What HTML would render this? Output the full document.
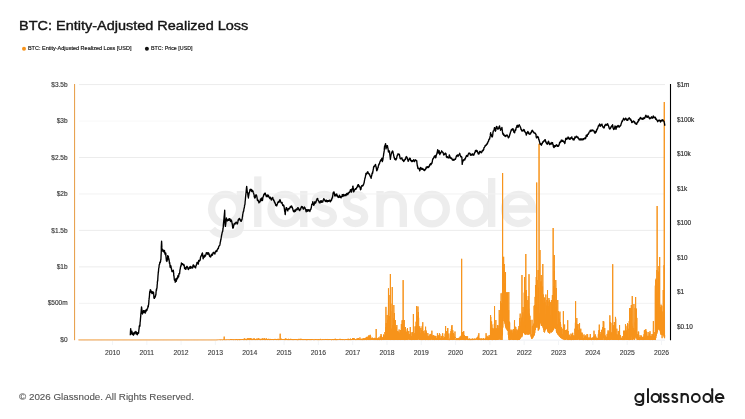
<!DOCTYPE html>
<html><head><meta charset="utf-8"><style>
html,body{margin:0;padding:0;background:#fff;}
body{width:745px;height:419px;overflow:hidden;}
svg{display:block;will-change:transform;font-family:"Liberation Sans",sans-serif;}
</style></head><body>
<svg width="745" height="419" viewBox="0 0 745 419">
<rect width="745" height="419" fill="#fff"/>
<text x="19" y="29.5" font-size="13.3" fill="#151515" stroke="#151515" stroke-width="0.4" textLength="229.3" lengthAdjust="spacingAndGlyphs">BTC: Entity-Adjusted Realized Loss</text>
<circle cx="24" cy="48.8" r="2" fill="#f7931a"/>
<text x="27.9" y="49.7" font-size="5.3" fill="#111" stroke="#111" stroke-width="0.15" textLength="103.6" lengthAdjust="spacingAndGlyphs">BTC: Entity-Adjusted Realized Loss [USD]</text>
<circle cx="146.9" cy="48.8" r="2" fill="#111"/>
<text x="151" y="49.7" font-size="5.3" fill="#111" stroke="#111" stroke-width="0.15" textLength="41.6" lengthAdjust="spacingAndGlyphs">BTC: Price [USD]</text>
<!-- watermark -->
<defs><g id="gn" fill="none">
<ellipse cx="225.6" cy="209" rx="14" ry="14.55"/>
<path d="M240.4,190.9V226C240.4,232.5 234,234.8 226,234.8C219.5,234.8 215,232.5 212.2,229.2"/>
<path d="M257.8,176.4V227"/>
<ellipse cx="285" cy="209" rx="14" ry="14.55"/>
<path d="M303.8,190.9V227"/>
<path id="s1" d="M332.5,199.5C331,196 327.8,194.4 324.2,194.4C319,194.4 315.3,197 315.3,201.2C315.3,205.5 319.5,207.3 324.2,208.6C329.5,210 333.4,212 333.4,216.3C333.4,220.8 329.4,223.5 324.2,223.5C319.8,223.5 316.2,221.5 314.6,217.5"/>
<path d="M332.5,199.5C331,196 327.8,194.4 324.2,194.4C319,194.4 315.3,197 315.3,201.2C315.3,205.5 319.5,207.3 324.2,208.6C329.5,210 333.4,212 333.4,216.3C333.4,220.8 329.4,223.5 324.2,223.5C319.8,223.5 316.2,221.5 314.6,217.5" transform="translate(31.3,0)"/>
<path d="M380,190.9V227M380,208C380,199 385,194.4 391.3,194.4C398.5,194.4 403.3,199 403.3,207V227"/>
<ellipse cx="432" cy="209.2" rx="14.3" ry="14.7"/>
<ellipse cx="473.4" cy="209" rx="13.7" ry="14.55"/>
<path d="M491.7,178V227"/>
<path d="M504.5,209H532.5A14,14.55 0 1 0 529.2,218.4"/>
</g></defs>
<use href="#gn" stroke="#ededed" stroke-width="7.3"/>
<!-- gridlines -->
<g stroke-width="1">
<path d="M79,84.6H665M79,157.5H665M79,230.4H665M79,266.9H665" stroke="#ececec"/>
<path d="M79,121.05H665" stroke="#f8f8f8"/>
<path d="M79,193.95H665M79,303.3H665" stroke="#f2f2f2"/>
<path d="M79,340.1H665" stroke="#eceff3"/>
</g>
<!-- x ticks -->
<g stroke="#f0f2f5" stroke-width="0.8">
<path d="M112.5,341V345M146.8,341V345M181.1,341V345M215.4,341V345M249.7,341V345M284.1,341V345M318.4,341V345M352.7,341V345M387.0,341V345M421.3,341V345M455.6,341V345M489.9,341V345M524.2,341V345M558.5,341V345M592.8,341V345M627.2,341V345M661.5,341V345"/>
</g>
<!-- axes -->
<path d="M74.6,84V340.2" stroke="#e69a40" stroke-width="1"/>
<path d="M670.5,84V340.2" stroke="#000" stroke-width="1.1"/>
<g font-size="6.5" fill="#383838" stroke="#383838" stroke-width="0.15" text-anchor="end">
<text x="67.6" y="86.7">$3.5b</text>
<text x="67.6" y="123.1">$3b</text>
<text x="67.6" y="159.6">$2.5b</text>
<text x="67.6" y="196.0">$2b</text>
<text x="67.6" y="232.5">$1.5b</text>
<text x="67.6" y="269.0">$1b</text>
<text x="67.6" y="305.4">$500m</text>
<text x="67.6" y="341.9">$0</text>
</g>
<g font-size="6.4" fill="#2a2a2a" stroke="#2a2a2a" stroke-width="0.15">
<text x="676.9" y="87.1">$1m</text>
<text x="676.9" y="121.6">$100k</text>
<text x="676.9" y="156.1">$10k</text>
<text x="676.9" y="190.6">$1k</text>
<text x="676.9" y="225.1">$100</text>
<text x="676.9" y="259.6">$10</text>
<text x="676.9" y="294.1">$1</text>
<text x="676.9" y="328.6">$0.10</text>
</g>
<g font-size="6.8" fill="#404040" stroke="#404040" stroke-width="0.12" text-anchor="middle">
<text x="112.5" y="355.2">2010</text>
<text x="146.8" y="355.2">2011</text>
<text x="181.1" y="355.2">2012</text>
<text x="215.4" y="355.2">2013</text>
<text x="249.7" y="355.2">2014</text>
<text x="284.1" y="355.2">2015</text>
<text x="318.4" y="355.2">2016</text>
<text x="352.7" y="355.2">2017</text>
<text x="387.0" y="355.2">2018</text>
<text x="421.3" y="355.2">2019</text>
<text x="455.6" y="355.2">2020</text>
<text x="489.9" y="355.2">2021</text>
<text x="524.2" y="355.2">2022</text>
<text x="558.5" y="355.2">2023</text>
<text x="592.8" y="355.2">2024</text>
<text x="627.2" y="355.2">2025</text>
<text x="661.5" y="355.2">2026</text>
</g>
<!-- orange series -->
<path d="M78.40,339.9 78.50,339.9 78.59,339.9 78.68,339.9 78.78,339.9 78.87,339.9 78.96,339.9 79.06,339.9 79.15,339.9 79.25,339.9 79.34,339.9 79.43,339.9 79.53,339.9 79.62,339.9 79.72,339.9 79.81,339.9 79.90,339.9 80.00,339.9 80.09,339.9 80.19,339.9 80.28,339.9 80.37,339.9 80.47,339.9 80.56,339.9 80.66,339.9 80.75,339.9 80.84,339.9 80.94,339.9 81.03,339.9 81.13,339.9 81.22,339.9 81.31,339.9 81.41,339.9 81.50,339.9 81.60,339.9 81.69,339.9 81.78,339.9 81.88,339.9 81.97,339.9 82.06,339.9 82.16,339.9 82.25,339.9 82.35,339.9 82.44,339.9 82.53,339.9 82.63,339.9 82.72,339.9 82.82,339.9 82.91,339.9 83.00,339.9 83.10,339.9 83.19,339.9 83.29,339.9 83.38,339.9 83.47,339.9 83.57,339.9 83.66,339.9 83.76,339.9 83.85,339.9 83.94,339.9 84.04,339.9 84.13,339.9 84.23,339.9 84.32,339.9 84.41,339.9 84.51,339.9 84.60,339.9 84.70,339.9 84.79,339.9 84.88,339.9 84.98,339.9 85.07,339.9 85.16,339.9 85.26,339.9 85.35,339.9 85.45,339.9 85.54,339.9 85.63,339.9 85.73,339.9 85.82,339.9 85.92,339.9 86.01,339.9 86.10,339.9 86.20,339.9 86.29,339.9 86.39,339.9 86.48,339.9 86.57,339.9 86.67,339.9 86.76,339.9 86.86,339.9 86.95,339.9 87.04,339.9 87.14,339.9 87.23,339.9 87.33,339.9 87.42,339.9 87.51,339.9 87.61,339.9 87.70,339.9 87.79,339.9 87.89,339.9 87.98,339.9 88.08,339.9 88.17,339.9 88.26,339.9 88.36,339.9 88.45,339.9 88.55,339.9 88.64,339.9 88.73,339.9 88.83,339.9 88.92,339.9 89.02,339.9 89.11,339.9 89.20,339.9 89.30,339.9 89.39,339.9 89.49,339.9 89.58,339.9 89.67,339.9 89.77,339.9 89.86,339.9 89.96,339.9 90.05,339.9 90.14,339.9 90.24,339.9 90.33,339.9 90.43,339.9 90.52,339.9 90.61,339.9 90.71,339.9 90.80,339.9 90.89,339.9 90.99,339.9 91.08,339.9 91.18,339.9 91.27,339.9 91.36,339.9 91.46,339.9 91.55,339.9 91.65,339.9 91.74,339.9 91.83,339.9 91.93,339.9 92.02,339.9 92.12,339.9 92.21,339.9 92.30,339.9 92.40,339.9 92.49,339.9 92.59,339.9 92.68,339.9 92.77,339.9 92.87,339.9 92.96,339.9 93.06,339.9 93.15,339.9 93.24,339.9 93.34,339.9 93.43,339.9 93.52,339.9 93.62,339.9 93.71,339.9 93.81,339.9 93.90,339.9 93.99,339.9 94.09,339.9 94.18,339.9 94.28,339.9 94.37,339.9 94.46,339.9 94.56,339.9 94.65,339.9 94.75,339.9 94.84,339.9 94.93,339.9 95.03,339.9 95.12,339.9 95.22,339.9 95.31,339.9 95.40,339.9 95.50,339.9 95.59,339.9 95.69,339.9 95.78,339.9 95.87,339.9 95.97,339.9 96.06,339.9 96.16,339.9 96.25,339.9 96.34,339.9 96.44,339.9 96.53,339.9 96.62,339.9 96.72,339.9 96.81,339.9 96.91,339.9 97.00,339.9 97.09,339.9 97.19,339.9 97.28,339.9 97.38,339.9 97.47,339.9 97.56,339.9 97.66,339.9 97.75,339.9 97.85,339.9 97.94,339.9 98.03,339.9 98.13,339.9 98.22,339.9 98.32,339.9 98.41,339.9 98.50,339.9 98.60,339.9 98.69,339.9 98.79,339.9 98.88,339.9 98.97,339.9 99.07,339.9 99.16,339.9 99.26,339.9 99.35,339.9 99.44,339.9 99.54,339.9 99.63,339.9 99.72,339.9 99.82,339.9 99.91,339.9 100.01,339.9 100.10,339.9 100.19,339.9 100.29,339.9 100.38,339.9 100.48,339.9 100.57,339.9 100.66,339.9 100.76,339.9 100.85,339.9 100.95,339.9 101.04,339.9 101.13,339.9 101.23,339.9 101.32,339.9 101.42,339.9 101.51,339.9 101.60,339.9 101.70,339.9 101.79,339.9 101.89,339.9 101.98,339.9 102.07,339.9 102.17,339.9 102.26,339.9 102.35,339.9 102.45,339.9 102.54,339.9 102.64,339.9 102.73,339.9 102.82,339.9 102.92,339.9 103.01,339.9 103.11,339.9 103.20,339.9 103.29,339.9 103.39,339.9 103.48,339.9 103.58,339.9 103.67,339.9 103.76,339.9 103.86,339.9 103.95,339.9 104.05,339.9 104.14,339.9 104.23,339.9 104.33,339.9 104.42,339.9 104.52,339.9 104.61,339.9 104.70,339.9 104.80,339.9 104.89,339.9 104.99,339.9 105.08,339.9 105.17,339.9 105.27,339.9 105.36,339.9 105.45,339.9 105.55,339.9 105.64,339.9 105.74,339.9 105.83,339.9 105.92,339.9 106.02,339.9 106.11,339.9 106.21,339.9 106.30,339.9 106.39,339.9 106.49,339.9 106.58,339.9 106.68,339.9 106.77,339.9 106.86,339.9 106.96,339.9 107.05,339.9 107.15,339.9 107.24,339.9 107.33,339.9 107.43,339.9 107.52,339.9 107.62,339.9 107.71,339.9 107.80,339.9 107.90,339.9 107.99,339.9 108.09,339.9 108.18,339.9 108.27,339.9 108.37,339.9 108.46,339.9 108.55,339.9 108.65,339.9 108.74,339.9 108.84,339.9 108.93,339.9 109.02,339.9 109.12,339.9 109.21,339.9 109.31,339.9 109.40,339.9 109.49,339.9 109.59,339.9 109.68,339.9 109.78,339.9 109.87,339.9 109.96,339.9 110.06,339.9 110.15,339.9 110.25,339.9 110.34,339.9 110.43,339.9 110.53,339.9 110.62,339.9 110.72,339.9 110.81,339.9 110.90,339.9 111.00,339.9 111.09,339.9 111.18,339.9 111.28,339.9 111.37,339.9 111.47,339.9 111.56,339.9 111.65,339.9 111.75,339.9 111.84,339.9 111.94,339.9 112.03,339.9 112.12,339.9 112.22,339.9 112.31,339.9 112.41,339.9 112.50,339.9 112.59,339.9 112.69,339.9 112.78,339.9 112.88,339.9 112.97,339.9 113.06,339.9 113.16,339.9 113.25,339.9 113.35,339.9 113.44,339.9 113.53,339.9 113.63,339.9 113.72,339.9 113.82,339.9 113.91,339.9 114.00,339.9 114.10,339.9 114.19,339.9 114.28,339.9 114.38,339.9 114.47,339.9 114.57,339.9 114.66,339.9 114.75,339.9 114.85,339.9 114.94,339.9 115.04,339.9 115.13,339.9 115.22,339.9 115.32,339.9 115.41,339.9 115.51,339.9 115.60,339.9 115.69,339.9 115.79,339.9 115.88,339.9 115.98,339.9 116.07,339.9 116.16,339.9 116.26,339.9 116.35,339.9 116.45,339.9 116.54,339.9 116.63,339.9 116.73,339.9 116.82,339.9 116.91,339.9 117.01,339.9 117.10,339.9 117.20,339.9 117.29,339.9 117.38,339.9 117.48,339.9 117.57,339.9 117.67,339.9 117.76,339.9 117.85,339.9 117.95,339.9 118.04,339.9 118.14,339.9 118.23,339.9 118.32,339.9 118.42,339.9 118.51,339.9 118.61,339.9 118.70,339.9 118.79,339.9 118.89,339.9 118.98,339.9 119.08,339.9 119.17,339.9 119.26,339.9 119.36,339.9 119.45,339.9 119.55,339.9 119.64,339.9 119.73,339.9 119.83,339.9 119.92,339.9 120.01,339.9 120.11,339.9 120.20,339.9 120.30,339.9 120.39,339.9 120.48,339.9 120.58,339.9 120.67,339.9 120.77,339.9 120.86,339.9 120.95,339.9 121.05,339.9 121.14,339.9 121.24,339.9 121.33,339.9 121.42,339.9 121.52,339.9 121.61,339.9 121.71,339.9 121.80,339.9 121.89,339.9 121.99,339.9 122.08,339.9 122.18,339.9 122.27,339.9 122.36,339.9 122.46,339.9 122.55,339.9 122.65,339.9 122.74,339.9 122.83,339.9 122.93,339.9 123.02,339.9 123.11,339.9 123.21,339.9 123.30,339.9 123.40,339.9 123.49,339.9 123.58,339.9 123.68,339.9 123.77,339.9 123.87,339.9 123.96,339.9 124.05,339.9 124.15,339.9 124.24,339.9 124.34,339.9 124.43,339.9 124.52,339.9 124.62,339.9 124.71,339.9 124.81,339.9 124.90,339.9 124.99,339.9 125.09,339.9 125.18,339.9 125.28,339.9 125.37,339.9 125.46,339.9 125.56,339.9 125.65,339.9 125.74,339.9 125.84,339.9 125.93,339.9 126.03,339.9 126.12,339.9 126.21,339.9 126.31,339.9 126.40,339.9 126.50,339.9 126.59,339.9 126.68,339.9 126.78,339.9 126.87,339.9 126.97,339.9 127.06,339.9 127.15,339.9 127.25,339.9 127.34,339.9 127.44,339.9 127.53,339.9 127.62,339.9 127.72,339.9 127.81,339.9 127.91,339.9 128.00,339.9 128.09,339.9 128.19,339.9 128.28,339.9 128.38,339.9 128.47,339.9 128.56,339.9 128.66,339.9 128.75,339.9 128.84,339.9 128.94,339.9 129.03,339.9 129.13,339.9 129.22,339.9 129.31,339.9 129.41,339.9 129.50,339.9 129.60,339.9 129.69,339.9 129.78,339.9 129.88,339.9 129.97,339.9 130.07,339.9 130.16,339.9 130.25,339.9 130.35,339.9 130.44,339.9 130.54,339.9 130.63,339.9 130.72,339.9 130.82,339.9 130.91,339.9 131.01,339.9 131.10,339.9 131.19,339.9 131.29,339.9 131.38,339.9 131.48,339.9 131.57,339.9 131.66,339.9 131.76,339.9 131.85,339.9 131.94,339.9 132.04,339.9 132.13,339.9 132.23,339.9 132.32,339.9 132.41,339.9 132.51,339.9 132.60,339.9 132.70,339.9 132.79,339.9 132.88,339.9 132.98,339.9 133.07,339.9 133.17,339.9 133.26,339.9 133.35,339.9 133.45,339.9 133.54,339.9 133.64,339.9 133.73,339.9 133.82,339.9 133.92,339.9 134.01,339.9 134.11,339.9 134.20,339.9 134.29,339.9 134.39,339.9 134.48,339.9 134.57,339.9 134.67,339.9 134.76,339.9 134.86,339.9 134.95,339.9 135.04,339.9 135.14,339.9 135.23,339.9 135.33,339.9 135.42,339.9 135.51,339.9 135.61,339.9 135.70,339.9 135.80,339.9 135.89,339.9 135.98,339.9 136.08,339.9 136.17,339.9 136.27,339.9 136.36,339.9 136.45,339.9 136.55,339.9 136.64,339.9 136.74,339.9 136.83,339.9 136.92,339.9 137.02,339.9 137.11,339.9 137.21,339.9 137.30,339.9 137.39,339.9 137.49,339.9 137.58,339.9 137.67,339.9 137.77,339.9 137.86,339.9 137.96,339.9 138.05,339.9 138.14,339.9 138.24,339.9 138.33,339.9 138.43,339.9 138.52,339.9 138.61,339.9 138.71,339.9 138.80,339.9 138.90,339.9 138.99,339.9 139.08,339.9 139.18,339.9 139.27,339.9 139.37,339.9 139.46,339.9 139.55,339.9 139.65,339.9 139.74,339.9 139.84,339.9 139.93,339.9 140.02,339.9 140.12,339.9 140.21,339.9 140.30,339.9 140.40,339.9 140.49,339.9 140.59,339.9 140.68,339.9 140.77,339.9 140.87,339.9 140.96,339.9 141.06,339.9 141.15,339.9 141.24,339.9 141.34,339.9 141.43,339.9 141.53,339.9 141.62,339.9 141.71,339.9 141.81,339.9 141.90,339.9 142.00,339.9 142.09,339.9 142.18,339.9 142.28,339.9 142.37,339.9 142.47,339.9 142.56,339.9 142.65,339.9 142.75,339.9 142.84,339.9 142.94,339.9 143.03,339.9 143.12,339.9 143.22,339.9 143.31,339.9 143.40,339.9 143.50,339.9 143.59,339.9 143.69,339.9 143.78,339.9 143.87,339.9 143.97,339.9 144.06,339.9 144.16,339.9 144.25,339.9 144.34,339.9 144.44,339.9 144.53,339.9 144.63,339.9 144.72,339.9 144.81,339.9 144.91,339.9 145.00,339.9 145.10,339.9 145.19,339.9 145.28,339.9 145.38,339.9 145.47,339.9 145.57,339.9 145.66,339.9 145.75,339.9 145.85,339.9 145.94,339.9 146.04,339.9 146.13,339.9 146.22,339.9 146.32,339.9 146.41,339.9 146.50,339.9 146.60,339.9 146.69,339.9 146.79,339.9 146.88,339.9 146.97,339.9 147.07,339.9 147.16,339.9 147.26,339.9 147.35,339.9 147.44,339.9 147.54,339.9 147.63,339.9 147.73,339.9 147.82,339.9 147.91,339.9 148.01,339.9 148.10,339.9 148.20,339.9 148.29,339.9 148.38,339.9 148.48,339.9 148.57,339.9 148.67,339.9 148.76,339.9 148.85,339.9 148.95,339.9 149.04,339.9 149.13,339.9 149.23,339.9 149.32,339.9 149.42,339.9 149.51,339.9 149.60,339.9 149.70,339.9 149.79,339.9 149.89,339.9 149.98,339.9 150.07,339.9 150.17,339.9 150.26,339.9 150.36,339.9 150.45,339.9 150.54,339.9 150.64,339.9 150.73,339.9 150.83,339.9 150.92,339.9 151.01,339.9 151.11,339.9 151.20,339.9 151.30,339.9 151.39,339.9 151.48,339.9 151.58,339.9 151.67,339.9 151.77,339.9 151.86,339.9 151.95,339.9 152.05,339.9 152.14,339.9 152.23,339.9 152.33,339.9 152.42,339.9 152.52,339.9 152.61,339.9 152.70,339.9 152.80,339.9 152.89,339.9 152.99,339.9 153.08,339.9 153.17,339.9 153.27,339.9 153.36,339.9 153.46,339.9 153.55,339.9 153.64,339.9 153.74,339.9 153.83,339.9 153.93,339.9 154.02,339.9 154.11,339.9 154.21,339.9 154.30,339.9 154.40,339.9 154.49,339.9 154.58,339.9 154.68,339.9 154.77,339.9 154.86,339.9 154.96,339.9 155.05,339.9 155.15,339.9 155.24,339.9 155.33,339.9 155.43,339.9 155.52,339.9 155.62,339.9 155.71,339.9 155.80,339.9 155.90,339.9 155.99,339.9 156.09,339.9 156.18,339.9 156.27,339.9 156.37,339.9 156.46,339.9 156.56,339.9 156.65,339.9 156.74,339.9 156.84,339.9 156.93,339.9 157.03,339.9 157.12,339.9 157.21,339.9 157.31,339.9 157.40,339.9 157.50,339.9 157.59,339.9 157.68,339.9 157.78,339.9 157.87,339.9 157.96,339.9 158.06,339.9 158.15,339.9 158.25,339.9 158.34,339.9 158.43,339.9 158.53,339.9 158.62,339.9 158.72,339.9 158.81,339.9 158.90,339.9 159.00,339.9 159.09,339.9 159.19,339.9 159.28,339.9 159.37,339.9 159.47,339.9 159.56,339.9 159.66,339.9 159.75,339.9 159.84,339.9 159.94,339.9 160.03,339.9 160.13,339.9 160.22,339.9 160.31,339.9 160.41,339.9 160.50,339.9 160.60,339.9 160.69,339.9 160.78,339.9 160.88,339.9 160.97,339.9 161.06,339.9 161.16,339.9 161.25,339.9 161.35,339.9 161.44,339.9 161.53,339.9 161.63,339.9 161.72,339.9 161.82,339.9 161.91,339.9 162.00,339.9 162.10,339.9 162.19,339.9 162.29,339.9 162.38,339.9 162.47,339.9 162.57,339.9 162.66,339.9 162.76,339.9 162.85,339.9 162.94,339.9 163.04,339.9 163.13,339.9 163.23,339.9 163.32,339.9 163.41,339.9 163.51,339.9 163.60,339.9 163.69,339.9 163.79,339.9 163.88,339.9 163.98,339.9 164.07,339.9 164.16,339.9 164.26,339.9 164.35,339.9 164.45,339.9 164.54,339.9 164.63,339.9 164.73,339.9 164.82,339.9 164.92,339.9 165.01,339.9 165.10,339.9 165.20,339.9 165.29,339.9 165.39,339.9 165.48,339.9 165.57,339.9 165.67,339.9 165.76,339.9 165.86,339.9 165.95,339.9 166.04,339.9 166.14,339.9 166.23,339.9 166.33,339.9 166.42,339.9 166.51,339.9 166.61,339.9 166.70,339.9 166.79,339.9 166.89,339.9 166.98,339.9 167.08,339.9 167.17,339.9 167.26,339.9 167.36,339.9 167.45,339.9 167.55,339.9 167.64,339.9 167.73,339.9 167.83,339.9 167.92,339.9 168.02,339.9 168.11,339.9 168.20,339.9 168.30,339.9 168.39,339.9 168.49,339.9 168.58,339.9 168.67,339.9 168.77,339.9 168.86,339.9 168.96,339.9 169.05,339.9 169.14,339.9 169.24,339.9 169.33,339.9 169.43,339.9 169.52,339.9 169.61,339.9 169.71,339.9 169.80,339.9 169.89,339.9 169.99,339.9 170.08,339.9 170.18,339.9 170.27,339.9 170.36,339.9 170.46,339.9 170.55,339.9 170.65,339.9 170.74,339.9 170.83,339.9 170.93,339.9 171.02,339.9 171.12,339.9 171.21,339.9 171.30,339.9 171.40,339.9 171.49,339.9 171.59,339.9 171.68,339.9 171.77,339.9 171.87,339.9 171.96,339.9 172.06,339.9 172.15,339.9 172.24,339.9 172.34,339.9 172.43,339.9 172.52,339.9 172.62,339.9 172.71,339.9 172.81,339.9 172.90,339.9 172.99,339.9 173.09,339.9 173.18,339.9 173.28,339.9 173.37,339.9 173.46,339.9 173.56,339.9 173.65,339.9 173.75,339.9 173.84,339.9 173.93,339.9 174.03,339.9 174.12,339.9 174.22,339.9 174.31,339.9 174.40,339.9 174.50,339.9 174.59,339.9 174.69,339.9 174.78,339.9 174.87,339.9 174.97,339.9 175.06,339.9 175.16,339.9 175.25,339.9 175.34,339.9 175.44,339.9 175.53,339.9 175.62,339.9 175.72,339.9 175.81,339.9 175.91,339.9 176.00,339.9 176.09,339.9 176.19,339.9 176.28,339.9 176.38,339.9 176.47,339.9 176.56,339.9 176.66,339.9 176.75,339.9 176.85,339.9 176.94,339.9 177.03,339.9 177.13,339.9 177.22,339.9 177.32,339.9 177.41,339.9 177.50,339.9 177.60,339.9 177.69,339.9 177.79,339.9 177.88,339.9 177.97,339.9 178.07,339.9 178.16,339.9 178.25,339.9 178.35,339.9 178.44,339.9 178.54,339.9 178.63,339.9 178.72,339.9 178.82,339.9 178.91,339.9 179.01,339.9 179.10,339.9 179.19,339.9 179.29,339.9 179.38,339.9 179.48,339.9 179.57,339.9 179.66,339.9 179.76,339.9 179.85,339.9 179.95,339.9 180.04,339.9 180.13,339.9 180.23,339.9 180.32,339.9 180.42,339.9 180.51,339.9 180.60,339.9 180.70,339.9 180.79,339.9 180.89,339.9 180.98,339.9 181.07,339.9 181.17,339.9 181.26,339.9 181.35,339.9 181.45,339.9 181.54,339.9 181.64,339.9 181.73,339.9 181.82,339.9 181.92,339.9 182.01,339.9 182.11,339.9 182.20,339.9 182.29,339.9 182.39,339.9 182.48,339.9 182.58,339.9 182.67,339.9 182.76,339.9 182.86,339.9 182.95,339.9 183.05,339.9 183.14,339.9 183.23,339.9 183.33,339.9 183.42,339.9 183.52,339.9 183.61,339.9 183.70,339.9 183.80,339.9 183.89,339.9 183.99,339.9 184.08,339.9 184.17,339.9 184.27,339.9 184.36,339.9 184.45,339.9 184.55,339.9 184.64,339.9 184.74,339.9 184.83,339.9 184.92,339.9 185.02,339.9 185.11,339.9 185.21,339.9 185.30,339.9 185.39,339.9 185.49,339.9 185.58,339.9 185.68,339.9 185.77,339.9 185.86,339.9 185.96,339.9 186.05,339.9 186.15,339.9 186.24,339.9 186.33,339.9 186.43,339.9 186.52,339.9 186.62,339.9 186.71,339.9 186.80,339.9 186.90,339.9 186.99,339.9 187.08,339.9 187.18,339.9 187.27,339.9 187.37,339.9 187.46,339.9 187.55,339.9 187.65,339.9 187.74,339.9 187.84,339.9 187.93,339.9 188.02,339.9 188.12,339.9 188.21,339.9 188.31,339.9 188.40,339.9 188.49,339.9 188.59,339.9 188.68,339.9 188.78,339.9 188.87,339.9 188.96,339.9 189.06,339.9 189.15,339.9 189.25,339.9 189.34,339.9 189.43,339.9 189.53,339.9 189.62,339.9 189.72,339.9 189.81,339.9 189.90,339.9 190.00,339.9 190.09,339.9 190.18,339.9 190.28,339.9 190.37,339.9 190.47,339.9 190.56,339.9 190.65,339.9 190.75,339.9 190.84,339.9 190.94,339.9 191.03,339.9 191.12,339.9 191.22,339.9 191.31,339.9 191.41,339.9 191.50,339.9 191.59,339.9 191.69,339.9 191.78,339.9 191.88,339.9 191.97,339.9 192.06,339.9 192.16,339.9 192.25,339.9 192.35,339.9 192.44,339.9 192.53,339.9 192.63,339.9 192.72,339.9 192.81,339.9 192.91,339.9 193.00,339.9 193.10,339.9 193.19,339.9 193.28,339.9 193.38,339.9 193.47,339.9 193.57,339.9 193.66,339.9 193.75,339.9 193.85,339.9 193.94,339.9 194.04,339.9 194.13,339.9 194.22,339.9 194.32,339.9 194.41,339.9 194.51,339.9 194.60,339.9 194.69,339.9 194.79,339.9 194.88,339.9 194.98,339.9 195.07,339.9 195.16,339.9 195.26,339.9 195.35,339.9 195.45,339.9 195.54,339.9 195.63,339.9 195.73,339.9 195.82,339.9 195.91,339.9 196.01,339.9 196.10,339.9 196.20,339.9 196.29,339.9 196.38,339.9 196.48,339.9 196.57,339.9 196.67,339.9 196.76,339.9 196.85,339.9 196.95,339.9 197.04,339.9 197.14,339.9 197.23,339.9 197.32,339.9 197.42,339.9 197.51,339.9 197.61,339.9 197.70,339.9 197.79,339.9 197.89,339.9 197.98,339.9 198.08,339.9 198.17,339.9 198.26,339.9 198.36,339.9 198.45,339.9 198.55,339.9 198.64,339.9 198.73,339.9 198.83,339.9 198.92,339.9 199.01,339.9 199.11,339.9 199.20,339.9 199.30,339.9 199.39,339.9 199.48,339.9 199.58,339.9 199.67,339.9 199.77,339.9 199.86,339.9 199.95,339.9 200.05,339.9 200.14,339.9 200.24,339.9 200.33,339.9 200.42,339.9 200.52,339.9 200.61,339.9 200.71,339.9 200.80,339.9 200.89,339.9 200.99,339.9 201.08,339.9 201.18,339.9 201.27,339.9 201.36,339.9 201.46,339.9 201.55,339.9 201.64,339.9 201.74,339.9 201.83,339.9 201.93,339.9 202.02,339.9 202.11,339.9 202.21,339.9 202.30,339.9 202.40,339.9 202.49,339.9 202.58,339.9 202.68,339.9 202.77,339.9 202.87,339.9 202.96,339.9 203.05,339.9 203.15,339.9 203.24,339.9 203.34,339.9 203.43,339.9 203.52,339.9 203.62,339.9 203.71,339.9 203.81,339.9 203.90,339.9 203.99,339.9 204.09,339.9 204.18,339.9 204.28,339.9 204.37,339.9 204.46,339.9 204.56,339.9 204.65,339.9 204.74,339.9 204.84,339.9 204.93,339.9 205.03,339.9 205.12,339.9 205.21,339.9 205.31,339.9 205.40,339.9 205.50,339.9 205.59,339.9 205.68,339.9 205.78,339.9 205.87,339.9 205.97,339.9 206.06,339.9 206.15,339.9 206.25,339.9 206.34,339.9 206.44,339.9 206.53,339.9 206.62,339.9 206.72,339.9 206.81,339.9 206.91,339.9 207.00,339.9 207.09,339.9 207.19,339.9 207.28,339.9 207.38,339.9 207.47,339.9 207.56,339.9 207.66,339.9 207.75,339.9 207.84,339.9 207.94,339.9 208.03,339.9 208.13,339.9 208.22,339.9 208.31,339.9 208.41,339.9 208.50,339.9 208.60,339.9 208.69,339.9 208.78,339.9 208.88,339.9 208.97,339.9 209.07,339.9 209.16,339.9 209.25,339.9 209.35,339.9 209.44,339.9 209.54,339.9 209.63,339.9 209.72,339.9 209.82,339.9 209.91,339.9 210.01,339.9 210.10,339.9 210.19,339.9 210.29,339.9 210.38,339.9 210.47,339.9 210.57,339.9 210.66,339.9 210.76,339.9 210.85,339.9 210.94,339.9 211.04,339.9 211.13,339.9 211.23,339.9 211.32,339.9 211.41,339.9 211.51,339.9 211.60,339.9 211.70,339.9 211.79,339.9 211.88,339.9 211.98,339.9 212.07,339.9 212.17,339.9 212.26,339.9 212.35,339.9 212.45,339.9 212.54,339.9 212.64,339.9 212.73,339.9 212.82,339.9 212.92,339.9 213.01,339.9 213.11,339.9 213.20,339.9 213.29,339.9 213.39,339.9 213.48,339.9 213.57,339.9 213.67,339.9 213.76,339.9 213.86,339.9 213.95,339.9 214.04,339.9 214.14,339.9 214.23,339.9 214.33,339.9 214.42,339.9 214.51,339.9 214.61,339.9 214.70,339.9 214.80,339.9 214.89,339.9 214.98,339.9 215.08,339.9 215.17,339.9 215.27,339.9 215.36,339.9 215.45,339.9 215.55,339.9 215.64,339.9 215.74,339.9 215.83,339.9 215.92,339.9 216.02,339.9 216.11,339.9 216.20,339.9 216.30,339.9 216.39,339.9 216.49,339.9 216.58,339.9 216.67,339.9 216.77,339.9 216.86,339.9 216.96,339.9 217.05,339.8 217.14,339.9 217.24,339.9 217.33,339.9 217.43,339.9 217.52,339.9 217.61,339.8 217.71,339.9 217.80,339.9 217.90,339.9 217.99,339.9 218.08,339.8 218.18,339.9 218.27,339.8 218.37,339.8 218.46,339.9 218.55,339.9 218.65,339.8 218.74,339.9 218.84,339.9 218.93,339.9 219.02,339.8 219.12,339.9 219.21,339.8 219.30,339.9 219.40,339.9 219.49,339.9 219.59,339.7 219.68,339.7 219.77,339.9 219.87,339.9 219.96,339.8 220.06,339.9 220.15,339.9 220.24,339.9 220.34,339.9 220.43,339.7 220.53,339.8 220.62,339.8 220.71,339.9 220.81,339.9 220.90,339.9 221.00,339.8 221.09,339.9 221.18,339.6 221.28,339.8 221.37,339.7 221.47,339.8 221.56,339.7 221.65,339.9 221.75,339.9 221.84,339.9 221.94,339.9 222.03,339.9 222.12,339.8 222.22,339.9 222.31,339.9 222.40,339.9 222.50,339.9 222.59,339.9 222.69,339.9 222.78,339.9 222.87,339.6 222.97,339.9 223.06,339.9 223.16,339.9 223.25,339.8 223.34,339.7 223.44,339.8 223.53,339.9 223.63,339.8 223.72,339.6 223.81,339.7 223.91,339.9 224.00,339.7 224.10,339.9 224.19,336.6 224.28,339.8 224.38,339.9 224.47,339.8 224.57,339.9 224.66,339.9 224.75,339.9 224.85,339.9 224.94,339.8 225.03,339.9 225.13,339.9 225.22,339.9 225.32,339.8 225.41,339.9 225.50,339.7 225.60,339.8 225.69,339.9 225.79,339.9 225.88,339.9 225.97,339.9 226.07,339.7 226.16,339.9 226.26,339.9 226.35,339.8 226.44,339.6 226.54,339.9 226.63,339.9 226.73,339.9 226.82,339.8 226.91,339.9 227.01,339.9 227.10,339.7 227.20,339.8 227.29,339.7 227.38,339.9 227.48,339.9 227.57,339.9 227.67,339.7 227.76,339.9 227.85,339.8 227.95,339.9 228.04,339.9 228.13,339.9 228.23,339.9 228.32,339.8 228.42,339.5 228.51,339.4 228.60,339.7 228.70,339.8 228.79,339.9 228.89,339.8 228.98,339.8 229.07,339.9 229.17,339.9 229.26,339.9 229.36,339.9 229.45,339.9 229.54,339.6 229.64,339.6 229.73,339.8 229.83,339.9 229.92,339.8 230.01,339.9 230.11,339.9 230.20,339.7 230.30,339.3 230.39,339.8 230.48,339.6 230.58,339.6 230.67,339.6 230.76,339.9 230.86,339.3 230.95,339.8 231.05,339.9 231.14,339.9 231.23,339.6 231.33,339.8 231.42,339.5 231.52,339.9 231.61,339.4 231.70,339.8 231.80,339.9 231.89,339.8 231.99,339.9 232.08,339.9 232.17,339.8 232.27,339.8 232.36,339.6 232.46,339.6 232.55,339.5 232.64,339.5 232.74,339.8 232.83,339.4 232.93,339.8 233.02,339.4 233.11,339.8 233.21,339.7 233.30,339.9 233.40,339.6 233.49,339.9 233.58,339.9 233.68,339.9 233.77,339.9 233.86,339.9 233.96,339.9 234.05,339.7 234.15,339.9 234.24,339.6 234.33,339.6 234.43,339.9 234.52,339.9 234.62,339.7 234.71,339.9 234.80,339.8 234.90,339.9 234.99,339.9 235.09,339.4 235.18,339.7 235.27,339.7 235.37,339.9 235.46,339.9 235.56,339.9 235.65,339.7 235.74,339.9 235.84,339.9 235.93,339.9 236.03,339.1 236.12,339.9 236.21,339.5 236.31,339.9 236.40,339.9 236.50,339.4 236.59,339.9 236.68,339.6 236.78,339.2 236.87,339.9 236.96,339.4 237.06,339.9 237.15,339.9 237.25,339.9 237.34,339.9 237.43,339.9 237.53,339.9 237.62,339.9 237.72,339.9 237.81,339.6 237.90,339.8 238.00,339.8 238.09,339.2 238.19,339.8 238.28,339.9 238.37,339.9 238.47,339.7 238.56,339.8 238.66,339.9 238.75,339.8 238.84,339.3 238.94,339.8 239.03,339.9 239.13,339.9 239.22,339.9 239.31,339.1 239.41,339.9 239.50,339.6 239.59,339.9 239.69,339.9 239.78,339.9 239.88,339.9 239.97,339.9 240.06,339.0 240.16,339.6 240.25,339.8 240.35,339.9 240.44,339.5 240.53,339.3 240.63,339.8 240.72,339.9 240.82,339.9 240.91,339.9 241.00,339.4 241.10,339.8 241.19,339.9 241.29,339.8 241.38,339.4 241.47,339.5 241.57,339.9 241.66,339.8 241.76,339.9 241.85,339.9 241.94,339.7 242.04,339.9 242.13,339.1 242.23,339.5 242.32,339.8 242.41,339.1 242.51,339.8 242.60,339.4 242.69,339.9 242.79,339.7 242.88,339.8 242.98,339.9 243.07,339.8 243.16,339.9 243.26,339.3 243.35,339.6 243.45,339.9 243.54,339.9 243.63,339.9 243.73,339.9 243.82,339.4 243.92,339.3 244.01,339.2 244.10,339.8 244.20,339.8 244.29,338.4 244.39,339.2 244.48,339.9 244.57,339.9 244.67,339.7 244.76,339.9 244.86,338.7 244.95,339.9 245.04,339.9 245.14,339.9 245.23,339.7 245.33,339.1 245.42,339.8 245.51,339.3 245.61,339.3 245.70,339.1 245.79,339.9 245.89,339.8 245.98,339.1 246.08,339.9 246.17,338.9 246.26,339.4 246.36,339.9 246.45,339.9 246.55,339.9 246.64,339.9 246.73,339.5 246.83,339.8 246.92,339.8 247.02,339.8 247.11,339.8 247.20,339.5 247.30,338.7 247.39,338.3 247.49,338.9 247.58,339.9 247.67,338.6 247.77,339.1 247.86,339.9 247.96,339.2 248.05,339.3 248.14,339.3 248.24,339.0 248.33,338.9 248.42,339.2 248.52,339.9 248.61,338.3 248.71,339.9 248.80,339.8 248.89,339.9 248.99,339.7 249.08,339.9 249.18,339.5 249.27,339.9 249.36,338.9 249.46,339.9 249.55,339.9 249.65,339.9 249.74,339.9 249.83,339.5 249.93,338.2 250.02,339.4 250.12,338.5 250.21,339.8 250.30,339.8 250.40,338.2 250.49,339.9 250.59,338.8 250.68,339.4 250.77,338.2 250.87,339.9 250.96,339.4 251.06,338.4 251.15,339.3 251.24,339.2 251.34,339.6 251.43,339.2 251.52,339.8 251.62,339.8 251.71,339.5 251.81,339.8 251.90,339.9 251.99,339.9 252.09,339.9 252.18,339.5 252.28,339.4 252.37,339.4 252.46,339.3 252.56,339.9 252.65,339.9 252.75,339.3 252.84,338.8 252.93,339.6 253.03,339.5 253.12,339.6 253.22,339.9 253.31,339.9 253.40,338.8 253.50,338.6 253.59,339.8 253.69,339.6 253.78,339.9 253.87,339.8 253.97,339.7 254.06,339.9 254.15,339.9 254.25,338.7 254.34,339.2 254.44,339.9 254.53,339.2 254.62,338.6 254.72,339.9 254.81,339.3 254.91,339.9 255.00,339.8 255.09,339.8 255.19,339.8 255.28,339.1 255.38,339.5 255.47,339.9 255.56,339.9 255.66,339.7 255.75,339.9 255.85,339.3 255.94,339.7 256.03,339.9 256.13,339.8 256.22,339.9 256.32,339.9 256.41,339.8 256.50,339.3 256.60,339.8 256.69,339.2 256.79,339.9 256.88,338.5 256.97,339.9 257.07,339.8 257.16,339.7 257.25,339.9 257.35,339.3 257.44,339.3 257.54,339.9 257.63,339.9 257.72,339.8 257.82,339.8 257.91,339.3 258.01,339.6 258.10,338.6 258.19,338.4 258.29,339.9 258.38,339.4 258.48,339.8 258.57,338.5 258.66,339.8 258.76,339.9 258.85,338.8 258.95,339.9 259.04,339.5 259.13,339.5 259.23,339.0 259.32,339.3 259.42,339.6 259.51,339.9 259.60,339.8 259.70,339.9 259.79,339.9 259.89,338.7 259.98,339.8 260.07,339.9 260.17,339.9 260.26,339.9 260.35,339.8 260.45,339.9 260.54,339.9 260.64,339.0 260.73,339.6 260.82,339.9 260.92,339.9 261.01,339.4 261.11,339.9 261.20,339.9 261.29,339.8 261.39,339.9 261.48,338.9 261.58,339.9 261.67,339.1 261.76,339.6 261.86,338.8 261.95,339.9 262.05,339.7 262.14,339.8 262.23,339.9 262.33,339.9 262.42,339.0 262.52,338.5 262.61,338.3 262.70,339.4 262.80,339.5 262.89,339.8 262.98,339.8 263.08,339.5 263.17,339.9 263.27,339.8 263.36,339.9 263.45,338.9 263.55,338.8 263.64,339.6 263.74,339.7 263.83,339.9 263.92,338.9 264.02,339.9 264.11,339.9 264.21,339.9 264.30,338.2 264.39,339.6 264.49,339.4 264.58,338.9 264.68,339.9 264.77,339.7 264.86,339.8 264.96,339.4 265.05,339.9 265.15,339.9 265.24,339.8 265.33,339.9 265.43,339.9 265.52,338.9 265.62,339.9 265.71,339.4 265.80,339.9 265.90,339.8 265.99,339.8 266.08,339.7 266.18,338.7 266.27,339.9 266.37,338.8 266.46,339.9 266.55,338.6 266.65,339.9 266.74,339.1 266.84,339.6 266.93,339.5 267.02,339.9 267.12,339.9 267.21,339.7 267.31,339.9 267.40,339.1 267.49,339.9 267.59,339.9 267.68,339.9 267.78,339.8 267.87,339.3 267.96,339.8 268.06,339.9 268.15,339.6 268.25,339.3 268.34,338.9 268.43,339.6 268.53,339.7 268.62,338.9 268.72,339.9 268.81,339.5 268.90,339.6 269.00,339.6 269.09,339.9 269.18,339.8 269.28,339.9 269.37,339.4 269.47,339.9 269.56,339.7 269.65,339.9 269.75,339.9 269.84,339.9 269.94,339.9 270.03,339.9 270.12,338.9 270.22,339.9 270.31,339.0 270.41,339.9 270.50,339.7 270.59,339.6 270.69,339.9 270.78,339.1 270.88,339.9 270.97,339.9 271.06,339.3 271.16,339.8 271.25,339.8 271.35,339.9 271.44,339.4 271.53,339.7 271.63,339.8 271.72,339.4 271.81,339.8 271.91,339.9 272.00,339.1 272.10,339.9 272.19,339.8 272.28,339.9 272.38,339.3 272.47,339.9 272.57,339.5 272.66,339.9 272.75,339.0 272.85,339.6 272.94,339.6 273.04,339.2 273.13,339.9 273.22,339.9 273.32,339.9 273.41,339.3 273.51,339.8 273.60,339.9 273.69,339.8 273.79,339.9 273.88,339.9 273.98,339.8 274.07,339.7 274.16,339.1 274.26,339.1 274.35,339.4 274.45,339.0 274.54,339.6 274.63,339.9 274.73,339.4 274.82,339.9 274.91,339.0 275.01,338.9 275.10,339.4 275.20,339.8 275.29,339.4 275.38,339.6 275.48,339.7 275.57,339.1 275.67,339.9 275.76,339.2 275.85,339.8 275.95,339.6 276.04,339.0 276.14,339.8 276.23,339.1 276.32,339.8 276.42,339.2 276.51,339.9 276.61,339.8 276.70,339.7 276.79,339.9 276.89,339.9 276.98,339.5 277.08,339.9 277.17,339.5 277.26,339.6 277.36,339.5 277.45,339.5 277.54,339.9 277.64,339.8 277.73,339.2 277.83,339.9 277.92,339.9 278.01,338.8 278.11,338.8 278.20,339.8 278.30,339.9 278.39,339.7 278.48,339.7 278.58,339.9 278.67,339.7 278.77,339.6 278.86,339.5 278.95,339.9 279.05,339.4 279.14,339.8 279.24,339.5 279.33,339.5 279.42,339.9 279.52,339.9 279.61,339.6 279.71,339.1 279.80,339.3 279.89,339.7 279.99,339.9 280.08,339.6 280.18,333.7 280.27,339.7 280.36,339.0 280.46,339.9 280.55,339.0 280.64,339.9 280.74,339.9 280.83,339.0 280.93,339.4 281.02,339.9 281.11,339.6 281.21,339.8 281.30,339.1 281.40,338.7 281.49,339.9 281.58,339.8 281.68,339.9 281.77,339.6 281.87,339.2 281.96,339.1 282.05,339.8 282.15,339.3 282.24,339.9 282.34,339.7 282.43,339.9 282.52,339.3 282.62,339.8 282.71,339.5 282.81,339.9 282.90,339.8 282.99,339.9 283.09,339.6 283.18,339.1 283.28,339.8 283.37,339.9 283.46,339.8 283.56,339.9 283.65,339.3 283.74,339.4 283.84,339.9 283.93,339.8 284.03,339.8 284.12,339.9 284.21,339.2 284.31,339.9 284.40,339.9 284.50,339.9 284.59,339.3 284.68,339.9 284.78,339.9 284.87,339.2 284.97,339.1 285.06,339.9 285.15,339.9 285.25,339.9 285.34,338.6 285.44,339.8 285.53,338.9 285.62,338.7 285.72,339.1 285.81,339.8 285.91,339.9 286.00,339.7 286.09,339.3 286.19,339.4 286.28,339.9 286.37,339.5 286.47,338.8 286.56,339.5 286.66,339.9 286.75,339.3 286.84,339.6 286.94,339.9 287.03,339.8 287.13,339.4 287.22,339.1 287.31,339.8 287.41,339.9 287.50,339.2 287.60,339.2 287.69,339.9 287.78,339.7 287.88,339.7 287.97,339.7 288.07,339.9 288.16,339.9 288.25,339.9 288.35,339.7 288.44,339.9 288.54,338.8 288.63,339.9 288.72,339.9 288.82,339.8 288.91,339.9 289.01,339.6 289.10,339.9 289.19,339.6 289.29,339.7 289.38,339.9 289.47,339.2 289.57,339.9 289.66,339.9 289.76,339.7 289.85,339.9 289.94,339.9 290.04,339.9 290.13,339.3 290.23,339.9 290.32,339.9 290.41,339.5 290.51,339.9 290.60,338.9 290.70,339.1 290.79,338.9 290.88,339.2 290.98,339.9 291.07,339.1 291.17,339.9 291.26,339.8 291.35,339.6 291.45,339.6 291.54,339.3 291.64,339.7 291.73,339.4 291.82,339.9 291.92,339.9 292.01,339.4 292.10,339.9 292.20,339.9 292.29,339.9 292.39,339.9 292.48,339.4 292.57,339.9 292.67,339.4 292.76,339.1 292.86,339.6 292.95,339.3 293.04,339.9 293.14,339.9 293.23,339.3 293.33,339.9 293.42,339.8 293.51,339.9 293.61,339.8 293.70,339.9 293.80,339.7 293.89,339.9 293.98,339.9 294.08,339.9 294.17,339.6 294.27,339.4 294.36,339.9 294.45,339.6 294.55,339.7 294.64,339.3 294.74,339.9 294.83,339.6 294.92,339.9 295.02,339.1 295.11,339.8 295.20,339.9 295.30,339.7 295.39,339.8 295.49,339.9 295.58,339.5 295.67,339.3 295.77,339.1 295.86,339.0 295.96,339.8 296.05,339.3 296.14,339.7 296.24,339.8 296.33,339.7 296.43,339.6 296.52,339.9 296.61,339.9 296.71,339.3 296.80,339.9 296.90,339.9 296.99,339.8 297.08,339.2 297.18,339.8 297.27,339.8 297.37,339.9 297.46,339.9 297.55,339.9 297.65,339.9 297.74,339.9 297.84,339.9 297.93,339.9 298.02,339.8 298.12,339.2 298.21,339.9 298.30,339.9 298.40,339.9 298.49,338.9 298.59,339.9 298.68,339.4 298.77,339.6 298.87,339.9 298.96,339.9 299.06,339.7 299.15,339.1 299.24,339.2 299.34,339.9 299.43,339.6 299.53,339.9 299.62,339.1 299.71,339.9 299.81,339.3 299.90,339.9 300.00,339.9 300.09,338.8 300.18,339.9 300.28,339.9 300.37,339.0 300.47,338.9 300.56,339.9 300.65,339.8 300.75,339.9 300.84,339.9 300.93,339.7 301.03,339.2 301.12,339.9 301.22,339.7 301.31,339.4 301.40,339.5 301.50,338.9 301.59,339.8 301.69,339.8 301.78,339.9 301.87,339.8 301.97,339.2 302.06,339.9 302.16,339.9 302.25,339.5 302.34,339.9 302.44,339.9 302.53,339.6 302.63,339.9 302.72,339.5 302.81,339.8 302.91,339.2 303.00,339.9 303.10,339.9 303.19,339.9 303.28,339.6 303.38,339.4 303.47,339.7 303.57,339.7 303.66,339.5 303.75,339.5 303.85,339.9 303.94,339.5 304.03,339.9 304.13,339.7 304.22,339.9 304.32,339.4 304.41,339.5 304.50,339.9 304.60,339.8 304.69,339.4 304.79,339.8 304.88,339.8 304.97,339.8 305.07,339.7 305.16,339.2 305.26,339.9 305.35,339.9 305.44,339.9 305.54,339.1 305.63,339.9 305.73,339.3 305.82,339.9 305.91,339.8 306.01,339.3 306.10,339.9 306.20,339.9 306.29,339.9 306.38,339.9 306.48,339.9 306.57,339.9 306.67,339.9 306.76,339.9 306.85,339.3 306.95,339.9 307.04,339.1 307.13,339.7 307.23,339.9 307.32,339.9 307.42,339.7 307.51,339.9 307.60,339.4 307.70,339.9 307.79,339.9 307.89,339.9 307.98,339.9 308.07,339.8 308.17,339.9 308.26,339.3 308.36,339.9 308.45,339.4 308.54,339.9 308.64,339.9 308.73,339.4 308.83,339.7 308.92,339.4 309.01,339.7 309.11,339.7 309.20,339.9 309.30,339.9 309.39,339.4 309.48,339.3 309.58,339.6 309.67,339.9 309.76,339.3 309.86,339.9 309.95,339.9 310.05,339.9 310.14,339.9 310.23,339.5 310.33,339.5 310.42,339.9 310.52,339.8 310.61,339.5 310.70,339.9 310.80,339.2 310.89,339.9 310.99,339.9 311.08,339.9 311.17,339.9 311.27,339.2 311.36,339.0 311.46,339.8 311.55,339.6 311.64,339.9 311.74,339.2 311.83,339.9 311.93,339.9 312.02,339.6 312.11,339.9 312.21,339.6 312.30,339.9 312.40,339.5 312.49,339.9 312.58,339.6 312.68,339.5 312.77,339.8 312.86,339.9 312.96,339.5 313.05,339.4 313.15,339.9 313.24,339.9 313.33,339.9 313.43,339.8 313.52,339.9 313.62,339.9 313.71,339.9 313.80,339.3 313.90,339.9 313.99,339.8 314.09,339.9 314.18,339.9 314.27,339.9 314.37,339.9 314.46,339.8 314.56,339.9 314.65,339.8 314.74,339.4 314.84,339.4 314.93,339.9 315.03,339.9 315.12,339.9 315.21,339.1 315.31,339.6 315.40,339.4 315.49,339.9 315.59,339.7 315.68,339.9 315.78,339.4 315.87,339.7 315.96,339.3 316.06,339.9 316.15,339.7 316.25,339.9 316.34,339.6 316.43,339.7 316.53,339.7 316.62,339.9 316.72,339.4 316.81,339.8 316.90,339.9 317.00,339.9 317.09,339.9 317.19,339.9 317.28,339.7 317.37,339.9 317.47,339.9 317.56,339.8 317.66,339.4 317.75,339.7 317.84,339.2 317.94,339.9 318.03,339.9 318.13,339.9 318.22,339.9 318.31,339.3 318.41,339.9 318.50,339.9 318.59,339.9 318.69,339.3 318.78,339.9 318.88,339.7 318.97,339.9 319.06,339.9 319.16,339.8 319.25,339.9 319.35,339.9 319.44,339.9 319.53,339.9 319.63,339.7 319.72,339.8 319.82,339.2 319.91,339.8 320.00,339.9 320.10,339.8 320.19,339.8 320.29,339.2 320.38,339.9 320.47,338.9 320.57,339.9 320.66,339.9 320.76,339.8 320.85,339.7 320.94,339.6 321.04,339.9 321.13,339.9 321.23,339.9 321.32,339.8 321.41,339.7 321.51,339.9 321.60,339.9 321.69,339.5 321.79,339.7 321.88,339.8 321.98,339.9 322.07,339.9 322.16,339.9 322.26,339.7 322.35,339.9 322.45,339.3 322.54,339.4 322.63,339.5 322.73,339.9 322.82,339.4 322.92,339.2 323.01,339.5 323.10,339.9 323.20,339.8 323.29,339.9 323.39,339.9 323.48,339.8 323.57,339.9 323.67,339.7 323.76,339.3 323.86,339.9 323.95,339.8 324.04,339.9 324.14,339.7 324.23,339.7 324.32,339.4 324.42,339.3 324.51,339.2 324.61,339.7 324.70,339.8 324.79,339.9 324.89,339.7 324.98,339.9 325.08,339.8 325.17,339.9 325.26,339.4 325.36,339.9 325.45,339.1 325.55,339.9 325.64,339.3 325.73,339.3 325.83,339.6 325.92,339.4 326.02,339.7 326.11,339.6 326.20,339.2 326.30,339.9 326.39,339.6 326.49,339.9 326.58,339.8 326.67,339.0 326.77,339.7 326.86,339.7 326.96,339.3 327.05,339.9 327.14,339.9 327.24,339.8 327.33,339.9 327.42,339.5 327.52,339.9 327.61,339.5 327.71,339.7 327.80,339.7 327.89,339.5 327.99,339.6 328.08,339.5 328.18,339.5 328.27,339.8 328.36,339.8 328.46,339.9 328.55,339.3 328.65,339.8 328.74,339.9 328.83,339.9 328.93,339.4 329.02,339.8 329.12,339.8 329.21,339.3 329.30,339.8 329.40,339.7 329.49,339.6 329.59,339.9 329.68,339.8 329.77,339.2 329.87,339.6 329.96,339.4 330.05,339.7 330.15,339.9 330.24,339.4 330.34,339.7 330.43,339.9 330.52,339.8 330.62,339.9 330.71,339.5 330.81,339.8 330.90,339.9 330.99,339.8 331.09,339.4 331.18,339.9 331.28,339.9 331.37,339.9 331.46,339.9 331.56,339.9 331.65,339.9 331.75,339.9 331.84,339.9 331.93,339.9 332.03,339.2 332.12,339.6 332.22,339.9 332.31,339.4 332.40,339.5 332.50,339.0 332.59,339.6 332.69,339.9 332.78,339.8 332.87,339.8 332.97,339.9 333.06,339.4 333.15,339.8 333.25,339.6 333.34,339.9 333.44,339.7 333.53,339.3 333.62,339.9 333.72,339.9 333.81,339.9 333.91,339.8 334.00,339.9 334.09,339.7 334.19,339.4 334.28,339.9 334.38,339.2 334.47,339.9 334.56,339.7 334.66,339.9 334.75,339.8 334.85,339.9 334.94,339.9 335.03,339.9 335.13,338.8 335.22,339.8 335.32,339.2 335.41,339.8 335.50,338.9 335.60,339.8 335.69,339.9 335.79,339.9 335.88,339.9 335.97,339.9 336.07,339.9 336.16,339.3 336.25,339.9 336.35,339.2 336.44,339.9 336.54,339.9 336.63,339.9 336.72,339.9 336.82,339.9 336.91,339.0 337.01,339.3 337.10,339.7 337.19,339.9 337.29,339.8 337.38,339.5 337.48,339.9 337.57,339.9 337.66,339.9 337.76,339.4 337.85,339.9 337.95,339.5 338.04,339.9 338.13,339.7 338.23,339.8 338.32,339.9 338.42,339.8 338.51,339.9 338.60,339.6 338.70,339.4 338.79,339.5 338.88,339.8 338.98,339.8 339.07,339.9 339.17,339.7 339.26,339.9 339.35,339.7 339.45,339.1 339.54,339.7 339.64,339.5 339.73,339.9 339.82,339.1 339.92,339.9 340.01,338.8 340.11,339.9 340.20,339.9 340.29,339.9 340.39,339.7 340.48,339.5 340.58,339.5 340.67,339.5 340.76,339.3 340.86,339.5 340.95,339.8 341.05,339.9 341.14,339.6 341.23,339.9 341.33,339.6 341.42,339.4 341.52,339.9 341.61,339.6 341.70,339.7 341.80,339.4 341.89,339.8 341.98,339.5 342.08,339.9 342.17,339.9 342.27,339.1 342.36,339.3 342.45,339.5 342.55,339.2 342.64,339.8 342.74,339.8 342.83,339.8 342.92,339.2 343.02,339.9 343.11,339.8 343.21,339.6 343.30,339.5 343.39,339.4 343.49,339.7 343.58,339.7 343.68,339.7 343.77,339.8 343.86,339.5 343.96,339.6 344.05,339.9 344.15,339.5 344.24,339.8 344.33,339.9 344.43,339.6 344.52,339.9 344.62,339.9 344.71,339.9 344.80,339.9 344.90,339.9 344.99,339.9 345.08,339.8 345.18,339.9 345.27,339.7 345.37,339.4 345.46,339.5 345.55,339.7 345.65,339.7 345.74,339.9 345.84,339.4 345.93,339.8 346.02,339.0 346.12,339.9 346.21,339.8 346.31,339.9 346.40,339.2 346.49,339.8 346.59,339.9 346.68,339.1 346.78,339.8 346.87,339.6 346.96,339.5 347.06,339.9 347.15,339.9 347.25,339.7 347.34,339.9 347.43,339.9 347.53,339.3 347.62,339.3 347.71,339.0 347.81,339.9 347.90,339.2 348.00,339.9 348.09,339.5 348.18,338.7 348.28,338.8 348.37,339.8 348.47,339.9 348.56,339.0 348.65,339.9 348.75,339.9 348.84,339.7 348.94,339.9 349.03,339.9 349.12,339.5 349.22,339.4 349.31,339.4 349.41,339.7 349.50,339.3 349.59,339.9 349.69,339.5 349.78,339.9 349.88,339.9 349.97,339.9 350.06,339.8 350.16,339.9 350.25,339.5 350.35,339.9 350.44,338.6 350.53,339.7 350.63,339.5 350.72,339.5 350.81,339.3 350.91,339.8 351.00,339.8 351.10,339.9 351.19,339.1 351.28,339.2 351.38,339.9 351.47,339.9 351.57,339.0 351.66,339.8 351.75,339.8 351.85,339.9 351.94,339.7 352.04,339.8 352.13,339.8 352.22,339.9 352.32,339.6 352.41,339.9 352.51,338.8 352.60,339.8 352.69,338.0 352.79,339.5 352.88,338.7 352.98,339.9 353.07,338.9 353.16,339.8 353.26,339.9 353.35,339.1 353.44,338.2 353.54,339.9 353.63,339.7 353.73,339.7 353.82,339.7 353.91,339.2 354.01,339.8 354.10,339.9 354.20,339.1 354.29,339.9 354.38,339.0 354.48,338.4 354.57,339.1 354.67,339.6 354.76,339.9 354.85,339.4 354.95,339.8 355.04,339.9 355.14,339.9 355.23,339.3 355.32,339.6 355.42,339.4 355.51,339.3 355.61,339.8 355.70,339.8 355.79,339.9 355.89,339.9 355.98,339.6 356.08,339.7 356.17,339.7 356.26,339.4 356.36,339.3 356.45,339.5 356.54,339.9 356.64,339.7 356.73,339.2 356.83,339.3 356.92,338.6 357.01,339.9 357.11,339.8 357.20,339.7 357.30,338.9 357.39,339.0 357.48,338.5 357.58,339.9 357.67,339.9 357.77,339.3 357.86,339.9 357.95,339.3 358.05,338.8 358.14,339.9 358.24,339.8 358.33,339.9 358.42,339.7 358.52,338.1 358.61,339.7 358.71,339.7 358.80,338.6 358.89,339.2 358.99,339.9 359.08,339.1 359.18,339.9 359.27,339.9 359.36,339.3 359.46,339.7 359.55,339.5 359.64,339.9 359.74,338.9 359.83,338.4 359.93,337.4 360.02,338.8 360.11,338.8 360.21,338.7 360.30,339.8 360.40,339.8 360.49,339.9 360.58,339.8 360.68,339.6 360.77,339.9 360.87,339.9 360.96,339.2 361.05,339.9 361.15,339.9 361.24,339.1 361.34,339.4 361.43,339.9 361.52,339.7 361.62,339.9 361.71,338.9 361.81,339.1 361.90,339.9 361.99,339.9 362.09,339.9 362.18,339.9 362.27,338.5 362.37,339.9 362.46,339.9 362.56,339.9 362.65,339.6 362.74,339.5 362.84,339.9 362.93,339.7 363.03,339.5 363.12,339.2 363.21,339.9 363.31,339.0 363.40,339.8 363.50,339.9 363.59,339.5 363.68,338.3 363.78,339.6 363.87,339.8 363.97,339.8 364.06,339.4 364.15,338.1 364.25,339.5 364.34,339.9 364.44,339.1 364.53,339.9 364.62,339.9 364.72,339.9 364.81,339.6 364.91,339.9 365.00,339.6 365.09,338.8 365.19,338.5 365.28,339.9 365.37,338.0 365.47,339.7 365.56,339.3 365.66,338.5 365.75,339.9 365.84,339.8 365.94,338.7 366.03,339.6 366.13,337.9 366.22,338.3 366.31,337.0 366.41,339.2 366.50,339.9 366.60,337.9 366.69,339.9 366.78,339.9 366.88,339.8 366.97,339.9 367.07,337.6 367.16,336.7 367.25,339.8 367.35,339.2 367.44,339.9 367.54,339.6 367.63,337.5 367.72,339.9 367.82,339.5 367.91,339.9 368.00,338.1 368.10,339.9 368.19,337.8 368.29,339.7 368.38,336.5 368.47,339.8 368.57,335.5 368.66,339.9 368.76,339.9 368.85,339.7 368.94,336.9 369.04,337.4 369.13,339.9 369.23,339.8 369.32,337.6 369.41,338.2 369.51,339.3 369.60,335.5 369.70,339.5 369.79,339.9 369.88,339.9 369.98,339.8 370.07,339.9 370.17,339.9 370.26,334.8 370.35,337.9 370.45,338.2 370.54,339.2 370.64,336.1 370.73,339.9 370.82,338.9 370.92,339.7 371.01,339.9 371.10,339.1 371.20,339.0 371.29,339.3 371.39,339.1 371.48,339.9 371.57,339.6 371.67,339.7 371.76,338.5 371.86,339.8 371.95,338.0 372.04,339.9 372.14,339.7 372.23,337.5 372.33,339.2 372.42,339.1 372.51,339.7 372.61,339.8 372.70,338.0 372.80,339.8 372.89,339.9 372.98,338.9 373.08,339.6 373.17,339.2 373.27,338.5 373.36,339.6 373.45,339.9 373.55,339.6 373.64,339.7 373.74,339.8 373.83,339.8 373.92,339.7 374.02,338.1 374.11,339.8 374.20,339.7 374.30,339.9 374.39,339.8 374.49,339.9 374.58,338.4 374.67,339.8 374.77,338.2 374.86,337.8 374.96,339.4 375.05,339.1 375.14,339.9 375.24,339.3 375.33,339.9 375.43,339.9 375.52,338.9 375.61,338.1 375.71,338.5 375.80,338.8 375.90,339.8 375.99,339.9 376.08,339.9 376.18,329.0 376.27,339.2 376.37,338.8 376.46,339.9 376.55,339.7 376.65,338.7 376.74,339.4 376.83,339.8 376.93,338.0 377.02,339.8 377.12,339.9 377.21,339.8 377.30,339.8 377.40,338.5 377.49,339.7 377.59,339.7 377.68,339.5 377.77,339.9 377.87,339.9 377.96,339.5 378.06,339.8 378.15,339.5 378.24,339.9 378.34,339.8 378.43,337.5 378.53,339.7 378.62,339.4 378.71,339.9 378.81,339.9 378.90,339.7 379.00,339.2 379.09,339.8 379.18,339.8 379.28,338.4 379.37,338.4 379.47,339.9 379.56,339.6 379.65,339.9 379.75,339.9 379.84,339.9 379.93,339.7 380.03,339.9 380.12,336.7 380.22,339.9 380.31,336.4 380.40,337.1 380.50,339.5 380.59,339.6 380.69,339.8 380.78,338.5 380.87,336.0 380.97,339.8 381.06,334.0 381.16,339.9 381.25,335.5 381.34,339.5 381.44,339.9 381.53,339.8 381.63,339.9 381.72,339.9 381.81,339.9 381.91,338.1 382.00,338.5 382.10,337.6 382.19,338.0 382.28,339.9 382.38,338.8 382.47,339.5 382.57,337.8 382.66,339.9 382.75,339.5 382.85,339.4 382.94,337.4 383.03,338.1 383.13,337.4 383.22,336.8 383.32,339.9 383.41,337.8 383.50,339.8 383.60,334.5 383.69,339.9 383.79,339.7 383.88,339.7 383.97,338.4 384.07,338.5 384.16,336.1 384.26,339.9 384.35,339.8 384.44,337.2 384.54,339.8 384.63,335.5 384.73,339.8 384.82,338.0 384.91,332.0 385.01,339.9 385.10,339.3 385.20,339.4 385.29,339.7 385.38,338.3 385.48,338.4 385.57,333.7 385.66,327.3 385.76,333.5 385.85,335.4 385.95,306.9 386.04,339.8 386.13,339.9 386.23,323.0 386.32,332.7 386.42,339.9 386.51,339.7 386.60,339.3 386.70,339.9 386.79,339.5 386.89,339.8 386.98,339.2 387.07,339.9 387.17,315.0 387.26,331.1 387.36,329.9 387.45,339.7 387.54,319.9 387.64,326.8 387.73,338.8 387.83,339.6 387.92,328.8 388.01,339.9 388.11,334.2 388.20,315.6 388.30,310.9 388.39,309.6 388.48,288.3 388.58,339.9 388.67,338.9 388.76,339.5 388.86,334.0 388.95,327.0 389.05,339.1 389.14,338.6 389.23,339.9 389.33,316.2 389.42,336.0 389.52,339.6 389.61,335.9 389.70,336.3 389.80,317.7 389.89,339.6 389.99,295.0 390.08,337.6 390.17,339.9 390.27,339.9 390.36,274.0 390.46,337.7 390.55,334.8 390.64,325.6 390.74,311.2 390.83,339.9 390.93,303.6 391.02,335.2 391.11,339.7 391.21,336.2 391.30,336.9 391.39,328.7 391.49,333.0 391.58,339.9 391.68,339.0 391.77,339.8 391.86,338.1 391.96,339.9 392.05,336.4 392.15,331.9 392.24,287.0 392.33,329.2 392.43,339.2 392.52,335.0 392.62,338.7 392.71,325.3 392.80,339.9 392.90,327.7 392.99,339.9 393.09,339.9 393.18,330.0 393.27,339.9 393.37,325.2 393.46,339.7 393.56,339.9 393.65,318.5 393.74,334.8 393.84,305.0 393.93,324.5 394.03,339.9 394.12,339.9 394.21,331.6 394.31,324.9 394.40,339.8 394.49,313.0 394.59,339.9 394.68,329.2 394.78,334.6 394.87,338.9 394.96,339.0 395.06,338.4 395.15,338.1 395.25,339.9 395.34,320.0 395.43,337.8 395.53,339.8 395.62,339.9 395.72,339.7 395.81,339.9 395.90,327.9 396.00,339.6 396.09,336.6 396.19,339.9 396.28,336.4 396.37,327.2 396.47,334.3 396.56,334.1 396.66,339.2 396.75,338.8 396.84,325.0 396.94,339.8 397.03,337.0 397.13,339.7 397.22,339.3 397.31,339.9 397.41,337.6 397.50,331.0 397.59,339.8 397.69,339.9 397.78,337.1 397.88,339.5 397.97,331.2 398.06,336.3 398.16,333.9 398.25,337.8 398.35,339.9 398.44,339.7 398.53,339.7 398.63,339.9 398.72,339.4 398.82,332.0 398.91,339.1 399.00,336.4 399.10,329.5 399.19,339.1 399.29,339.9 399.38,336.4 399.47,338.7 399.57,335.0 399.66,338.1 399.76,333.5 399.85,339.9 399.94,337.6 400.04,338.2 400.13,335.8 400.22,339.9 400.32,338.4 400.41,330.0 400.51,336.2 400.60,339.9 400.69,339.9 400.79,331.8 400.88,336.5 400.98,339.8 401.07,339.0 401.16,339.8 401.26,339.9 401.35,324.0 401.45,339.8 401.54,334.1 401.63,334.9 401.73,334.5 401.82,339.7 401.92,339.8 402.01,336.2 402.10,320.3 402.20,339.2 402.29,339.8 402.39,338.0 402.48,339.8 402.57,339.4 402.67,333.1 402.76,339.8 402.86,320.0 402.95,335.6 403.04,339.9 403.14,280.1 403.23,327.8 403.32,326.9 403.42,337.1 403.51,338.1 403.61,339.9 403.70,339.8 403.79,339.9 403.89,337.7 403.98,338.8 404.08,339.9 404.17,339.9 404.26,320.0 404.36,339.9 404.45,339.9 404.55,339.8 404.64,330.7 404.73,335.3 404.83,337.9 404.92,339.8 405.02,339.9 405.11,339.6 405.20,338.9 405.30,339.9 405.39,338.0 405.49,327.0 405.58,339.9 405.67,339.9 405.77,338.9 405.86,331.1 405.96,339.9 406.05,338.8 406.14,339.8 406.24,339.6 406.33,332.0 406.42,338.3 406.52,339.8 406.61,339.4 406.71,332.5 406.80,335.1 406.89,339.5 406.99,339.0 407.08,339.9 407.18,329.3 407.27,339.8 407.36,339.8 407.46,328.0 407.55,330.3 407.65,331.2 407.74,337.4 407.83,338.6 407.93,338.1 408.02,339.6 408.12,334.0 408.21,338.7 408.30,334.7 408.40,337.4 408.49,337.6 408.59,337.7 408.68,336.2 408.77,331.0 408.87,337.6 408.96,339.7 409.05,336.5 409.15,339.4 409.24,334.1 409.34,338.9 409.43,336.4 409.52,335.6 409.62,335.3 409.71,336.4 409.81,339.9 409.90,339.3 409.99,338.2 410.09,337.1 410.18,339.5 410.28,327.0 410.37,331.2 410.46,334.5 410.56,332.1 410.65,339.4 410.75,339.8 410.84,332.8 410.93,337.0 411.03,339.9 411.12,338.4 411.22,337.5 411.31,339.8 411.40,337.6 411.50,339.9 411.59,339.3 411.69,336.2 411.78,339.5 411.87,339.9 411.97,339.8 412.06,339.4 412.15,332.0 412.25,339.9 412.34,338.5 412.44,339.9 412.53,332.6 412.62,339.8 412.72,339.9 412.81,339.8 412.91,338.8 413.00,337.6 413.09,339.9 413.19,339.5 413.28,338.6 413.38,314.0 413.47,333.4 413.56,338.5 413.66,339.8 413.75,339.9 413.85,337.9 413.94,338.6 414.03,339.4 414.13,337.7 414.22,339.4 414.32,337.0 414.41,339.8 414.50,339.8 414.60,334.9 414.69,338.9 414.78,333.0 414.88,339.9 414.97,334.7 415.07,326.4 415.16,339.9 415.25,339.7 415.35,338.9 415.44,338.2 415.54,338.8 415.63,339.9 415.72,326.7 415.82,339.6 415.91,335.6 416.01,324.5 416.10,321.7 416.19,339.8 416.29,326.5 416.38,338.0 416.48,335.4 416.57,339.8 416.66,306.0 416.76,337.0 416.85,326.0 416.95,339.0 417.04,331.1 417.13,339.9 417.23,316.4 417.32,339.9 417.42,339.7 417.51,335.9 417.60,315.9 417.70,339.9 417.79,339.5 417.88,339.9 417.98,306.5 418.07,338.4 418.17,335.9 418.26,337.2 418.35,312.0 418.45,338.5 418.54,338.3 418.64,317.8 418.73,339.3 418.82,334.3 418.92,337.6 419.01,326.7 419.11,337.1 419.20,339.6 419.29,339.2 419.39,332.0 419.48,339.5 419.58,329.5 419.67,339.1 419.76,326.3 419.86,339.9 419.95,334.1 420.05,339.2 420.14,339.8 420.23,338.0 420.33,339.9 420.42,339.9 420.52,333.2 420.61,338.7 420.70,339.6 420.80,339.9 420.89,328.0 420.98,339.8 421.08,339.9 421.17,339.9 421.27,339.4 421.36,333.5 421.45,330.0 421.55,332.1 421.64,339.8 421.74,339.9 421.83,334.3 421.92,337.1 422.02,339.8 422.11,339.0 422.21,326.4 422.30,331.2 422.39,325.8 422.49,338.4 422.58,339.8 422.68,337.9 422.77,322.2 422.86,339.9 422.96,339.9 423.05,339.9 423.15,339.8 423.24,331.0 423.33,337.7 423.43,339.9 423.52,334.7 423.61,335.5 423.71,332.6 423.80,339.9 423.90,336.9 423.99,338.8 424.08,333.2 424.18,339.9 424.27,334.7 424.37,334.3 424.46,337.9 424.55,339.5 424.65,338.8 424.74,339.9 424.84,336.5 424.93,330.4 425.02,335.9 425.12,339.9 425.21,339.9 425.31,339.9 425.40,339.9 425.49,333.8 425.59,326.7 425.68,339.5 425.78,336.9 425.87,339.8 425.96,330.3 426.06,339.6 426.15,331.5 426.25,336.3 426.34,332.1 426.43,337.6 426.53,339.4 426.62,339.9 426.71,338.1 426.81,338.0 426.90,337.6 427.00,339.7 427.09,338.8 427.18,339.7 427.28,339.9 427.37,339.9 427.47,337.8 427.56,339.8 427.65,335.9 427.75,339.8 427.84,333.0 427.94,337.0 428.03,335.9 428.12,339.4 428.22,336.7 428.31,339.9 428.41,339.9 428.50,339.9 428.59,337.4 428.69,339.6 428.78,338.5 428.88,339.5 428.97,336.3 429.06,339.5 429.16,339.9 429.25,339.7 429.34,339.7 429.44,339.7 429.53,338.2 429.63,337.0 429.72,337.0 429.81,334.4 429.91,339.9 430.00,337.9 430.10,337.4 430.19,335.7 430.28,339.8 430.38,339.9 430.47,339.7 430.57,334.0 430.66,339.9 430.75,338.4 430.85,339.3 430.94,338.8 431.04,338.6 431.13,333.8 431.22,335.4 431.32,338.9 431.41,338.2 431.51,339.2 431.60,339.6 431.69,336.8 431.79,338.4 431.88,330.7 431.98,337.8 432.07,335.3 432.16,338.3 432.26,339.5 432.35,336.4 432.44,336.7 432.54,339.9 432.63,339.9 432.73,338.6 432.82,339.9 432.91,337.6 433.01,335.8 433.10,339.8 433.20,338.6 433.29,339.1 433.38,338.6 433.48,335.8 433.57,339.8 433.67,335.0 433.76,337.6 433.85,339.9 433.95,339.3 434.04,337.6 434.14,338.8 434.23,339.9 434.32,336.1 434.42,339.6 434.51,339.8 434.61,339.9 434.70,339.9 434.79,339.9 434.89,339.4 434.98,335.8 435.08,338.0 435.17,339.9 435.26,336.0 435.36,338.1 435.45,337.9 435.54,338.7 435.64,339.5 435.73,339.9 435.83,339.7 435.92,338.6 436.01,339.1 436.11,339.6 436.20,338.6 436.30,339.6 436.39,338.8 436.48,338.6 436.58,339.9 436.67,339.9 436.77,338.1 436.86,338.0 436.95,339.8 437.05,336.1 437.14,339.9 437.24,339.3 437.33,339.5 437.42,333.2 437.52,339.5 437.61,335.7 437.71,339.9 437.80,339.8 437.89,338.7 437.99,339.1 438.08,335.5 438.17,339.8 438.27,339.9 438.36,339.8 438.46,337.6 438.55,339.7 438.64,339.7 438.74,338.0 438.83,339.2 438.93,339.9 439.02,335.1 439.11,339.9 439.21,337.3 439.30,339.8 439.40,333.2 439.49,339.9 439.58,338.4 439.68,335.9 439.77,339.9 439.87,334.1 439.96,339.9 440.05,339.0 440.15,339.7 440.24,338.1 440.34,339.5 440.43,339.7 440.52,338.1 440.62,338.3 440.71,338.8 440.81,339.7 440.90,339.0 440.99,339.3 441.09,338.5 441.18,339.8 441.27,336.0 441.37,339.9 441.46,339.9 441.56,339.6 441.65,337.8 441.74,338.2 441.84,339.9 441.93,339.4 442.03,339.8 442.12,339.9 442.21,339.7 442.31,338.2 442.40,334.8 442.50,339.9 442.59,339.8 442.68,333.2 442.78,339.3 442.87,339.7 442.97,336.8 443.06,336.1 443.15,337.8 443.25,337.9 443.34,337.8 443.44,339.2 443.53,339.1 443.62,339.9 443.72,339.7 443.81,339.2 443.91,339.9 444.00,338.9 444.09,339.5 444.19,339.2 444.28,338.2 444.37,339.8 444.47,339.3 444.56,339.9 444.66,337.0 444.75,338.5 444.84,339.1 444.94,339.1 445.03,339.6 445.13,333.6 445.22,339.9 445.31,337.8 445.41,339.9 445.50,334.9 445.60,326.0 445.69,337.1 445.78,339.9 445.88,339.3 445.97,336.6 446.07,337.1 446.16,331.2 446.25,339.7 446.35,339.9 446.44,336.9 446.54,339.6 446.63,336.7 446.72,336.6 446.82,339.9 446.91,338.3 447.00,331.2 447.10,339.9 447.19,339.9 447.29,339.2 447.38,335.5 447.47,339.9 447.57,328.1 447.66,336.3 447.76,328.0 447.85,335.7 447.94,339.3 448.04,339.9 448.13,338.4 448.23,333.6 448.32,338.7 448.41,339.8 448.51,339.9 448.60,339.9 448.70,339.9 448.79,339.7 448.88,339.8 448.98,339.9 449.07,339.9 449.17,339.9 449.26,339.9 449.35,339.8 449.45,339.4 449.54,339.9 449.64,339.9 449.73,339.9 449.82,337.5 449.92,337.5 450.01,336.1 450.10,334.8 450.20,333.4 450.29,339.9 450.39,338.0 450.48,339.5 450.57,339.6 450.67,336.5 450.76,338.7 450.86,338.2 450.95,331.0 451.04,336.5 451.14,336.9 451.23,334.2 451.33,329.0 451.42,339.9 451.51,339.8 451.61,326.4 451.70,336.2 451.80,330.1 451.89,339.6 451.98,325.0 452.08,339.4 452.17,335.4 452.27,333.0 452.36,338.9 452.45,339.5 452.55,339.1 452.64,339.9 452.73,339.9 452.83,330.3 452.92,337.7 453.02,333.0 453.11,336.2 453.20,339.7 453.30,339.9 453.39,338.3 453.49,333.2 453.58,337.5 453.67,333.9 453.77,339.9 453.86,339.8 453.96,337.1 454.05,339.3 454.14,339.9 454.24,339.7 454.33,339.8 454.43,337.4 454.52,336.5 454.61,337.0 454.71,337.9 454.80,336.9 454.90,333.6 454.99,331.5 455.08,337.2 455.18,338.0 455.27,337.0 455.37,338.6 455.46,339.3 455.55,339.9 455.65,339.5 455.74,339.9 455.83,339.9 455.93,339.8 456.02,339.9 456.12,339.9 456.21,339.9 456.30,339.1 456.40,338.7 456.49,339.9 456.59,338.3 456.68,338.1 456.77,339.4 456.87,339.5 456.96,339.8 457.06,338.8 457.15,339.8 457.24,339.9 457.34,338.6 457.43,339.4 457.53,339.9 457.62,339.9 457.71,339.8 457.81,339.8 457.90,338.3 458.00,339.4 458.09,338.8 458.18,339.7 458.28,338.9 458.37,338.3 458.47,339.9 458.56,339.0 458.65,339.4 458.75,339.9 458.84,339.9 458.93,339.9 459.03,338.3 459.12,339.9 459.22,339.9 459.31,337.5 459.40,339.9 459.50,339.9 459.59,339.0 459.69,338.5 459.78,338.0 459.87,339.9 459.97,339.9 460.06,339.8 460.16,336.5 460.25,339.9 460.34,339.3 460.44,339.9 460.53,339.9 460.63,338.4 460.72,339.2 460.81,339.4 460.91,339.8 461.00,335.8 461.10,339.7 461.19,339.9 461.28,339.9 461.38,337.8 461.47,339.8 461.56,338.1 461.66,258.8 461.75,339.1 461.85,339.8 461.94,339.4 462.03,339.6 462.13,338.6 462.22,337.2 462.32,337.6 462.41,332.0 462.50,339.9 462.60,335.8 462.69,339.9 462.79,339.6 462.88,336.5 462.97,332.6 463.07,339.9 463.16,332.1 463.26,339.9 463.35,339.9 463.44,336.9 463.54,333.4 463.63,338.1 463.73,331.1 463.82,338.0 463.91,339.9 464.01,339.0 464.10,338.0 464.20,339.5 464.29,338.4 464.38,335.0 464.48,339.9 464.57,337.0 464.66,339.9 464.76,339.9 464.85,339.9 464.95,339.8 465.04,339.9 465.13,339.9 465.23,339.7 465.32,339.9 465.42,336.0 465.51,339.9 465.60,339.9 465.70,339.9 465.79,337.7 465.89,338.0 465.98,336.2 466.07,339.6 466.17,339.8 466.26,339.4 466.36,339.2 466.45,336.7 466.54,336.6 466.64,337.6 466.73,337.1 466.83,337.1 466.92,339.3 467.01,336.4 467.11,339.7 467.20,338.5 467.29,339.9 467.39,339.9 467.48,339.6 467.58,336.4 467.67,339.9 467.76,338.2 467.86,339.4 467.95,339.9 468.05,339.9 468.14,339.5 468.23,339.2 468.33,339.6 468.42,339.9 468.52,339.4 468.61,339.9 468.70,339.9 468.80,339.1 468.89,339.9 468.99,339.9 469.08,339.0 469.17,339.8 469.27,339.9 469.36,339.9 469.46,338.6 469.55,339.7 469.64,338.8 469.74,339.8 469.83,339.3 469.93,339.4 470.02,339.9 470.11,339.8 470.21,339.9 470.30,339.9 470.39,339.0 470.49,339.9 470.58,339.9 470.68,339.9 470.77,339.9 470.86,339.1 470.96,339.9 471.05,338.8 471.15,339.0 471.24,339.9 471.33,339.9 471.43,339.5 471.52,339.7 471.62,339.7 471.71,339.1 471.80,338.9 471.90,339.9 471.99,339.9 472.09,339.9 472.18,339.9 472.27,339.4 472.37,339.9 472.46,339.7 472.56,338.6 472.65,339.8 472.74,339.9 472.84,339.9 472.93,339.8 473.03,338.8 473.12,339.9 473.21,339.4 473.31,339.5 473.40,339.4 473.49,339.9 473.59,339.9 473.68,339.7 473.78,339.8 473.87,339.4 473.96,339.9 474.06,339.9 474.15,339.6 474.25,339.3 474.34,338.7 474.43,339.9 474.53,339.1 474.62,339.7 474.72,339.6 474.81,338.7 474.90,339.1 475.00,339.9 475.09,339.7 475.19,339.7 475.28,339.9 475.37,339.6 475.47,339.9 475.56,339.2 475.66,339.4 475.75,339.9 475.84,339.3 475.94,338.6 476.03,339.4 476.12,339.3 476.22,339.7 476.31,339.3 476.41,338.9 476.50,338.4 476.59,338.8 476.69,337.7 476.78,338.6 476.88,338.1 476.97,339.7 477.06,339.9 477.16,339.7 477.25,339.9 477.35,339.9 477.44,339.7 477.53,337.3 477.63,339.6 477.72,337.1 477.82,339.6 477.91,337.0 478.00,339.9 478.10,339.9 478.19,335.7 478.29,338.1 478.38,339.0 478.47,335.4 478.57,338.4 478.66,339.8 478.76,335.9 478.85,333.2 478.94,339.9 479.04,339.9 479.13,339.0 479.22,339.1 479.32,338.8 479.41,339.9 479.51,339.4 479.60,339.9 479.69,339.0 479.79,339.9 479.88,338.3 479.98,338.4 480.07,339.8 480.16,339.7 480.26,338.7 480.35,339.9 480.45,339.2 480.54,339.9 480.63,339.8 480.73,339.1 480.82,339.9 480.92,339.9 481.01,339.9 481.10,339.5 481.20,339.9 481.29,339.9 481.39,339.9 481.48,339.9 481.57,339.8 481.67,338.4 481.76,339.8 481.86,338.9 481.95,339.8 482.04,339.1 482.14,339.7 482.23,339.1 482.32,339.8 482.42,339.7 482.51,339.9 482.61,339.1 482.70,339.9 482.79,339.2 482.89,339.9 482.98,339.0 483.08,339.9 483.17,338.3 483.26,339.8 483.36,339.9 483.45,339.5 483.55,339.9 483.64,338.3 483.73,339.4 483.83,339.9 483.92,339.9 484.02,339.7 484.11,339.6 484.20,339.2 484.30,339.9 484.39,339.0 484.49,339.7 484.58,339.4 484.67,339.6 484.77,339.8 484.86,339.9 484.95,339.6 485.05,339.9 485.14,339.3 485.24,339.1 485.33,338.0 485.42,339.8 485.52,339.8 485.61,339.9 485.71,339.9 485.80,339.2 485.89,338.0 485.99,338.5 486.08,333.2 486.18,336.9 486.27,339.7 486.36,337.4 486.46,339.5 486.55,339.9 486.65,339.9 486.74,339.8 486.83,339.9 486.93,335.8 487.02,339.9 487.12,337.5 487.21,338.2 487.30,337.9 487.40,339.2 487.49,339.9 487.59,339.8 487.68,339.8 487.77,339.9 487.87,339.9 487.96,336.2 488.05,339.8 488.15,337.0 488.24,339.9 488.34,338.2 488.43,338.8 488.52,339.9 488.62,339.9 488.71,338.9 488.81,339.9 488.90,339.9 488.99,339.9 489.09,337.9 489.18,335.0 489.28,339.2 489.37,339.8 489.46,337.8 489.56,338.9 489.65,339.9 489.75,339.9 489.84,338.5 489.93,339.2 490.03,338.9 490.12,337.2 490.22,339.7 490.31,336.1 490.40,339.9 490.50,316.1 490.59,315.0 490.68,337.7 490.78,316.9 490.87,333.5 490.97,336.2 491.06,334.5 491.15,322.0 491.25,332.0 491.34,339.8 491.44,339.9 491.53,326.1 491.62,321.4 491.72,337.1 491.81,338.4 491.91,324.5 492.00,339.9 492.09,339.9 492.19,339.7 492.28,328.0 492.38,327.9 492.47,337.9 492.56,339.6 492.66,339.9 492.75,339.9 492.85,339.9 492.94,339.9 493.03,329.4 493.13,331.4 493.22,338.4 493.32,339.9 493.41,339.7 493.50,328.5 493.60,337.2 493.69,339.5 493.78,331.2 493.88,339.7 493.97,333.4 494.07,338.6 494.16,332.3 494.25,339.0 494.35,323.8 494.44,339.7 494.54,306.0 494.63,339.9 494.72,338.7 494.82,328.4 494.91,337.6 495.01,336.8 495.10,337.7 495.19,338.2 495.29,339.9 495.38,336.7 495.48,339.8 495.57,339.9 495.66,339.9 495.76,339.9 495.85,320.0 495.95,339.7 496.04,328.0 496.13,339.4 496.23,329.7 496.32,339.8 496.42,339.7 496.51,339.8 496.60,339.7 496.70,339.7 496.79,333.7 496.88,328.8 496.98,339.4 497.07,339.9 497.17,338.7 497.26,332.4 497.35,339.9 497.45,325.1 497.54,339.3 497.64,338.6 497.73,327.6 497.82,325.0 497.92,339.8 498.01,339.1 498.11,335.8 498.20,339.1 498.29,330.3 498.39,328.0 498.48,329.0 498.58,337.6 498.67,337.7 498.76,336.8 498.86,339.8 498.95,339.2 499.05,325.8 499.14,339.3 499.23,310.0 499.33,320.0 499.42,339.2 499.51,314.9 499.61,338.1 499.70,333.2 499.80,327.0 499.89,337.0 499.98,315.5 500.08,321.5 500.17,314.1 500.27,335.7 500.36,339.9 500.45,339.8 500.55,301.4 500.64,335.6 500.74,307.6 500.83,335.1 500.92,337.9 501.02,338.4 501.11,293.3 501.21,336.9 501.30,336.9 501.39,303.2 501.49,338.1 501.58,309.7 501.68,339.9 501.77,338.8 501.86,325.0 501.96,337.1 502.05,339.9 502.15,338.4 502.24,332.3 502.33,292.7 502.43,335.3 502.52,333.9 502.61,173.0 502.71,322.1 502.80,327.6 502.90,325.4 502.99,324.4 503.08,283.4 503.18,321.1 503.27,274.9 503.37,316.0 503.46,312.3 503.55,315.3 503.65,256.8 503.74,315.9 503.84,316.4 503.93,314.2 504.02,313.7 504.12,288.5 504.21,318.2 504.31,264.0 504.40,320.7 504.49,317.6 504.59,322.3 504.68,283.4 504.78,321.6 504.87,311.0 504.96,315.9 505.06,323.9 505.15,297.9 505.24,321.1 505.34,325.3 505.43,325.7 505.53,272.0 505.62,319.1 505.71,326.3 505.81,326.9 505.90,298.6 506.00,313.2 506.09,328.1 506.18,311.1 506.28,328.6 506.37,308.5 506.47,309.2 506.56,329.1 506.65,293.2 506.75,303.5 506.84,292.0 506.94,321.3 507.03,330.0 507.12,330.1 507.22,330.3 507.31,321.1 507.41,325.4 507.50,292.5 507.59,330.6 507.69,328.4 507.78,330.3 507.88,330.4 507.97,325.9 508.06,315.1 508.16,322.6 508.25,334.5 508.34,334.9 508.44,327.7 508.53,319.8 508.63,310.1 508.72,337.8 508.81,292.0 508.91,339.9 509.00,339.6 509.10,338.0 509.19,336.8 509.28,339.9 509.38,339.9 509.47,321.7 509.57,334.1 509.66,322.5 509.75,338.2 509.85,339.9 509.94,339.9 510.04,330.5 510.13,336.4 510.22,339.9 510.32,339.4 510.41,339.9 510.51,335.6 510.60,336.4 510.69,331.9 510.79,337.5 510.88,339.5 510.98,329.5 511.07,339.9 511.16,339.8 511.26,338.4 511.35,331.2 511.44,334.8 511.54,339.0 511.63,333.2 511.73,338.4 511.82,338.6 511.91,339.1 512.01,330.0 512.10,339.6 512.20,333.2 512.29,337.4 512.38,335.9 512.48,339.4 512.57,339.9 512.67,335.5 512.76,339.4 512.85,335.8 512.95,339.9 513.04,337.5 513.14,331.4 513.23,339.9 513.32,329.0 513.42,337.1 513.51,339.9 513.61,339.9 513.70,331.5 513.79,337.1 513.89,336.4 513.98,339.4 514.07,339.9 514.17,338.4 514.26,335.7 514.36,339.7 514.45,322.9 514.54,320.2 514.64,339.9 514.73,339.6 514.83,326.2 514.92,332.8 515.01,339.9 515.11,331.6 515.20,336.9 515.30,339.4 515.39,336.5 515.48,339.8 515.58,331.1 515.67,339.9 515.77,327.0 515.86,335.8 515.95,339.3 516.05,334.4 516.14,337.1 516.24,339.6 516.33,339.3 516.42,339.7 516.52,339.7 516.61,339.9 516.71,339.8 516.80,329.3 516.89,338.7 516.99,339.7 517.08,339.9 517.17,339.9 517.27,339.9 517.36,330.3 517.46,332.5 517.55,337.3 517.64,339.7 517.74,338.6 517.83,339.9 517.93,339.9 518.02,339.9 518.11,338.0 518.21,337.8 518.30,339.9 518.40,328.6 518.49,339.9 518.58,338.6 518.68,336.8 518.77,339.9 518.87,339.8 518.96,326.0 519.05,334.1 519.15,334.6 519.24,339.7 519.34,339.6 519.43,326.8 519.52,339.4 519.62,338.7 519.71,318.0 519.81,339.1 519.90,326.7 519.99,334.2 520.09,337.9 520.18,313.6 520.27,336.1 520.37,325.9 520.46,338.4 520.56,338.2 520.65,336.1 520.74,326.4 520.84,337.0 520.93,336.9 521.03,333.7 521.12,321.5 521.21,328.3 521.31,333.1 521.40,335.6 521.50,329.0 521.59,317.7 521.68,337.3 521.78,336.8 521.87,337.0 521.97,275.0 522.06,336.2 522.15,334.8 522.25,333.5 522.34,315.6 522.44,334.8 522.53,334.3 522.62,320.7 522.72,332.1 522.81,312.3 522.90,316.0 523.00,332.0 523.09,307.0 523.19,319.6 523.28,329.5 523.37,332.2 523.47,322.0 523.56,332.7 523.66,331.5 523.75,332.9 523.84,331.9 523.94,333.2 524.03,330.4 524.13,330.7 524.22,292.6 524.31,332.2 524.41,329.0 524.50,277.0 524.60,333.5 524.69,333.9 524.78,294.0 524.88,334.3 524.97,325.0 525.07,290.2 525.16,318.4 525.25,334.4 525.35,293.8 525.44,329.1 525.54,328.7 525.63,297.9 525.72,334.5 525.82,254.0 525.91,313.5 526.00,323.5 526.10,334.3 526.19,302.1 526.29,334.2 526.38,290.0 526.47,310.8 526.57,301.2 526.66,334.0 526.76,331.1 526.85,309.3 526.94,329.4 527.04,333.4 527.13,327.5 527.23,300.0 527.32,333.9 527.41,334.3 527.51,320.0 527.60,333.9 527.70,334.2 527.79,334.0 527.88,334.2 527.98,334.4 528.07,333.0 528.17,334.3 528.26,296.0 528.35,334.4 528.45,333.4 528.54,302.5 528.63,331.9 528.73,308.7 528.82,334.2 528.92,317.9 529.01,274.2 529.10,295.6 529.20,322.2 529.29,334.2 529.39,317.6 529.48,313.7 529.57,324.3 529.67,316.1 529.76,334.0 529.86,315.7 529.95,334.2 530.04,333.1 530.14,333.8 530.23,334.3 530.33,334.3 530.42,325.0 530.51,320.0 530.61,333.9 530.70,334.2 530.80,335.8 530.89,336.1 530.98,335.5 531.08,336.7 531.17,337.0 531.27,337.4 531.36,334.4 531.45,334.7 531.55,338.3 531.64,338.5 531.73,337.6 531.83,338.7 531.92,338.7 532.02,319.8 532.11,338.0 532.20,338.4 532.30,337.9 532.39,326.5 532.49,338.1 532.58,325.8 532.67,334.6 532.77,328.3 532.86,335.4 532.96,332.2 533.05,337.5 533.14,335.5 533.24,336.1 533.33,335.6 533.43,336.3 533.52,324.8 533.61,334.2 533.71,333.9 533.80,335.9 533.90,323.5 533.99,335.3 534.08,305.8 534.18,335.1 534.27,332.2 534.37,324.8 534.46,328.9 534.55,322.9 534.65,305.0 534.74,333.1 534.83,332.5 534.93,328.9 535.02,329.8 535.12,296.9 535.21,328.9 535.30,330.1 535.40,322.3 535.49,285.0 535.59,310.1 535.68,322.7 535.77,327.9 535.87,324.1 535.96,326.9 536.06,326.2 536.15,303.8 536.24,277.0 536.34,291.5 536.43,326.4 536.53,324.0 536.62,293.3 536.71,182.5 536.81,327.3 536.90,326.8 537.00,318.4 537.09,327.7 537.18,280.0 537.28,322.4 537.37,313.3 537.46,311.7 537.56,322.1 537.65,320.8 537.75,324.2 537.84,307.4 537.93,318.7 538.03,314.2 538.12,270.0 538.22,330.4 538.31,330.7 538.40,324.3 538.50,327.6 538.59,287.6 538.69,330.0 538.78,315.1 538.87,313.2 538.97,329.2 539.06,143.8 539.16,328.3 539.25,327.8 539.34,323.1 539.44,326.9 539.53,317.8 539.63,313.9 539.72,320.9 539.81,316.3 539.91,324.3 540.00,250.0 540.10,288.2 540.19,288.7 540.28,323.2 540.38,322.2 540.47,304.4 540.56,314.1 540.66,321.9 540.75,291.4 540.85,282.1 540.94,316.5 541.03,281.2 541.13,321.5 541.22,275.0 541.32,325.8 541.41,284.5 541.50,312.0 541.60,325.9 541.69,325.7 541.79,287.2 541.88,325.8 541.97,312.8 542.07,317.1 542.16,320.2 542.26,308.6 542.35,324.2 542.44,313.5 542.54,286.6 542.63,316.8 542.73,319.5 542.82,264.0 542.91,326.7 543.01,317.1 543.10,323.1 543.20,328.1 543.29,294.5 543.38,327.5 543.48,329.2 543.57,329.8 543.66,303.1 543.76,318.6 543.85,330.5 543.95,331.5 544.04,332.0 544.13,328.9 544.23,324.2 544.32,304.7 544.42,323.4 544.51,332.5 544.60,297.5 544.70,307.0 544.79,331.3 544.89,331.4 544.98,331.1 545.07,302.2 545.17,328.1 545.26,329.7 545.36,328.5 545.45,329.6 545.54,327.5 545.64,326.8 545.73,325.4 545.83,294.5 545.92,297.5 546.01,323.4 546.11,324.8 546.20,314.0 546.29,328.7 546.39,324.2 546.48,327.6 546.58,322.4 546.67,305.7 546.76,328.5 546.86,300.0 546.95,328.3 547.05,309.0 547.14,316.2 547.23,324.9 547.33,329.9 547.42,326.7 547.52,290.0 547.61,330.8 547.70,301.0 547.80,308.8 547.89,324.1 547.99,331.6 548.08,327.2 548.17,331.8 548.27,325.1 548.36,332.8 548.46,326.9 548.55,328.3 548.64,306.3 548.74,328.1 548.83,318.2 548.93,298.0 549.02,332.5 549.11,301.7 549.21,304.7 549.30,333.0 549.39,326.9 549.49,333.3 549.58,300.0 549.68,301.7 549.77,333.4 549.86,322.4 549.96,330.2 550.05,302.7 550.15,332.0 550.24,317.2 550.33,328.1 550.43,318.9 550.52,315.3 550.62,326.3 550.71,332.2 550.80,327.9 550.90,302.0 550.99,317.4 551.09,330.7 551.18,332.7 551.27,332.6 551.37,325.5 551.46,331.2 551.56,324.2 551.65,300.0 551.74,330.9 551.84,332.0 551.93,314.1 552.02,331.5 552.12,324.4 552.21,331.6 552.31,299.5 552.40,295.0 552.49,327.9 552.59,313.7 552.68,330.8 552.78,323.1 552.87,329.2 552.96,299.5 553.06,330.3 553.15,228.0 553.25,317.1 553.34,322.8 553.43,329.7 553.53,325.5 553.62,329.4 553.72,316.9 553.81,328.0 553.90,286.3 554.00,326.7 554.09,328.5 554.19,328.3 554.28,255.0 554.37,327.3 554.47,271.0 554.56,299.2 554.66,325.3 554.75,326.5 554.84,327.1 554.94,327.4 555.03,327.7 555.12,307.4 555.22,326.4 555.31,315.7 555.41,319.8 555.50,329.0 555.59,310.8 555.69,298.2 555.78,280.0 555.88,284.9 555.97,306.7 556.06,323.4 556.16,318.9 556.25,288.0 556.35,331.3 556.44,300.8 556.53,305.8 556.63,332.0 556.72,327.0 556.82,331.5 556.91,332.6 557.00,324.5 557.10,333.0 557.19,325.1 557.29,333.3 557.38,333.5 557.47,332.1 557.57,333.8 557.66,330.5 557.76,300.0 557.85,333.9 557.94,324.7 558.04,334.6 558.13,334.7 558.22,332.8 558.32,335.0 558.41,326.0 558.51,311.0 558.60,335.5 558.69,324.4 558.79,332.4 558.88,313.1 558.98,324.6 559.07,322.0 559.16,322.1 559.26,327.0 559.35,318.8 559.45,336.5 559.54,325.0 559.63,330.3 559.73,336.1 559.82,335.5 559.92,311.6 560.01,336.9 560.10,332.5 560.20,335.4 560.29,325.6 560.39,322.0 560.48,337.5 560.57,332.3 560.67,324.3 560.76,337.3 560.85,337.2 560.95,337.9 561.04,327.9 561.14,337.1 561.23,327.0 561.32,338.1 561.42,335.8 561.51,330.1 561.61,338.1 561.70,336.1 561.79,334.4 561.89,338.5 561.98,338.5 562.08,337.1 562.17,328.7 562.26,338.8 562.36,338.8 562.45,334.6 562.55,338.3 562.64,337.7 562.73,337.0 562.83,339.0 562.92,336.8 563.02,339.3 563.11,336.4 563.20,336.9 563.30,331.7 563.39,311.2 563.49,339.4 563.58,334.2 563.67,331.2 563.77,337.3 563.86,338.0 563.95,330.9 564.05,338.8 564.14,336.1 564.24,336.9 564.33,339.6 564.42,339.2 564.52,329.4 564.61,324.5 564.71,338.1 564.80,336.5 564.89,339.7 564.99,339.6 565.08,338.1 565.18,339.7 565.27,335.9 565.36,330.0 565.46,335.2 565.55,339.7 565.65,338.7 565.74,334.1 565.83,339.3 565.93,338.5 566.02,336.3 566.12,337.9 566.21,336.1 566.30,330.7 566.40,335.6 566.49,338.4 566.58,329.7 566.68,338.9 566.77,331.5 566.87,330.2 566.96,339.9 567.05,339.9 567.15,339.9 567.24,339.3 567.34,339.9 567.43,335.5 567.52,338.2 567.62,339.2 567.71,320.2 567.81,339.4 567.90,339.8 567.99,339.7 568.09,339.9 568.18,331.0 568.28,338.0 568.37,339.5 568.46,335.5 568.56,339.7 568.65,339.9 568.75,339.9 568.84,339.9 568.93,339.4 569.03,339.9 569.12,339.9 569.22,338.6 569.31,334.7 569.40,337.7 569.50,337.0 569.59,339.8 569.68,339.6 569.78,337.9 569.87,339.9 569.97,337.5 570.06,339.7 570.15,339.9 570.25,339.5 570.34,338.5 570.44,336.5 570.53,336.7 570.62,339.9 570.72,339.9 570.81,339.8 570.91,339.9 571.00,333.6 571.09,339.8 571.19,339.9 571.28,339.1 571.38,339.9 571.47,334.8 571.56,338.1 571.66,339.9 571.75,339.9 571.85,339.9 571.94,339.2 572.03,339.9 572.13,338.2 572.22,338.4 572.32,339.6 572.41,334.5 572.50,337.2 572.60,339.9 572.69,332.8 572.78,339.9 572.88,337.7 572.97,339.9 573.07,337.0 573.16,338.3 573.25,338.8 573.35,338.6 573.44,335.4 573.54,339.9 573.63,339.9 573.72,339.7 573.82,336.7 573.91,339.9 574.01,339.9 574.10,338.7 574.19,339.9 574.29,339.7 574.38,335.8 574.48,339.8 574.57,339.7 574.66,339.8 574.76,339.9 574.85,334.6 574.95,328.7 575.04,339.6 575.13,339.7 575.23,330.4 575.32,328.9 575.41,322.7 575.51,339.9 575.60,301.2 575.70,339.1 575.79,338.1 575.88,322.9 575.98,339.9 576.07,339.6 576.17,339.9 576.26,329.7 576.35,333.3 576.45,329.5 576.54,339.5 576.64,337.6 576.73,325.5 576.82,318.0 576.92,329.9 577.01,339.0 577.11,333.4 577.20,333.9 577.29,339.9 577.39,325.7 577.48,327.1 577.58,339.8 577.67,326.4 577.76,324.0 577.86,338.4 577.95,333.4 578.05,339.8 578.14,339.9 578.23,331.4 578.33,339.0 578.42,337.9 578.51,338.7 578.61,329.9 578.70,337.7 578.80,335.3 578.89,333.7 578.98,324.2 579.08,337.0 579.17,339.9 579.27,339.9 579.36,339.9 579.45,339.1 579.55,323.0 579.64,339.8 579.74,329.4 579.83,339.9 579.92,339.5 580.02,339.8 580.11,330.3 580.21,339.9 580.30,333.5 580.39,338.8 580.49,339.8 580.58,339.4 580.68,339.9 580.77,328.7 580.86,337.2 580.96,339.3 581.05,338.0 581.15,337.2 581.24,339.5 581.33,339.9 581.43,339.1 581.52,339.4 581.61,339.9 581.71,337.8 581.80,332.6 581.90,338.0 581.99,339.9 582.08,332.8 582.18,339.9 582.27,334.8 582.37,338.0 582.46,339.8 582.55,339.9 582.65,339.7 582.74,336.9 582.84,335.0 582.93,339.9 583.02,339.9 583.12,339.9 583.21,339.9 583.31,339.9 583.40,338.6 583.49,339.7 583.59,338.5 583.68,339.9 583.78,338.8 583.87,339.9 583.96,336.8 584.06,334.4 584.15,338.1 584.24,338.1 584.34,338.7 584.43,339.7 584.53,338.8 584.62,339.6 584.71,337.5 584.81,338.5 584.90,336.3 585.00,337.0 585.09,339.9 585.18,339.9 585.28,339.7 585.37,336.0 585.47,339.1 585.56,339.2 585.65,337.5 585.75,338.9 585.84,335.2 585.94,339.6 586.03,338.0 586.12,338.4 586.22,339.9 586.31,336.8 586.41,339.6 586.50,339.9 586.59,339.7 586.69,337.4 586.78,337.8 586.88,339.8 586.97,336.8 587.06,334.0 587.16,339.9 587.25,338.1 587.34,339.8 587.44,339.9 587.53,339.9 587.63,334.5 587.72,339.9 587.81,339.5 587.91,339.9 588.00,337.4 588.10,339.9 588.19,339.1 588.28,339.8 588.38,339.9 588.47,338.7 588.57,339.8 588.66,339.4 588.75,337.8 588.85,339.1 588.94,339.8 589.04,339.1 589.13,339.9 589.22,337.9 589.32,339.9 589.41,339.9 589.51,339.6 589.60,337.6 589.69,339.9 589.79,339.7 589.88,339.9 589.97,338.8 590.07,339.4 590.16,339.3 590.26,334.0 590.35,335.0 590.44,339.9 590.54,339.0 590.63,337.5 590.73,339.3 590.82,339.8 590.91,338.6 591.01,339.9 591.10,339.9 591.20,339.9 591.29,339.6 591.38,338.3 591.48,339.9 591.57,338.6 591.67,338.3 591.76,338.7 591.85,339.9 591.95,339.9 592.04,338.6 592.14,338.3 592.23,337.6 592.32,339.3 592.42,339.9 592.51,337.7 592.61,339.6 592.70,338.8 592.79,339.8 592.89,338.1 592.98,339.5 593.07,339.7 593.17,339.9 593.26,339.8 593.36,339.4 593.45,339.9 593.54,339.9 593.64,339.7 593.73,336.6 593.83,339.8 593.92,338.5 594.01,330.7 594.11,338.8 594.20,339.8 594.30,339.9 594.39,336.0 594.48,339.0 594.58,335.8 594.67,336.0 594.77,336.1 594.86,339.6 594.95,339.8 595.05,339.5 595.14,339.0 595.24,334.4 595.33,334.4 595.42,338.1 595.52,339.1 595.61,339.8 595.71,339.1 595.80,339.8 595.89,336.5 595.99,339.9 596.08,339.9 596.17,339.9 596.27,339.1 596.36,339.9 596.46,337.8 596.55,339.9 596.64,338.4 596.74,338.4 596.83,339.8 596.93,338.3 597.02,339.9 597.11,339.7 597.21,338.0 597.30,338.6 597.40,338.2 597.49,339.9 597.58,339.8 597.68,339.8 597.77,338.1 597.87,338.1 597.96,339.9 598.05,337.8 598.15,339.2 598.24,339.4 598.34,334.3 598.43,339.9 598.52,339.5 598.62,339.9 598.71,339.5 598.80,335.5 598.90,330.2 598.99,339.9 599.09,335.5 599.18,339.9 599.27,324.6 599.37,330.6 599.46,339.9 599.56,329.7 599.65,337.4 599.74,339.3 599.84,339.7 599.93,339.3 600.03,334.5 600.12,332.0 600.21,339.9 600.31,338.8 600.40,339.8 600.50,334.4 600.59,339.9 600.68,339.2 600.78,339.9 600.87,339.8 600.97,337.5 601.06,339.9 601.15,339.2 601.25,339.9 601.34,337.0 601.44,339.9 601.53,332.2 601.62,329.8 601.72,338.7 601.81,339.6 601.90,339.5 602.00,333.6 602.09,335.0 602.19,339.4 602.28,333.6 602.37,339.5 602.47,339.9 602.56,339.8 602.66,339.3 602.75,327.0 602.84,339.9 602.94,336.1 603.03,335.7 603.13,337.9 603.22,321.0 603.31,327.2 603.41,334.2 603.50,336.5 603.60,334.9 603.69,338.0 603.78,321.5 603.88,330.6 603.97,339.9 604.07,339.9 604.16,339.2 604.25,330.9 604.35,339.9 604.44,339.8 604.53,328.0 604.63,335.6 604.72,328.0 604.82,339.9 604.91,339.9 605.00,337.0 605.10,339.5 605.19,339.5 605.29,335.4 605.38,339.5 605.47,339.9 605.57,338.4 605.66,338.4 605.76,336.7 605.85,339.5 605.94,339.9 606.04,336.8 606.13,339.9 606.23,339.9 606.32,339.0 606.41,338.1 606.51,337.4 606.60,339.4 606.70,339.9 606.79,339.9 606.88,338.8 606.98,339.2 607.07,334.9 607.17,333.9 607.26,338.9 607.35,339.6 607.45,338.8 607.54,339.9 607.63,335.8 607.73,339.8 607.82,338.6 607.92,339.9 608.01,339.9 608.10,330.3 608.20,339.8 608.29,331.7 608.39,334.2 608.48,338.7 608.57,338.6 608.67,339.9 608.76,336.0 608.86,337.4 608.95,338.4 609.04,338.1 609.14,339.0 609.23,331.3 609.33,337.8 609.42,335.6 609.51,339.9 609.61,339.8 609.70,339.8 609.80,315.3 609.89,315.8 609.98,317.5 610.08,337.7 610.17,332.2 610.27,339.9 610.36,322.0 610.45,325.5 610.55,339.6 610.64,339.9 610.73,338.9 610.83,332.8 610.92,322.8 611.02,330.0 611.11,334.5 611.20,335.0 611.30,332.5 611.39,337.8 611.49,334.3 611.58,339.5 611.67,338.3 611.77,338.7 611.86,339.3 611.96,339.3 612.05,335.5 612.14,339.9 612.24,332.0 612.33,335.4 612.43,339.8 612.52,339.5 612.61,331.8 612.71,264.2 612.80,331.5 612.90,339.3 612.99,325.4 613.08,328.7 613.18,339.5 613.27,339.3 613.36,328.0 613.46,334.8 613.55,339.9 613.65,334.9 613.74,338.9 613.83,332.8 613.93,337.7 614.02,325.1 614.12,338.1 614.21,339.8 614.30,322.0 614.40,327.8 614.49,330.2 614.59,336.9 614.68,339.7 614.77,339.9 614.87,331.3 614.96,335.7 615.06,337.7 615.15,329.9 615.24,339.8 615.34,339.9 615.43,316.9 615.53,317.8 615.62,339.8 615.71,318.7 615.81,339.9 615.90,334.2 616.00,337.5 616.09,338.9 616.18,339.9 616.28,338.4 616.37,337.8 616.46,334.0 616.56,334.0 616.65,334.5 616.75,339.9 616.84,328.7 616.93,338.7 617.03,336.0 617.12,339.9 617.22,339.7 617.31,339.4 617.40,339.0 617.50,335.5 617.59,339.9 617.69,339.0 617.78,339.4 617.87,334.4 617.97,338.4 618.06,339.9 618.16,339.9 618.25,331.2 618.34,332.4 618.44,335.3 618.53,337.8 618.63,339.6 618.72,332.6 618.81,339.3 618.91,339.9 619.00,339.9 619.10,330.9 619.19,338.6 619.28,334.8 619.38,331.4 619.47,333.4 619.56,325.0 619.66,333.5 619.75,339.4 619.85,339.9 619.94,339.8 620.03,338.9 620.13,339.8 620.22,335.4 620.32,339.8 620.41,335.2 620.50,339.9 620.60,339.6 620.69,337.7 620.79,336.5 620.88,339.9 620.97,337.7 621.07,339.1 621.16,339.9 621.26,339.5 621.35,338.3 621.44,339.9 621.54,339.3 621.63,339.9 621.73,339.6 621.82,339.9 621.91,338.2 622.01,338.4 622.10,339.9 622.19,339.8 622.29,339.9 622.38,339.7 622.48,339.9 622.57,339.9 622.66,338.6 622.76,336.0 622.85,339.9 622.95,339.0 623.04,339.7 623.13,339.8 623.23,339.8 623.32,338.3 623.42,339.9 623.51,338.8 623.60,339.5 623.70,330.7 623.79,336.4 623.89,339.9 623.98,339.7 624.07,339.7 624.17,337.5 624.26,339.9 624.36,333.2 624.45,330.7 624.54,339.9 624.64,339.2 624.73,339.7 624.83,339.7 624.92,339.9 625.01,332.6 625.11,339.8 625.20,333.2 625.29,334.2 625.39,336.8 625.48,324.2 625.58,337.2 625.67,332.7 625.76,326.5 625.86,330.9 625.95,337.6 626.05,339.8 626.14,338.3 626.23,330.3 626.33,336.9 626.42,339.5 626.52,336.4 626.61,339.7 626.70,339.9 626.80,331.6 626.89,332.8 626.99,339.4 627.08,339.9 627.17,325.7 627.27,339.5 627.36,336.9 627.46,339.9 627.55,323.0 627.64,337.3 627.74,335.7 627.83,324.2 627.92,335.1 628.02,337.9 628.11,338.0 628.21,339.8 628.30,339.6 628.39,337.7 628.49,339.9 628.58,339.7 628.68,339.9 628.77,339.9 628.86,328.7 628.96,339.5 629.05,338.6 629.15,339.9 629.24,321.0 629.33,339.9 629.43,339.9 629.52,339.9 629.62,308.0 629.71,338.9 629.80,313.6 629.90,339.3 629.99,338.5 630.09,330.8 630.18,313.5 630.27,308.0 630.37,338.9 630.46,331.6 630.56,339.9 630.65,335.4 630.74,333.0 630.84,339.5 630.93,332.6 631.02,326.1 631.12,339.9 631.21,336.3 631.31,305.0 631.40,333.0 631.49,311.8 631.59,311.0 631.68,326.4 631.78,323.6 631.87,328.0 631.96,336.6 632.06,320.7 632.15,320.8 632.25,296.0 632.34,339.9 632.43,339.9 632.53,336.9 632.62,326.2 632.72,337.8 632.81,338.4 632.90,339.9 633.00,332.3 633.09,333.0 633.19,338.9 633.28,331.7 633.37,337.3 633.47,337.4 633.56,338.5 633.66,328.0 633.75,338.8 633.84,320.0 633.94,304.0 634.03,335.4 634.12,339.2 634.22,339.3 634.31,330.0 634.41,339.8 634.50,340.0 634.59,336.8 634.69,332.7 634.78,339.3 634.88,339.0 634.97,330.6 635.06,307.9 635.16,337.0 635.25,321.9 635.35,325.6 635.44,323.3 635.53,334.6 635.63,297.0 635.72,336.1 635.82,337.4 635.91,337.7 636.00,337.0 636.10,320.9 636.19,337.8 636.29,334.7 636.38,323.5 636.47,308.6 636.57,338.4 636.66,338.6 636.75,330.3 636.85,317.9 636.94,339.9 637.04,339.9 637.13,339.8 637.22,339.7 637.32,339.8 637.41,339.6 637.51,334.3 637.60,339.4 637.69,339.9 637.79,339.7 637.88,339.9 637.98,339.6 638.07,337.4 638.16,339.9 638.26,331.7 638.35,339.9 638.45,336.3 638.54,339.8 638.63,331.7 638.73,336.3 638.82,338.8 638.92,339.8 639.01,338.2 639.10,339.0 639.20,339.9 639.29,339.9 639.39,337.0 639.48,339.9 639.57,339.9 639.67,338.5 639.76,339.0 639.85,339.9 639.95,339.7 640.04,335.2 640.14,338.3 640.23,339.7 640.32,339.9 640.42,337.3 640.51,339.9 640.61,338.9 640.70,339.8 640.79,339.0 640.89,339.9 640.98,336.9 641.08,338.8 641.17,338.3 641.26,339.6 641.36,335.5 641.45,339.9 641.55,339.4 641.64,339.4 641.73,336.9 641.83,339.8 641.92,339.9 642.02,338.9 642.11,339.9 642.20,339.9 642.30,337.5 642.39,339.6 642.48,339.1 642.58,339.7 642.67,337.5 642.77,339.3 642.86,339.9 642.95,339.7 643.05,337.5 643.14,339.8 643.24,336.6 643.33,339.9 643.42,339.3 643.52,339.9 643.61,339.9 643.71,339.8 643.80,339.9 643.89,339.3 643.99,339.5 644.08,334.2 644.18,339.9 644.27,339.5 644.36,330.5 644.46,339.7 644.55,339.9 644.65,335.4 644.74,330.0 644.83,336.9 644.93,338.9 645.02,338.9 645.12,337.1 645.21,339.8 645.30,329.8 645.40,339.9 645.49,334.2 645.58,337.1 645.68,339.1 645.77,339.6 645.87,329.2 645.96,335.1 646.05,339.9 646.15,334.7 646.24,334.4 646.34,339.9 646.43,339.8 646.52,331.5 646.62,336.6 646.71,339.9 646.81,335.6 646.90,335.8 646.99,338.3 647.09,336.3 647.18,339.9 647.28,336.7 647.37,337.6 647.46,339.3 647.56,339.9 647.65,336.5 647.75,338.5 647.84,336.0 647.93,339.8 648.03,333.3 648.12,332.0 648.22,336.0 648.31,339.4 648.40,337.7 648.50,335.9 648.59,339.9 648.68,339.8 648.78,339.9 648.87,339.6 648.97,339.9 649.06,336.1 649.15,338.6 649.25,339.9 649.34,339.9 649.44,338.5 649.53,333.7 649.62,333.1 649.72,333.2 649.81,339.7 649.91,337.4 650.00,331.2 650.09,339.4 650.19,338.9 650.28,339.8 650.38,339.9 650.47,339.7 650.56,336.0 650.66,337.6 650.75,339.8 650.85,339.9 650.94,339.1 651.03,339.2 651.13,339.8 651.22,335.8 651.31,338.7 651.41,338.8 651.50,339.5 651.60,337.5 651.69,338.4 651.78,339.2 651.88,339.8 651.97,334.0 652.07,335.9 652.16,339.9 652.25,339.9 652.35,339.9 652.44,336.4 652.54,338.9 652.63,339.7 652.72,334.8 652.82,335.3 652.91,334.3 653.01,337.8 653.10,336.9 653.19,329.6 653.29,328.0 653.38,321.1 653.48,329.1 653.57,339.9 653.66,339.8 653.76,339.0 653.85,339.9 653.95,339.4 654.04,339.9 654.13,336.2 654.23,337.9 654.32,339.8 654.41,339.1 654.51,339.6 654.60,336.0 654.70,339.8 654.79,332.0 654.88,336.6 654.98,336.9 655.07,339.9 655.17,339.9 655.26,293.4 655.35,285.6 655.45,339.7 655.54,334.7 655.64,335.1 655.73,280.0 655.82,338.1 655.92,337.1 656.01,278.7 656.11,332.7 656.20,335.8 656.29,335.5 656.39,320.9 656.48,299.5 656.58,333.8 656.67,310.2 656.76,333.8 656.86,333.4 656.95,270.0 657.05,328.3 657.14,206.0 657.23,332.3 657.33,298.7 657.42,309.0 657.51,302.7 657.61,316.6 657.70,330.3 657.80,312.8 657.89,321.6 657.98,318.2 658.08,306.6 658.17,329.4 658.27,283.3 658.36,325.6 658.45,328.5 658.55,322.7 658.64,271.7 658.74,310.7 658.83,329.3 658.92,266.0 659.02,295.6 659.11,325.1 659.21,325.1 659.30,329.8 659.39,329.8 659.49,311.2 659.58,329.8 659.68,257.0 659.77,319.7 659.86,323.9 659.96,314.8 660.05,325.5 660.14,331.1 660.24,327.7 660.33,324.5 660.43,332.6 660.52,307.8 660.61,327.9 660.71,307.0 660.80,316.5 660.90,334.3 660.99,304.6 661.08,334.7 661.18,313.9 661.27,307.8 661.37,323.8 661.46,330.3 661.55,334.8 661.65,314.5 661.74,330.9 661.84,305.7 661.93,327.3 662.02,337.5 662.12,338.2 662.21,336.8 662.31,322.0 662.40,327.6 662.49,334.9 662.59,323.1 662.68,331.4 662.78,333.9 662.87,311.5 662.96,328.6 663.06,330.7 663.15,334.7 663.24,290.0 663.34,335.3 663.43,334.9 663.53,326.8 663.62,310.6 663.71,320.7 663.81,335.4 663.90,334.5 664.00,332.4 664.09,265.2 664.18,336.9 664.28,102.0 664.37,337.7 664.47,290.3 664.56,338.2 664.65,335.5 664.75,336.1" fill="none" stroke="#f7931a" stroke-width="1" stroke-linejoin="round"/>
<!-- price -->
<path d="M130.3,335.2 130.4,333.4 130.5,331.4 130.6,329.8 130.7,328.6 130.8,330.2 130.9,332.2 131.0,333.5 131.1,333.9 131.2,333.8 131.3,333.9 131.4,333.2 131.5,332.6 131.6,332.1 131.7,332.4 131.8,332.0 131.9,331.2 131.9,331.8 132.0,331.7 132.1,332.6 132.2,333.2 132.3,334.1 132.4,333.9 132.5,334.4 132.6,333.9 132.7,333.4 132.8,333.2 132.9,334.6 133.0,334.6 133.1,334.3 133.2,333.9 133.3,334.6 133.4,334.6 133.4,334.9 133.5,335.2 133.6,334.1 133.7,334.3 133.8,334.0 133.9,333.0 134.0,333.1 134.1,332.8 134.2,332.4 134.3,332.5 134.4,333.4 134.5,333.4 134.6,332.6 134.7,333.7 134.8,333.2 134.9,333.2 135.0,333.8 135.0,332.5 135.1,332.0 135.2,333.0 135.3,333.0 135.4,332.7 135.5,332.9 135.6,332.5 135.7,332.6 135.8,332.3 135.9,331.4 136.0,331.9 136.1,331.9 136.2,332.3 136.3,332.3 136.4,333.2 136.5,333.7 136.5,333.9 136.6,333.4 136.7,332.5 136.8,333.3 136.9,333.8 137.0,333.3 137.1,334.6 137.2,334.8 137.3,334.8 137.4,333.9 137.5,333.3 137.6,333.5 137.7,333.7 137.8,333.8 137.9,332.6 138.0,332.9 138.1,333.0 138.1,332.7 138.2,332.7 138.3,332.7 138.4,333.4 138.5,333.4 138.6,333.1 138.7,331.7 138.8,330.6 138.9,330.0 139.0,329.0 139.1,328.6 139.2,327.3 139.3,326.7 139.4,325.7 139.5,326.0 139.6,325.2 139.6,325.8 139.7,326.6 139.8,326.2 139.9,326.2 140.0,325.0 140.1,322.3 140.2,321.8 140.3,321.1 140.4,319.9 140.5,318.5 140.6,317.5 140.7,316.5 140.8,314.9 140.9,313.5 141.0,313.1 141.1,312.1 141.2,310.9 141.2,310.6 141.3,309.3 141.4,308.8 141.5,307.0 141.6,307.5 141.7,308.0 141.8,309.0 141.9,309.7 142.0,311.7 142.1,313.1 142.2,312.6 142.3,313.8 142.4,313.0 142.5,314.0 142.6,313.2 142.7,313.6 142.7,312.8 142.8,312.5 142.9,313.3 143.0,312.2 143.1,311.0 143.2,310.8 143.3,310.8 143.4,310.8 143.5,311.4 143.6,310.6 143.7,310.9 143.8,310.8 143.9,311.3 144.0,311.6 144.1,312.4 144.2,311.5 144.3,311.5 144.3,310.8 144.4,310.7 144.5,311.1 144.6,311.2 144.7,311.5 144.8,311.4 144.9,311.6 145.0,311.7 145.1,312.6 145.2,313.1 145.3,311.6 145.4,311.7 145.5,312.1 145.6,311.5 145.7,310.2 145.8,310.9 145.8,310.7 145.9,310.7 146.0,311.6 146.1,310.8 146.2,310.4 146.3,310.0 146.4,310.2 146.5,309.5 146.6,309.6 146.7,309.3 146.8,309.7 146.9,310.4 147.0,309.2 147.1,309.3 147.2,308.9 147.3,308.7 147.4,308.8 147.4,308.9 147.5,308.3 147.6,308.3 147.7,308.1 147.8,307.9 147.9,306.9 148.0,306.2 148.1,305.7 148.2,305.9 148.3,306.6 148.4,305.7 148.5,304.8 148.6,304.7 148.7,303.7 148.8,302.6 148.9,301.4 148.9,300.2 149.0,299.9 149.1,298.2 149.2,298.5 149.3,297.3 149.4,296.4 149.5,295.2 149.6,293.3 149.7,291.7 149.8,291.8 149.9,292.4 150.0,291.2 150.1,291.3 150.2,290.8 150.3,289.6 150.4,290.1 150.5,291.0 150.5,290.6 150.6,290.4 150.7,290.4 150.8,290.1 150.9,290.5 151.0,291.4 151.1,291.3 151.2,291.8 151.3,292.8 151.4,292.2 151.5,292.1 151.6,291.6 151.7,292.1 151.8,292.4 151.9,292.9 152.0,293.3 152.0,293.1 152.1,293.6 152.2,293.4 152.3,293.1 152.4,291.7 152.5,292.6 152.6,292.0 152.7,292.1 152.8,292.0 152.9,293.0 153.0,293.3 153.1,292.8 153.2,292.8 153.3,292.8 153.4,292.9 153.5,292.1 153.5,292.1 153.6,293.6 153.7,294.1 153.8,295.4 153.9,297.6 154.0,298.0 154.1,297.1 154.2,297.0 154.3,297.8 154.4,298.4 154.5,297.6 154.6,297.5 154.7,297.5 154.8,297.5 154.9,297.4 155.0,296.9 155.1,296.5 155.1,296.3 155.2,297.0 155.3,296.6 155.4,296.5 155.5,295.2 155.6,295.5 155.7,295.0 155.8,294.4 155.9,294.7 156.0,293.0 156.1,291.4 156.2,291.1 156.3,290.0 156.4,289.2 156.5,290.4 156.6,289.6 156.6,289.1 156.7,288.5 156.8,288.6 156.9,288.2 157.0,287.8 157.1,286.0 157.2,284.8 157.3,283.9 157.4,281.9 157.5,281.3 157.6,280.7 157.7,281.0 157.8,278.9 157.9,277.3 158.0,275.7 158.1,274.6 158.2,273.9 158.2,273.0 158.3,272.5 158.4,272.0 158.5,271.3 158.6,269.6 158.7,268.5 158.8,267.9 158.9,267.6 159.0,267.5 159.1,265.9 159.2,265.1 159.3,264.6 159.4,264.3 159.5,264.6 159.6,264.2 159.7,263.1 159.7,262.9 159.8,262.5 159.9,262.3 160.0,261.9 160.1,262.6 160.2,262.4 160.3,262.7 160.4,261.7 160.5,261.9 160.6,261.1 160.7,259.7 160.8,259.6 160.9,259.6 161.0,257.2 161.1,254.9 161.2,253.3 161.3,250.7 161.3,247.1 161.4,245.0 161.5,242.8 161.6,241.2 161.7,242.8 161.8,245.4 161.9,247.9 162.0,248.8 162.1,250.1 162.2,250.0 162.3,249.6 162.4,250.1 162.5,250.4 162.6,249.7 162.7,249.9 162.8,250.3 162.8,251.3 162.9,251.3 163.0,250.4 163.1,249.8 163.2,250.5 163.3,251.1 163.4,251.5 163.5,251.3 163.6,251.5 163.7,251.5 163.8,251.5 163.9,251.8 164.0,252.0 164.1,252.0 164.2,252.2 164.3,252.0 164.4,250.8 164.4,250.5 164.5,250.6 164.6,251.9 164.7,251.7 164.8,253.0 164.9,254.0 165.0,253.4 165.1,252.9 165.2,253.0 165.3,254.2 165.4,254.5 165.5,254.9 165.6,254.5 165.7,252.9 165.8,253.4 165.9,254.5 165.9,256.0 166.0,256.6 166.1,257.4 166.2,258.8 166.3,259.3 166.4,260.7 166.5,260.6 166.6,260.4 166.7,260.3 166.8,261.3 166.9,261.5 167.0,260.8 167.1,260.3 167.2,259.7 167.3,259.8 167.4,260.0 167.5,258.7 167.5,258.0 167.6,257.1 167.7,255.6 167.8,256.0 167.9,255.8 168.0,256.0 168.1,256.1 168.2,256.7 168.3,256.3 168.4,256.5 168.5,257.7 168.6,258.7 168.7,258.5 168.8,258.6 168.9,260.2 169.0,259.6 169.0,259.9 169.1,259.7 169.2,260.7 169.3,261.7 169.4,263.2 169.5,262.2 169.6,263.0 169.7,262.6 169.8,263.8 169.9,264.4 170.0,266.3 170.1,267.3 170.2,266.3 170.3,266.9 170.4,265.9 170.5,265.4 170.6,265.9 170.6,266.0 170.7,266.0 170.8,265.8 170.9,265.9 171.0,266.6 171.1,267.0 171.2,267.8 171.3,268.9 171.4,269.1 171.5,268.6 171.6,269.8 171.7,270.0 171.8,270.6 171.9,271.4 172.0,271.0 172.1,271.5 172.1,270.6 172.2,271.3 172.3,271.0 172.4,271.0 172.5,271.5 172.6,271.0 172.7,271.0 172.8,270.5 172.9,270.4 173.0,271.1 173.1,271.1 173.2,270.9 173.3,270.2 173.4,271.2 173.5,271.6 173.6,273.1 173.7,273.1 173.7,274.2 173.8,275.8 173.9,276.2 174.0,275.8 174.1,277.2 174.2,278.3 174.3,279.2 174.4,279.9 174.5,279.5 174.6,279.9 174.7,280.3 174.8,279.8 174.9,280.2 175.0,279.8 175.1,280.4 175.2,281.1 175.2,282.2 175.3,280.8 175.4,280.9 175.5,280.6 175.6,280.5 175.7,280.3 175.8,280.2 175.9,278.7 176.0,279.3 176.1,280.3 176.2,280.9 176.3,281.3 176.4,280.3 176.5,279.2 176.6,279.4 176.7,279.9 176.8,279.6 176.8,278.2 176.9,279.6 177.0,278.8 177.1,279.0 177.2,277.8 177.3,278.0 177.4,277.7 177.5,278.3 177.6,278.5 177.7,277.0 177.8,276.0 177.9,275.7 178.0,276.1 178.1,277.1 178.2,277.1 178.3,276.9 178.3,276.7 178.4,276.5 178.5,277.0 178.6,276.7 178.7,276.5 178.8,275.3 178.9,273.8 179.0,273.6 179.1,273.9 179.2,273.6 179.3,273.8 179.4,274.0 179.5,273.8 179.6,273.7 179.7,272.5 179.8,271.8 179.9,270.8 179.9,270.1 180.0,269.8 180.1,269.7 180.2,269.1 180.3,268.6 180.4,267.7 180.5,266.9 180.6,267.0 180.7,266.2 180.8,266.3 180.9,265.9 181.0,265.3 181.1,265.9 181.2,265.1 181.3,264.2 181.4,263.5 181.4,263.0 181.5,263.1 181.6,263.4 181.7,263.5 181.8,263.7 181.9,263.6 182.0,264.0 182.1,263.9 182.2,263.8 182.3,263.8 182.4,263.9 182.5,263.7 182.6,264.5 182.7,264.4 182.8,264.4 182.9,264.4 183.0,264.3 183.0,264.6 183.1,264.8 183.2,264.6 183.3,264.5 183.4,264.5 183.5,265.2 183.6,265.1 183.7,264.8 183.8,264.5 183.9,264.6 184.0,265.4 184.1,265.2 184.2,265.4 184.3,266.7 184.4,266.7 184.5,267.5 184.5,268.2 184.6,268.6 184.7,268.2 184.8,268.6 184.9,268.6 185.0,268.1 185.1,267.6 185.2,267.8 185.3,268.1 185.4,268.8 185.5,269.2 185.6,269.2 185.7,269.2 185.8,269.3 185.9,268.7 186.0,268.9 186.1,268.7 186.1,268.3 186.2,267.8 186.3,267.2 186.4,266.9 186.5,266.8 186.6,266.5 186.7,266.7 186.8,267.2 186.9,266.8 187.0,266.7 187.1,266.4 187.2,266.9 187.3,266.9 187.4,266.9 187.5,267.1 187.6,267.9 187.6,268.1 187.7,267.9 187.8,267.8 187.9,268.2 188.0,268.3 188.1,268.1 188.2,269.4 188.3,269.5 188.4,269.4 188.5,269.2 188.6,268.7 188.7,268.3 188.8,268.3 188.9,268.3 189.0,268.0 189.1,268.4 189.2,268.5 189.2,268.2 189.3,267.5 189.4,267.7 189.5,267.9 189.6,267.9 189.7,267.3 189.8,267.3 189.9,266.7 190.0,267.1 190.1,267.2 190.2,267.3 190.3,267.0 190.4,266.5 190.5,267.2 190.6,267.6 190.7,267.4 190.7,267.7 190.8,268.3 190.9,267.9 191.0,267.7 191.1,267.5 191.2,267.7 191.3,267.3 191.4,267.4 191.5,266.9 191.6,267.3 191.7,267.6 191.8,267.6 191.9,267.8 192.0,267.6 192.1,267.5 192.2,267.8 192.3,267.8 192.3,268.0 192.4,267.6 192.5,267.8 192.6,268.0 192.7,267.5 192.8,266.5 192.9,265.7 193.0,265.6 193.1,265.5 193.2,264.9 193.3,264.9 193.4,265.3 193.5,265.2 193.6,265.0 193.7,265.4 193.8,266.0 193.8,266.6 193.9,266.3 194.0,266.6 194.1,266.7 194.2,266.6 194.3,266.3 194.4,266.4 194.5,266.2 194.6,266.5 194.7,266.7 194.8,267.1 194.9,266.6 195.0,266.6 195.1,266.9 195.2,267.0 195.3,267.1 195.4,266.7 195.4,267.4 195.5,267.8 195.6,267.9 195.7,266.8 195.8,266.4 195.9,266.4 196.0,266.1 196.1,265.2 196.2,265.3 196.3,265.4 196.4,264.9 196.5,264.6 196.6,264.3 196.7,264.5 196.8,263.7 196.9,263.0 196.9,262.7 197.0,262.4 197.1,263.2 197.2,262.9 197.3,263.0 197.4,262.8 197.5,262.4 197.6,262.6 197.7,263.2 197.8,263.0 197.9,263.3 198.0,263.4 198.1,263.7 198.2,263.5 198.3,264.1 198.4,263.3 198.5,262.8 198.5,262.0 198.6,260.9 198.7,260.5 198.8,260.9 198.9,261.0 199.0,261.2 199.1,261.0 199.2,260.7 199.3,261.2 199.4,260.7 199.5,261.0 199.6,260.5 199.7,260.2 199.8,260.0 199.9,259.7 200.0,259.6 200.0,259.7 200.1,260.2 200.2,260.1 200.3,259.1 200.4,258.1 200.5,257.4 200.6,256.9 200.7,257.0 200.8,256.3 200.9,256.1 201.0,256.0 201.1,255.9 201.2,255.7 201.3,255.7 201.4,255.5 201.5,255.8 201.6,255.8 201.6,254.7 201.7,254.5 201.8,254.4 201.9,254.1 202.0,253.6 202.1,253.9 202.2,253.8 202.3,253.2 202.4,252.9 202.5,253.7 202.6,253.9 202.7,255.0 202.8,255.8 202.9,256.9 203.0,257.1 203.1,258.8 203.1,258.8 203.2,258.7 203.3,258.2 203.4,257.7 203.5,256.9 203.6,257.2 203.7,256.7 203.8,256.5 203.9,256.5 204.0,256.0 204.1,256.2 204.2,256.8 204.3,256.7 204.4,257.0 204.5,257.0 204.6,256.6 204.7,256.2 204.7,255.3 204.8,255.1 204.9,255.5 205.0,255.5 205.1,255.6 205.2,255.9 205.3,255.4 205.4,255.4 205.5,256.0 205.6,255.4 205.7,255.2 205.8,254.8 205.9,254.5 206.0,254.0 206.1,253.9 206.2,253.3 206.2,253.1 206.3,252.9 206.4,252.6 206.5,253.2 206.6,253.2 206.7,253.3 206.8,253.1 206.9,253.6 207.0,252.9 207.1,252.8 207.2,253.2 207.3,253.9 207.4,253.9 207.5,253.9 207.6,254.1 207.7,254.0 207.8,254.3 207.8,254.0 207.9,254.2 208.0,254.2 208.1,253.7 208.2,252.6 208.3,252.9 208.4,253.1 208.5,253.4 208.6,253.0 208.7,253.4 208.8,253.5 208.9,253.5 209.0,253.8 209.1,254.2 209.2,254.3 209.3,255.1 209.3,255.7 209.4,255.8 209.5,255.7 209.6,255.7 209.7,256.5 209.8,256.6 209.9,256.3 210.0,256.0 210.1,256.0 210.2,256.4 210.3,256.1 210.4,256.3 210.5,256.8 210.6,257.1 210.7,256.5 210.8,256.4 210.9,255.9 210.9,256.1 211.0,255.6 211.1,255.9 211.2,255.9 211.3,254.9 211.4,254.5 211.5,254.7 211.6,254.8 211.7,254.7 211.8,254.2 211.9,254.4 212.0,255.1 212.1,255.3 212.2,255.3 212.3,255.2 212.4,254.7 212.4,254.6 212.5,254.3 212.6,254.8 212.7,254.4 212.8,253.6 212.9,253.3 213.0,253.2 213.1,253.1 213.2,252.4 213.3,252.8 213.4,252.9 213.5,252.7 213.6,252.4 213.7,252.6 213.8,252.5 213.9,252.6 214.0,252.6 214.0,252.7 214.1,253.2 214.2,253.2 214.3,252.9 214.4,253.3 214.5,253.5 214.6,253.2 214.7,253.7 214.8,253.7 214.9,254.1 215.0,253.7 215.1,252.8 215.2,252.0 215.3,252.1 215.4,251.8 215.5,251.8 215.5,251.8 215.6,251.2 215.7,251.7 215.8,251.3 215.9,251.4 216.0,250.8 216.1,250.8 216.2,251.1 216.3,251.0 216.4,250.7 216.5,250.7 216.6,250.6 216.7,250.8 216.8,251.7 216.9,251.2 217.0,250.7 217.1,250.5 217.1,250.3 217.2,249.7 217.3,249.7 217.4,249.8 217.5,249.6 217.6,249.0 217.7,249.3 217.8,248.7 217.9,248.7 218.0,249.0 218.1,248.3 218.2,248.1 218.3,248.4 218.4,248.4 218.5,247.8 218.6,247.2 218.6,247.2 218.7,246.8 218.8,246.4 218.9,246.4 219.0,246.1 219.1,245.9 219.2,245.9 219.3,245.9 219.4,245.7 219.5,245.5 219.6,245.6 219.7,245.5 219.8,244.9 219.9,244.7 220.0,244.2 220.1,243.5 220.2,243.1 220.2,242.1 220.3,242.2 220.4,241.7 220.5,241.6 220.6,240.7 220.7,239.6 220.8,239.9 220.9,239.8 221.0,239.1 221.1,238.4 221.2,237.6 221.3,237.2 221.4,236.6 221.5,235.9 221.6,235.5 221.7,234.6 221.7,235.0 221.8,234.3 221.9,234.2 222.0,233.3 222.1,232.8 222.2,232.6 222.3,232.0 222.4,231.8 222.5,231.6 222.6,231.6 222.7,231.1 222.8,230.4 222.9,229.5 223.0,229.0 223.1,228.1 223.2,227.5 223.3,227.0 223.3,225.7 223.4,224.3 223.5,223.4 223.6,222.4 223.7,221.4 223.8,220.3 223.9,219.6 224.0,218.2 224.1,217.3 224.2,216.1 224.3,215.3 224.4,214.1 224.5,212.9 224.6,212.0 224.7,210.2 224.8,213.8 224.8,216.9 224.9,220.3 225.0,224.3 225.1,225.0 225.2,225.4 225.3,225.9 225.4,226.4 225.5,225.5 225.6,225.1 225.7,224.1 225.8,223.8 225.9,222.6 226.0,221.8 226.1,221.0 226.2,220.0 226.3,218.8 226.4,218.3 226.4,217.9 226.5,218.4 226.6,219.3 226.7,219.8 226.8,219.4 226.9,219.9 227.0,219.8 227.1,220.5 227.2,220.5 227.3,220.8 227.4,220.9 227.5,220.9 227.6,220.3 227.7,220.2 227.8,220.1 227.9,220.4 227.9,220.2 228.0,220.2 228.1,219.8 228.2,219.8 228.3,219.1 228.4,219.8 228.5,219.8 228.6,219.4 228.7,219.5 228.8,219.8 228.9,219.8 229.0,220.3 229.1,220.2 229.2,219.2 229.3,218.7 229.4,219.1 229.4,219.3 229.5,219.4 229.6,219.0 229.7,219.3 229.8,219.6 229.9,219.3 230.0,219.0 230.1,219.2 230.2,219.7 230.3,220.3 230.4,220.6 230.5,221.4 230.6,221.2 230.7,221.5 230.8,221.3 230.9,220.6 231.0,220.2 231.0,220.7 231.1,220.4 231.2,220.0 231.3,220.3 231.4,220.7 231.5,220.8 231.6,221.4 231.7,220.9 231.8,221.8 231.9,222.3 232.0,222.9 232.1,223.5 232.2,223.9 232.3,224.3 232.4,224.9 232.5,225.0 232.5,226.3 232.6,226.8 232.7,227.6 232.8,228.0 232.9,227.8 233.0,228.0 233.1,228.1 233.2,227.7 233.3,227.4 233.4,227.5 233.5,226.6 233.6,225.5 233.7,225.9 233.8,225.7 233.9,224.6 234.0,224.1 234.1,223.9 234.1,223.8 234.2,223.9 234.3,223.8 234.4,223.9 234.5,223.4 234.6,223.4 234.7,223.5 234.8,223.9 234.9,223.8 235.0,224.1 235.1,224.1 235.2,223.6 235.3,223.4 235.4,223.1 235.5,222.9 235.6,222.8 235.6,222.8 235.7,222.9 235.8,222.5 235.9,222.8 236.0,222.3 236.1,222.2 236.2,222.4 236.3,222.5 236.4,222.7 236.5,222.6 236.6,222.8 236.7,222.3 236.8,222.4 236.9,223.2 237.0,223.4 237.1,224.0 237.2,223.9 237.2,223.4 237.3,223.0 237.4,223.4 237.5,223.6 237.6,222.8 237.7,222.6 237.8,222.5 237.9,221.9 238.0,220.9 238.1,220.3 238.2,220.1 238.3,219.9 238.4,219.5 238.5,219.6 238.6,219.9 238.7,219.8 238.7,220.0 238.8,219.9 238.9,219.8 239.0,218.8 239.1,219.0 239.2,219.0 239.3,219.1 239.4,218.9 239.5,218.4 239.6,218.6 239.7,218.9 239.8,219.5 239.9,219.8 240.0,219.6 240.1,219.5 240.2,219.9 240.3,220.0 240.3,220.0 240.4,219.8 240.5,220.0 240.6,220.0 240.7,220.7 240.8,221.1 240.9,220.5 241.0,221.3 241.1,221.4 241.2,221.3 241.3,221.0 241.4,220.9 241.5,220.5 241.6,220.1 241.7,219.7 241.8,220.0 241.8,219.7 241.9,219.6 242.0,219.4 242.1,218.9 242.2,218.2 242.3,217.5 242.4,217.2 242.5,216.5 242.6,215.6 242.7,214.8 242.8,213.8 242.9,213.5 243.0,213.1 243.1,212.3 243.2,212.3 243.3,211.8 243.4,211.5 243.4,211.2 243.5,211.4 243.6,211.3 243.7,210.8 243.8,210.0 243.9,209.1 244.0,208.7 244.1,208.3 244.2,208.1 244.3,207.5 244.4,207.1 244.5,206.4 244.6,205.3 244.7,204.9 244.8,205.0 244.9,204.8 244.9,204.3 245.0,203.7 245.1,202.1 245.2,200.9 245.3,200.5 245.4,199.1 245.5,197.6 245.6,196.6 245.7,195.8 245.8,194.9 245.9,194.1 246.0,193.2 246.1,192.1 246.2,191.0 246.3,189.9 246.4,188.7 246.5,187.8 246.5,187.7 246.6,187.1 246.7,186.4 246.8,187.5 246.9,188.2 247.0,189.3 247.1,190.6 247.2,191.1 247.3,191.8 247.4,192.7 247.5,192.8 247.6,192.7 247.7,193.0 247.8,194.3 247.9,195.0 248.0,195.6 248.0,196.3 248.1,196.6 248.2,196.6 248.3,197.2 248.4,198.0 248.5,196.6 248.6,196.1 248.7,195.9 248.8,195.1 248.9,194.3 249.0,193.9 249.1,193.0 249.2,192.5 249.3,192.7 249.4,192.4 249.5,191.9 249.6,192.0 249.6,191.7 249.7,191.5 249.8,190.3 249.9,190.3 250.0,189.6 250.1,189.4 250.2,189.7 250.3,189.7 250.4,189.6 250.5,189.4 250.6,189.5 250.7,190.0 250.8,190.5 250.9,190.5 251.0,190.6 251.1,190.3 251.1,190.3 251.2,190.0 251.3,189.5 251.4,189.6 251.5,190.3 251.6,190.9 251.7,191.5 251.8,191.0 251.9,191.5 252.0,191.2 252.1,191.1 252.2,190.5 252.3,190.3 252.4,190.4 252.5,190.6 252.6,190.7 252.7,190.8 252.7,191.1 252.8,191.3 252.9,190.8 253.0,191.5 253.1,191.8 253.2,192.4 253.3,192.7 253.4,192.7 253.5,193.0 253.6,193.1 253.7,194.0 253.8,193.9 253.9,194.5 254.0,194.6 254.1,194.8 254.2,196.1 254.2,196.7 254.3,197.0 254.4,196.7 254.5,196.9 254.6,197.1 254.7,198.0 254.8,197.8 254.9,197.4 255.0,197.3 255.1,197.4 255.2,197.9 255.3,197.5 255.4,196.4 255.5,196.0 255.6,195.5 255.7,195.2 255.8,195.5 255.8,194.9 255.9,195.3 256.0,195.3 256.1,195.1 256.2,194.9 256.3,194.9 256.4,194.9 256.5,195.3 256.6,195.9 256.7,196.0 256.8,196.4 256.9,197.0 257.0,197.6 257.1,197.9 257.2,198.7 257.3,199.4 257.3,200.1 257.4,200.2 257.5,200.1 257.6,199.5 257.7,200.2 257.8,200.6 257.9,200.4 258.0,200.6 258.1,200.8 258.2,200.3 258.3,200.5 258.4,201.1 258.5,201.7 258.6,201.7 258.7,201.7 258.8,202.4 258.9,202.9 258.9,202.8 259.0,202.7 259.1,202.7 259.2,202.2 259.3,201.7 259.4,202.2 259.5,202.0 259.6,201.6 259.7,201.6 259.8,202.1 259.9,202.0 260.0,201.5 260.1,200.6 260.2,201.2 260.3,200.0 260.4,200.1 260.4,199.5 260.5,199.1 260.6,198.9 260.7,198.9 260.8,199.4 260.9,199.3 261.0,199.7 261.1,200.7 261.2,199.7 261.3,199.6 261.4,199.0 261.5,199.4 261.6,199.0 261.7,198.4 261.8,197.9 261.9,198.1 262.0,198.6 262.0,198.8 262.1,199.7 262.2,200.4 262.3,200.5 262.4,200.5 262.5,200.3 262.6,200.0 262.7,198.9 262.8,198.1 262.9,197.8 263.0,197.0 263.1,196.9 263.2,196.7 263.3,196.0 263.4,196.2 263.5,196.0 263.5,196.1 263.6,195.7 263.7,194.8 263.8,194.7 263.9,194.3 264.0,194.3 264.1,194.4 264.2,194.9 264.3,194.4 264.4,193.5 264.5,193.4 264.6,193.7 264.7,193.5 264.8,193.6 264.9,193.3 265.0,193.3 265.1,193.2 265.1,193.0 265.2,193.2 265.3,193.4 265.4,194.1 265.5,194.3 265.6,194.9 265.7,195.0 265.8,195.3 265.9,195.3 266.0,195.2 266.1,195.8 266.2,196.1 266.3,196.5 266.4,196.3 266.5,195.7 266.6,195.4 266.6,195.6 266.7,195.1 266.8,195.7 266.9,195.2 267.0,195.5 267.1,196.6 267.2,195.6 267.3,195.0 267.4,195.5 267.5,195.5 267.6,195.6 267.7,195.6 267.8,196.2 267.9,196.5 268.0,196.4 268.1,196.3 268.2,195.9 268.2,195.9 268.3,195.1 268.4,195.4 268.5,195.4 268.6,196.2 268.7,196.8 268.8,196.3 268.9,196.8 269.0,196.7 269.1,196.8 269.2,197.3 269.3,197.5 269.4,197.8 269.5,198.1 269.6,197.9 269.7,197.7 269.7,198.1 269.8,198.5 269.9,198.5 270.0,198.6 270.1,198.3 270.2,197.4 270.3,197.2 270.4,197.3 270.5,197.5 270.6,197.9 270.7,198.3 270.8,198.8 270.9,199.0 271.0,199.3 271.1,199.1 271.2,199.3 271.3,199.5 271.3,200.1 271.4,199.7 271.5,199.7 271.6,199.2 271.7,199.0 271.8,198.6 271.9,198.9 272.0,198.8 272.1,197.9 272.2,198.6 272.3,198.3 272.4,197.8 272.5,197.8 272.6,197.7 272.7,197.4 272.8,197.8 272.8,197.8 272.9,198.3 273.0,198.8 273.1,199.2 273.2,199.4 273.3,199.5 273.4,199.5 273.5,200.4 273.6,199.9 273.7,199.8 273.8,199.8 273.9,200.3 274.0,200.7 274.1,200.8 274.2,200.9 274.3,201.9 274.4,201.9 274.4,201.1 274.5,202.2 274.6,202.1 274.7,202.3 274.8,202.6 274.9,202.4 275.0,203.2 275.1,203.5 275.2,203.2 275.3,203.6 275.4,204.1 275.5,204.4 275.6,204.9 275.7,204.6 275.8,205.3 275.9,204.8 275.9,205.2 276.0,204.8 276.1,204.7 276.2,205.6 276.3,205.5 276.4,205.8 276.5,205.9 276.6,205.2 276.7,205.5 276.8,205.8 276.9,205.1 277.0,205.0 277.1,204.2 277.2,204.0 277.3,204.2 277.4,204.1 277.5,203.5 277.5,203.1 277.6,202.9 277.7,202.8 277.8,202.7 277.9,202.9 278.0,202.0 278.1,201.9 278.2,202.2 278.3,202.3 278.4,201.9 278.5,201.5 278.6,201.4 278.7,201.6 278.8,201.5 278.9,202.0 279.0,202.4 279.0,202.0 279.1,202.0 279.2,201.8 279.3,201.2 279.4,201.0 279.5,201.0 279.6,200.2 279.7,199.9 279.8,200.1 279.9,199.8 280.0,199.7 280.1,200.1 280.2,200.1 280.3,200.2 280.4,201.0 280.5,201.0 280.6,201.2 280.6,201.4 280.7,202.0 280.8,202.2 280.9,202.2 281.0,202.2 281.1,202.7 281.2,202.5 281.3,203.0 281.4,203.1 281.5,202.6 281.6,202.9 281.7,203.1 281.8,202.7 281.9,202.8 282.0,203.0 282.1,202.9 282.1,202.5 282.2,203.4 282.3,203.7 282.4,204.1 282.5,204.6 282.6,204.9 282.7,205.3 282.8,205.2 282.9,205.5 283.0,205.5 283.1,205.4 283.2,205.7 283.3,205.6 283.4,205.0 283.5,204.9 283.6,205.2 283.7,205.2 283.7,205.6 283.8,205.5 283.9,205.8 284.0,206.7 284.1,207.3 284.2,207.5 284.3,208.3 284.4,208.8 284.5,209.8 284.6,210.7 284.7,211.5 284.8,211.2 284.9,212.0 285.0,212.8 285.1,213.6 285.2,214.2 285.2,214.6 285.3,213.9 285.4,212.5 285.5,211.9 285.6,210.7 285.7,210.0 285.8,209.2 285.9,209.2 286.0,208.6 286.1,208.1 286.2,207.6 286.3,207.8 286.4,207.6 286.5,207.8 286.6,208.1 286.7,208.3 286.8,208.5 286.8,208.5 286.9,209.1 287.0,209.5 287.1,209.5 287.2,209.6 287.3,209.8 287.4,210.2 287.5,210.6 287.6,210.7 287.7,210.4 287.8,210.9 287.9,210.0 288.0,209.3 288.1,209.2 288.2,208.6 288.3,208.8 288.3,209.1 288.4,209.3 288.5,209.1 288.6,208.9 288.7,208.8 288.8,208.4 288.9,208.9 289.0,208.4 289.1,208.6 289.2,208.5 289.3,208.3 289.4,208.5 289.5,208.6 289.6,208.7 289.7,208.4 289.8,207.8 289.9,207.3 289.9,207.3 290.0,207.3 290.1,207.3 290.2,206.8 290.3,207.3 290.4,206.5 290.5,206.8 290.6,207.2 290.7,207.3 290.8,207.0 290.9,207.0 291.0,206.8 291.1,206.8 291.2,206.5 291.3,206.2 291.4,206.4 291.4,205.9 291.5,206.0 291.6,206.1 291.7,206.6 291.8,206.9 291.9,206.7 292.0,207.3 292.1,207.2 292.2,207.2 292.3,207.3 292.4,208.2 292.5,208.4 292.6,208.3 292.7,208.7 292.8,208.8 292.9,209.9 293.0,209.8 293.0,210.2 293.1,210.0 293.2,210.8 293.3,210.7 293.4,210.9 293.5,210.7 293.6,211.2 293.7,211.6 293.8,210.9 293.9,211.2 294.0,211.4 294.1,211.5 294.2,211.9 294.3,211.4 294.4,210.8 294.5,211.0 294.5,211.7 294.6,211.2 294.7,210.8 294.8,210.4 294.9,210.0 295.0,210.3 295.1,210.3 295.2,210.8 295.3,211.4 295.4,211.0 295.5,211.2 295.6,210.3 295.7,210.3 295.8,210.5 295.9,210.2 296.0,209.5 296.1,209.3 296.1,209.7 296.2,209.6 296.3,209.1 296.4,209.2 296.5,209.5 296.6,209.1 296.7,209.0 296.8,209.4 296.9,209.6 297.0,209.8 297.1,209.7 297.2,209.6 297.3,209.0 297.4,208.7 297.5,209.2 297.6,208.9 297.6,208.5 297.7,208.2 297.8,207.7 297.9,207.8 298.0,208.1 298.1,207.7 298.2,208.0 298.3,208.7 298.4,208.2 298.5,208.4 298.6,208.4 298.7,208.8 298.8,209.2 298.9,209.6 299.0,209.6 299.1,209.4 299.2,210.2 299.2,209.8 299.3,210.1 299.4,210.4 299.5,210.1 299.6,210.1 299.7,210.6 299.8,209.9 299.9,210.1 300.0,210.0 300.1,209.9 300.2,209.3 300.3,209.4 300.4,209.0 300.5,209.2 300.6,208.8 300.7,209.0 300.7,209.1 300.8,208.3 300.9,208.2 301.0,208.1 301.1,207.2 301.2,207.0 301.3,207.3 301.4,207.0 301.5,207.4 301.6,206.9 301.7,206.4 301.8,206.6 301.9,206.7 302.0,206.6 302.1,206.6 302.2,206.9 302.3,206.7 302.3,207.4 302.4,207.6 302.5,207.7 302.6,207.8 302.7,207.6 302.8,208.1 302.9,207.8 303.0,207.8 303.1,208.0 303.2,208.5 303.3,209.0 303.4,208.8 303.5,209.1 303.6,209.1 303.7,208.6 303.8,208.2 303.8,207.6 303.9,207.7 304.0,208.0 304.1,207.6 304.2,207.5 304.3,207.0 304.4,207.4 304.5,207.3 304.6,207.3 304.7,207.4 304.8,207.6 304.9,207.9 305.0,208.1 305.1,208.4 305.2,208.4 305.3,209.0 305.3,208.7 305.4,209.1 305.5,209.1 305.6,209.5 305.7,210.0 305.8,209.6 305.9,210.1 306.0,210.9 306.1,211.6 306.2,211.7 306.3,210.9 306.4,210.8 306.5,210.4 306.6,210.8 306.7,210.7 306.8,210.4 306.9,209.7 306.9,210.0 307.0,209.8 307.1,209.7 307.2,210.1 307.3,210.1 307.4,210.2 307.5,211.0 307.6,210.8 307.7,210.6 307.8,210.8 307.9,211.3 308.0,210.7 308.1,210.6 308.2,210.2 308.3,209.8 308.4,210.0 308.4,209.8 308.5,209.9 308.6,210.0 308.7,210.1 308.8,210.2 308.9,209.8 309.0,209.8 309.1,210.0 309.2,210.1 309.3,210.1 309.4,210.5 309.5,210.7 309.6,210.8 309.7,211.1 309.8,211.2 309.9,211.5 310.0,210.8 310.0,210.4 310.1,210.3 310.2,210.3 310.3,209.6 310.4,209.5 310.5,209.6 310.6,209.6 310.7,209.5 310.8,209.0 310.9,209.1 311.0,208.4 311.1,208.3 311.2,207.7 311.3,207.7 311.4,206.7 311.5,206.4 311.5,206.1 311.6,205.4 311.7,204.5 311.8,204.6 311.9,204.3 312.0,204.5 312.1,204.1 312.2,203.7 312.3,203.5 312.4,203.4 312.5,203.2 312.6,203.1 312.7,202.5 312.8,201.6 312.9,201.9 313.0,202.3 313.1,202.8 313.1,203.0 313.2,203.7 313.3,204.1 313.4,204.9 313.5,205.0 313.6,205.3 313.7,205.1 313.8,204.8 313.9,204.7 314.0,205.1 314.1,204.7 314.2,204.4 314.3,204.2 314.4,203.7 314.5,203.0 314.6,203.2 314.6,203.4 314.7,202.6 314.8,201.8 314.9,201.9 315.0,202.2 315.1,202.2 315.2,202.2 315.3,202.6 315.4,202.4 315.5,202.7 315.6,203.0 315.7,202.5 315.8,202.5 315.9,202.4 316.0,201.9 316.1,201.4 316.2,201.4 316.2,201.1 316.3,201.3 316.4,200.4 316.5,200.0 316.6,200.2 316.7,200.0 316.8,199.8 316.9,199.7 317.0,199.0 317.1,198.6 317.2,198.8 317.3,198.9 317.4,199.5 317.5,199.5 317.6,199.5 317.7,198.5 317.7,198.5 317.8,199.4 317.9,199.7 318.0,199.7 318.1,200.3 318.2,200.6 318.3,200.8 318.4,200.7 318.5,200.8 318.6,201.2 318.7,200.9 318.8,201.1 318.9,201.3 319.0,201.9 319.1,202.2 319.2,202.0 319.3,202.6 319.3,202.7 319.4,202.4 319.5,202.6 319.6,202.5 319.7,202.9 319.8,202.4 319.9,201.9 320.0,201.8 320.1,202.4 320.2,202.8 320.3,202.3 320.4,201.7 320.5,201.5 320.6,201.0 320.7,201.2 320.8,201.2 320.8,201.2 320.9,201.0 321.0,201.5 321.1,201.1 321.2,200.6 321.3,201.0 321.4,201.5 321.5,201.3 321.6,201.5 321.7,202.4 321.8,202.0 321.9,201.9 322.0,202.1 322.1,201.2 322.2,201.1 322.3,201.4 322.4,201.3 322.4,201.7 322.5,201.9 322.6,201.7 322.7,201.9 322.8,202.0 322.9,201.4 323.0,201.0 323.1,200.7 323.2,200.4 323.3,200.2 323.4,199.6 323.5,199.6 323.6,198.8 323.7,199.2 323.8,199.2 323.9,199.7 323.9,199.8 324.0,199.6 324.1,199.0 324.2,199.2 324.3,199.2 324.4,199.2 324.5,199.5 324.6,199.9 324.7,199.8 324.8,200.5 324.9,200.4 325.0,200.3 325.1,200.5 325.2,200.9 325.3,201.4 325.4,200.8 325.5,201.4 325.5,200.9 325.6,200.7 325.7,200.9 325.8,201.5 325.9,201.2 326.0,200.6 326.1,201.0 326.2,201.2 326.3,200.9 326.4,200.9 326.5,200.2 326.6,200.5 326.7,200.4 326.8,201.0 326.9,200.3 327.0,200.6 327.0,201.6 327.1,201.7 327.2,201.9 327.3,201.2 327.4,201.4 327.5,201.5 327.6,201.4 327.7,200.9 327.8,201.0 327.9,200.7 328.0,200.6 328.1,200.8 328.2,200.8 328.3,200.9 328.4,201.2 328.5,200.8 328.6,201.3 328.6,200.9 328.7,200.6 328.8,200.6 328.9,201.0 329.0,201.1 329.1,200.9 329.2,200.6 329.3,200.6 329.4,200.2 329.5,200.4 329.6,200.4 329.7,201.0 329.8,200.7 329.9,200.7 330.0,200.9 330.1,200.5 330.1,200.2 330.2,201.3 330.3,201.3 330.4,201.9 330.5,201.5 330.6,200.6 330.7,200.8 330.8,200.8 330.9,200.9 331.0,200.8 331.1,200.6 331.2,200.1 331.3,200.5 331.4,200.0 331.5,200.3 331.6,200.0 331.7,199.2 331.7,198.7 331.8,198.8 331.9,198.8 332.0,198.7 332.1,198.4 332.2,197.7 332.3,197.9 332.4,197.5 332.5,197.0 332.6,196.5 332.7,196.1 332.8,195.2 332.9,194.8 333.0,194.2 333.1,193.7 333.2,192.7 333.2,193.2 333.3,192.4 333.4,192.2 333.5,192.1 333.6,192.2 333.7,192.6 333.8,192.5 333.9,192.5 334.0,192.0 334.1,192.3 334.2,192.3 334.3,192.7 334.4,193.3 334.5,194.1 334.6,194.9 334.7,195.9 334.8,195.9 334.8,195.7 334.9,195.6 335.0,195.9 335.1,195.8 335.2,196.0 335.3,195.8 335.4,194.9 335.5,194.4 335.6,194.4 335.7,194.8 335.8,195.2 335.9,195.6 336.0,195.2 336.1,195.3 336.2,195.1 336.3,195.1 336.3,194.9 336.4,194.2 336.5,194.2 336.6,194.2 336.7,194.3 336.8,194.1 336.9,194.6 337.0,195.1 337.1,195.8 337.2,196.4 337.3,196.4 337.4,195.5 337.5,196.0 337.6,195.8 337.7,195.8 337.8,196.3 337.9,196.5 337.9,196.7 338.0,197.1 338.1,196.5 338.2,197.3 338.3,197.3 338.4,197.3 338.5,197.5 338.6,197.4 338.7,197.1 338.8,197.0 338.9,196.9 339.0,196.6 339.1,197.4 339.2,196.8 339.3,195.9 339.4,195.6 339.4,195.2 339.5,195.7 339.6,195.7 339.7,196.0 339.8,196.2 339.9,195.9 340.0,196.2 340.1,196.2 340.2,196.9 340.3,197.0 340.4,196.9 340.5,197.2 340.6,197.5 340.7,196.7 340.8,197.2 340.9,197.6 341.0,197.9 341.0,197.4 341.1,196.6 341.2,196.5 341.3,196.8 341.4,196.9 341.5,196.5 341.6,196.9 341.7,196.3 341.8,195.8 341.9,195.8 342.0,195.5 342.1,195.2 342.2,194.7 342.3,195.1 342.4,194.6 342.5,194.8 342.5,195.1 342.6,195.0 342.7,195.1 342.8,195.5 342.9,196.1 343.0,196.5 343.1,195.9 343.2,195.2 343.3,194.9 343.4,194.5 343.5,194.7 343.6,194.7 343.7,194.6 343.8,195.0 343.9,195.4 344.0,195.4 344.1,195.5 344.1,195.9 344.2,195.7 344.3,195.7 344.4,195.3 344.5,195.3 344.6,195.3 344.7,195.3 344.8,195.3 344.9,195.5 345.0,195.6 345.1,195.3 345.2,195.0 345.3,194.5 345.4,195.1 345.5,195.2 345.6,195.3 345.6,195.2 345.7,195.4 345.8,195.5 345.9,195.2 346.0,195.1 346.1,195.5 346.2,195.0 346.3,194.5 346.4,194.6 346.5,194.1 346.6,194.2 346.7,193.6 346.8,193.5 346.9,193.7 347.0,193.6 347.1,193.8 347.2,193.5 347.2,193.3 347.3,193.1 347.4,193.1 347.5,194.4 347.6,194.2 347.7,194.7 347.8,194.4 347.9,193.8 348.0,193.6 348.1,193.5 348.2,193.4 348.3,193.3 348.4,193.4 348.5,193.4 348.6,193.6 348.7,193.0 348.7,192.8 348.8,192.4 348.9,192.5 349.0,192.5 349.1,192.5 349.2,192.3 349.3,192.0 349.4,191.9 349.5,192.2 349.6,192.4 349.7,191.8 349.8,191.9 349.9,192.0 350.0,191.4 350.1,191.0 350.2,190.8 350.3,190.9 350.3,190.0 350.4,189.9 350.5,189.6 350.6,189.7 350.7,190.2 350.8,190.7 350.9,190.5 351.0,190.4 351.1,190.5 351.2,190.9 351.3,191.4 351.4,191.5 351.5,192.1 351.6,191.7 351.7,191.0 351.8,189.6 351.8,189.0 351.9,188.9 352.0,188.9 352.1,189.9 352.2,189.9 352.3,189.6 352.4,189.0 352.5,188.4 352.6,187.9 352.7,187.5 352.8,187.0 352.9,186.1 353.0,186.2 353.1,187.2 353.2,188.5 353.3,188.9 353.4,189.3 353.4,189.9 353.5,191.1 353.6,191.9 353.7,191.8 353.8,191.6 353.9,191.5 354.0,191.2 354.1,191.1 354.2,190.7 354.3,190.4 354.4,190.3 354.5,190.2 354.6,190.1 354.7,189.7 354.8,189.6 354.9,189.3 354.9,189.3 355.0,189.6 355.1,189.1 355.2,189.3 355.3,188.9 355.4,188.6 355.5,188.9 355.6,189.0 355.7,189.0 355.8,189.1 355.9,189.3 356.0,188.9 356.1,188.8 356.2,188.5 356.3,188.4 356.4,188.1 356.5,188.2 356.5,188.0 356.6,187.7 356.7,187.5 356.8,187.4 356.9,187.6 357.0,187.3 357.1,187.0 357.2,186.9 357.3,187.0 357.4,186.6 357.5,185.7 357.6,185.6 357.7,185.3 357.8,185.0 357.9,185.6 358.0,185.4 358.0,185.4 358.1,184.8 358.2,184.7 358.3,184.7 358.4,184.6 358.5,184.8 358.6,185.3 358.7,185.6 358.8,186.3 358.9,186.6 359.0,186.7 359.1,186.4 359.2,186.4 359.3,186.6 359.4,186.5 359.5,186.5 359.6,186.3 359.6,186.2 359.7,186.5 359.8,186.7 359.9,186.9 360.0,187.1 360.1,187.3 360.2,187.9 360.3,188.8 360.4,189.3 360.5,189.7 360.6,189.5 360.7,189.3 360.8,189.7 360.9,189.3 361.0,188.8 361.1,188.6 361.1,187.9 361.2,187.1 361.3,187.3 361.4,186.8 361.5,186.5 361.6,186.2 361.7,185.7 361.8,185.7 361.9,185.7 362.0,185.8 362.1,185.8 362.2,185.7 362.3,185.9 362.4,186.1 362.5,185.7 362.6,185.6 362.7,185.3 362.7,185.7 362.8,185.8 362.9,185.8 363.0,185.6 363.1,185.6 363.2,185.1 363.3,185.0 363.4,184.8 363.5,184.6 363.6,184.2 363.7,184.2 363.8,183.7 363.9,183.3 364.0,183.1 364.1,182.9 364.2,182.6 364.2,182.1 364.3,181.6 364.4,181.1 364.5,180.4 364.6,179.9 364.7,179.1 364.8,178.7 364.9,178.9 365.0,178.1 365.1,177.6 365.2,177.6 365.3,177.2 365.4,177.1 365.5,176.0 365.6,175.4 365.7,175.5 365.8,174.9 365.8,174.6 365.9,173.6 366.0,173.5 366.1,173.8 366.2,173.3 366.3,173.4 366.4,173.5 366.5,174.1 366.6,173.9 366.7,173.3 366.8,173.9 366.9,173.5 367.0,173.6 367.1,172.8 367.2,172.6 367.3,172.6 367.3,172.2 367.4,172.0 367.5,172.2 367.6,171.9 367.7,172.0 367.8,172.5 367.9,171.8 368.0,172.0 368.1,172.3 368.2,172.3 368.3,172.8 368.4,173.3 368.5,173.6 368.6,173.8 368.7,173.9 368.8,173.6 368.9,173.8 368.9,173.7 369.0,173.6 369.1,174.0 369.2,174.1 369.3,174.4 369.4,174.2 369.5,174.2 369.6,174.4 369.7,175.1 369.8,175.2 369.9,175.7 370.0,175.7 370.1,175.9 370.2,176.4 370.3,176.3 370.4,176.3 370.4,176.7 370.5,176.5 370.6,176.8 370.7,177.1 370.8,177.3 370.9,177.7 371.0,178.1 371.1,178.3 371.2,177.7 371.3,177.0 371.4,176.8 371.5,176.1 371.6,175.9 371.7,175.6 371.8,175.1 371.9,174.8 372.0,173.8 372.0,173.5 372.1,173.6 372.2,173.0 372.3,172.9 372.4,172.8 372.5,173.5 372.6,173.0 372.7,172.5 372.8,172.0 372.9,171.5 373.0,170.8 373.1,170.3 373.2,169.6 373.3,169.3 373.4,169.0 373.5,168.2 373.5,167.6 373.6,167.5 373.7,167.0 373.8,166.6 373.9,166.3 374.0,166.1 374.1,166.1 374.2,166.4 374.3,166.6 374.4,165.9 374.5,166.3 374.6,166.1 374.7,165.7 374.8,165.4 374.9,165.6 375.0,165.6 375.1,165.4 375.1,165.0 375.2,165.1 375.3,165.3 375.4,164.9 375.5,164.4 375.6,164.7 375.7,165.4 375.8,165.7 375.9,166.1 376.0,166.3 376.1,167.1 376.2,167.5 376.3,168.0 376.4,168.8 376.5,169.2 376.6,169.6 376.6,170.2 376.7,170.5 376.8,170.8 376.9,170.5 377.0,170.2 377.1,169.9 377.2,169.3 377.3,169.4 377.4,169.7 377.5,169.4 377.6,169.0 377.7,168.1 377.8,167.7 377.9,167.8 378.0,167.3 378.1,167.3 378.2,167.5 378.2,166.5 378.3,166.2 378.4,165.9 378.5,165.6 378.6,164.9 378.7,164.8 378.8,164.3 378.9,164.5 379.0,164.9 379.1,164.3 379.2,163.8 379.3,163.5 379.4,163.4 379.5,163.2 379.6,163.3 379.7,162.8 379.7,162.5 379.8,162.2 379.9,162.0 380.0,161.6 380.1,161.4 380.2,161.1 380.3,161.4 380.4,161.2 380.5,160.4 380.6,160.5 380.7,160.5 380.8,160.2 380.9,159.8 381.0,159.6 381.1,160.0 381.2,159.8 381.2,160.1 381.3,160.3 381.4,160.1 381.5,160.1 381.6,159.8 381.7,158.8 381.8,158.5 381.9,158.2 382.0,159.1 382.1,159.9 382.2,160.8 382.3,161.6 382.4,161.4 382.5,161.1 382.6,160.6 382.7,160.3 382.8,160.2 382.8,160.1 382.9,159.4 383.0,158.8 383.1,158.0 383.2,157.1 383.3,156.7 383.4,155.9 383.5,155.8 383.6,154.6 383.7,153.6 383.8,153.2 383.9,153.0 384.0,151.9 384.1,151.6 384.2,150.9 384.3,149.7 384.3,148.8 384.4,148.0 384.5,146.8 384.6,146.2 384.7,145.9 384.8,145.8 384.9,145.9 385.0,145.5 385.1,145.6 385.2,144.8 385.3,144.8 385.4,144.0 385.5,144.1 385.6,143.7 385.7,144.9 385.8,146.2 385.9,147.0 385.9,147.6 386.0,148.9 386.1,148.2 386.2,148.2 386.3,147.8 386.4,147.4 386.5,147.0 386.6,147.2 386.7,146.5 386.8,146.0 386.9,145.8 387.0,145.9 387.1,146.1 387.2,146.2 387.3,145.8 387.4,145.6 387.4,145.7 387.5,146.4 387.6,146.5 387.7,147.2 387.8,148.0 387.9,148.2 388.0,148.6 388.1,149.2 388.2,150.0 388.3,151.0 388.4,152.0 388.5,152.0 388.6,151.8 388.7,151.5 388.8,151.2 388.9,150.9 389.0,150.6 389.0,150.8 389.1,151.2 389.2,151.2 389.3,151.3 389.4,151.3 389.5,151.2 389.6,152.4 389.7,153.5 389.8,154.3 389.9,155.0 390.0,156.0 390.1,156.6 390.2,157.4 390.3,158.5 390.4,159.3 390.5,158.3 390.5,158.2 390.6,157.5 390.7,156.8 390.8,156.0 390.9,155.9 391.0,154.9 391.1,154.5 391.2,154.3 391.3,154.0 391.4,153.5 391.5,153.2 391.6,152.9 391.7,152.1 391.8,152.3 391.9,152.6 392.0,152.3 392.1,152.1 392.1,151.7 392.2,152.0 392.3,151.6 392.4,151.4 392.5,150.9 392.6,151.2 392.7,151.1 392.8,151.1 392.9,151.6 393.0,152.3 393.1,152.5 393.2,153.1 393.3,153.8 393.4,154.0 393.5,154.2 393.6,154.4 393.6,155.1 393.7,155.6 393.8,155.8 393.9,156.5 394.0,157.2 394.1,157.4 394.2,157.0 394.3,157.3 394.4,158.2 394.5,158.6 394.6,159.0 394.7,159.0 394.8,158.8 394.9,158.9 395.0,159.1 395.1,159.1 395.2,159.4 395.2,159.5 395.3,159.7 395.4,158.9 395.5,158.6 395.6,158.9 395.7,159.2 395.8,159.4 395.9,159.9 396.0,159.8 396.1,159.6 396.2,159.0 396.3,158.7 396.4,158.6 396.5,158.6 396.6,158.6 396.7,158.2 396.7,157.9 396.8,157.2 396.9,157.0 397.0,156.3 397.1,155.8 397.2,155.5 397.3,155.7 397.4,155.7 397.5,155.1 397.6,154.3 397.7,154.3 397.8,154.0 397.9,154.2 398.0,154.3 398.1,154.5 398.2,154.2 398.3,154.1 398.3,154.2 398.4,154.3 398.5,154.1 398.6,154.0 398.7,154.5 398.8,154.2 398.9,154.3 399.0,154.6 399.1,154.3 399.2,154.2 399.3,154.5 399.4,154.6 399.5,155.1 399.6,155.6 399.7,156.5 399.8,156.3 399.8,157.2 399.9,157.2 400.0,157.7 400.1,158.2 400.2,158.5 400.3,158.6 400.4,158.7 400.5,158.3 400.6,158.5 400.7,158.4 400.8,158.8 400.9,158.5 401.0,158.4 401.1,158.5 401.2,158.4 401.3,158.4 401.4,158.3 401.4,158.1 401.5,158.1 401.6,158.3 401.7,158.0 401.8,158.4 401.9,158.6 402.0,158.0 402.1,159.0 402.2,159.4 402.3,159.3 402.4,160.0 402.5,159.4 402.6,160.3 402.7,160.0 402.8,159.7 402.9,159.6 402.9,159.8 403.0,159.9 403.1,160.3 403.2,160.2 403.3,160.7 403.4,161.0 403.5,160.8 403.6,161.3 403.7,161.6 403.8,161.3 403.9,161.5 404.0,160.9 404.1,160.6 404.2,160.8 404.3,160.6 404.4,160.6 404.5,160.5 404.5,160.3 404.6,160.3 404.7,159.7 404.8,159.7 404.9,159.3 405.0,159.3 405.1,158.9 405.2,159.0 405.3,159.1 405.4,159.4 405.5,159.2 405.6,158.8 405.7,158.1 405.8,157.6 405.9,157.5 406.0,157.4 406.0,157.3 406.1,157.2 406.2,156.7 406.3,156.5 406.4,156.9 406.5,157.3 406.6,157.0 406.7,157.1 406.8,157.3 406.9,157.1 407.0,157.4 407.1,157.6 407.2,157.9 407.3,158.7 407.4,158.5 407.5,159.1 407.6,159.4 407.6,159.8 407.7,159.7 407.8,159.9 407.9,160.0 408.0,160.7 408.1,160.9 408.2,161.3 408.3,161.1 408.4,161.0 408.5,160.9 408.6,160.3 408.7,160.0 408.8,159.8 408.9,159.7 409.0,159.7 409.1,159.4 409.1,159.0 409.2,159.4 409.3,159.0 409.4,158.8 409.5,158.4 409.6,158.3 409.7,158.6 409.8,158.9 409.9,158.3 410.0,158.2 410.1,158.6 410.2,158.4 410.3,158.6 410.4,159.3 410.5,160.1 410.6,160.6 410.7,160.6 410.7,160.5 410.8,160.5 410.9,160.4 411.0,160.1 411.1,160.6 411.2,160.6 411.3,160.8 411.4,161.1 411.5,161.2 411.6,161.1 411.7,161.1 411.8,161.5 411.9,161.5 412.0,160.8 412.1,161.1 412.2,161.5 412.2,161.3 412.3,161.0 412.4,160.8 412.5,161.1 412.6,160.7 412.7,160.8 412.8,161.1 412.9,161.2 413.0,161.1 413.1,160.8 413.2,160.5 413.3,160.4 413.4,160.0 413.5,159.9 413.6,159.7 413.7,160.1 413.8,160.6 413.8,160.4 413.9,160.8 414.0,160.9 414.1,160.9 414.2,161.1 414.3,161.3 414.4,160.8 414.5,161.6 414.6,161.4 414.7,160.7 414.8,160.7 414.9,160.7 415.0,160.4 415.1,159.9 415.2,160.3 415.3,160.2 415.3,160.3 415.4,160.1 415.5,160.1 415.6,159.9 415.7,160.0 415.8,160.0 415.9,160.3 416.0,160.5 416.1,160.5 416.2,160.6 416.3,160.9 416.4,160.5 416.5,160.5 416.6,161.0 416.7,160.6 416.8,161.6 416.9,162.1 416.9,162.8 417.0,163.4 417.1,164.1 417.2,165.0 417.3,165.7 417.4,165.4 417.5,166.5 417.6,166.9 417.7,167.1 417.8,167.8 417.9,168.5 418.0,168.0 418.1,168.4 418.2,167.9 418.3,168.0 418.4,168.2 418.4,168.3 418.5,168.3 418.6,168.2 418.7,168.3 418.8,168.4 418.9,168.6 419.0,168.4 419.1,168.4 419.2,168.9 419.3,169.4 419.4,169.5 419.5,169.9 419.6,170.2 419.7,170.8 419.8,170.8 419.9,170.5 420.0,170.1 420.0,170.0 420.1,169.3 420.2,169.2 420.3,168.1 420.4,167.7 420.5,167.4 420.6,167.6 420.7,168.6 420.8,168.7 420.9,168.7 421.0,168.2 421.1,168.6 421.2,168.1 421.3,168.2 421.4,168.1 421.5,168.9 421.5,168.9 421.6,169.1 421.7,169.0 421.8,169.0 421.9,169.4 422.0,169.2 422.1,169.0 422.2,168.9 422.3,168.6 422.4,168.4 422.5,168.5 422.6,168.9 422.7,169.4 422.8,169.1 422.9,168.9 423.0,169.0 423.1,169.2 423.1,169.2 423.2,169.3 423.3,169.5 423.4,169.8 423.5,169.2 423.6,169.2 423.7,169.4 423.8,169.9 423.9,170.2 424.0,170.0 424.1,169.9 424.2,170.0 424.3,170.1 424.4,170.2 424.5,170.6 424.6,170.3 424.6,170.3 424.7,169.6 424.8,169.9 424.9,169.8 425.0,169.4 425.1,169.3 425.2,169.6 425.3,169.8 425.4,169.6 425.5,169.4 425.6,169.3 425.7,168.8 425.8,168.4 425.9,168.1 426.0,168.0 426.1,167.9 426.2,167.6 426.2,167.2 426.3,167.1 426.4,167.0 426.5,167.2 426.6,167.7 426.7,168.0 426.8,167.9 426.9,167.8 427.0,167.4 427.1,167.4 427.2,167.2 427.3,166.9 427.4,166.6 427.5,166.9 427.6,167.0 427.7,167.1 427.7,167.4 427.8,167.3 427.9,167.1 428.0,167.3 428.1,166.8 428.2,166.9 428.3,167.1 428.4,167.2 428.5,167.5 428.6,167.4 428.7,167.3 428.8,166.7 428.9,166.4 429.0,166.1 429.1,166.0 429.2,166.4 429.3,166.3 429.3,166.4 429.4,166.0 429.5,165.9 429.6,165.3 429.7,164.9 429.8,164.6 429.9,164.4 430.0,164.4 430.1,164.3 430.2,164.1 430.3,164.4 430.4,164.3 430.5,163.6 430.6,163.7 430.7,163.9 430.8,164.2 430.8,164.7 430.9,164.4 431.0,164.5 431.1,164.5 431.2,164.0 431.3,163.3 431.4,163.7 431.5,163.5 431.6,163.3 431.7,163.3 431.8,163.2 431.9,163.3 432.0,162.9 432.1,162.5 432.2,162.1 432.3,161.5 432.4,161.0 432.4,160.6 432.5,160.3 432.6,159.5 432.7,159.1 432.8,158.9 432.9,158.9 433.0,158.7 433.1,158.8 433.2,158.5 433.3,158.2 433.4,158.6 433.5,158.4 433.6,157.9 433.7,157.6 433.8,157.7 433.9,157.0 433.9,157.1 434.0,157.3 434.1,157.4 434.2,157.3 434.3,156.8 434.4,156.2 434.5,156.0 434.6,156.2 434.7,156.2 434.8,156.3 434.9,156.2 435.0,156.5 435.1,156.3 435.2,155.9 435.3,155.8 435.4,155.9 435.5,156.5 435.5,157.2 435.6,157.7 435.7,157.7 435.8,157.6 435.9,157.4 436.0,156.7 436.1,156.4 436.2,155.6 436.3,155.1 436.4,154.9 436.5,154.3 436.6,154.2 436.7,154.1 436.8,154.2 436.9,153.8 437.0,153.4 437.0,153.1 437.1,152.9 437.2,152.1 437.3,151.8 437.4,151.7 437.5,151.0 437.6,150.2 437.7,149.7 437.8,149.9 437.9,150.6 438.0,151.0 438.1,151.6 438.2,151.6 438.3,152.6 438.4,153.0 438.5,152.8 438.6,152.0 438.6,151.6 438.7,150.9 438.8,150.8 438.9,150.8 439.0,150.8 439.1,150.6 439.2,151.5 439.3,151.7 439.4,151.8 439.5,152.3 439.6,153.2 439.7,153.8 439.8,154.6 439.9,153.9 440.0,153.6 440.1,153.2 440.1,153.1 440.2,153.5 440.3,153.5 440.4,153.6 440.5,153.2 440.6,153.0 440.7,153.0 440.8,152.9 440.9,152.1 441.0,152.2 441.1,152.3 441.2,152.1 441.3,152.1 441.4,152.0 441.5,151.6 441.6,150.8 441.7,151.1 441.7,151.2 441.8,151.3 441.9,151.4 442.0,151.6 442.1,151.8 442.2,151.6 442.3,151.9 442.4,152.0 442.5,152.1 442.6,152.2 442.7,152.4 442.8,152.2 442.9,152.3 443.0,152.3 443.1,152.5 443.2,152.9 443.2,153.2 443.3,153.7 443.4,153.7 443.5,154.1 443.6,154.5 443.7,154.5 443.8,154.5 443.9,155.0 444.0,154.5 444.1,154.5 444.2,154.5 444.3,154.2 444.4,154.1 444.5,154.3 444.6,153.6 444.7,153.9 444.8,154.0 444.8,153.7 444.9,154.0 445.0,154.0 445.1,153.9 445.2,153.2 445.3,153.4 445.4,153.5 445.5,153.2 445.6,153.2 445.7,153.6 445.8,153.4 445.9,153.4 446.0,154.1 446.1,154.5 446.2,155.0 446.3,155.6 446.3,156.3 446.4,156.8 446.5,156.9 446.6,157.0 446.7,157.2 446.8,157.3 446.9,157.6 447.0,157.3 447.1,156.7 447.2,156.9 447.3,156.9 447.4,157.1 447.5,156.8 447.6,156.8 447.7,156.9 447.8,157.1 447.9,157.1 447.9,157.5 448.0,157.4 448.1,157.8 448.2,157.7 448.3,157.8 448.4,157.6 448.5,157.7 448.6,157.5 448.7,157.9 448.8,157.8 448.9,158.0 449.0,158.0 449.1,156.8 449.2,155.3 449.3,154.8 449.4,154.8 449.4,155.3 449.5,155.1 449.6,155.8 449.7,156.2 449.8,156.8 449.9,156.4 450.0,156.9 450.1,156.9 450.2,157.2 450.3,157.8 450.4,158.0 450.5,157.9 450.6,158.1 450.7,157.9 450.8,158.1 450.9,158.2 451.0,158.4 451.0,158.4 451.1,157.9 451.2,157.9 451.3,157.9 451.4,158.2 451.5,158.5 451.6,158.2 451.7,158.6 451.8,159.0 451.9,159.1 452.0,159.3 452.1,158.8 452.2,159.6 452.3,159.5 452.4,159.3 452.5,159.7 452.5,159.9 452.6,159.8 452.7,159.4 452.8,159.7 452.9,160.2 453.0,159.9 453.1,159.5 453.2,159.6 453.3,160.3 453.4,159.9 453.5,160.0 453.6,159.7 453.7,159.7 453.8,159.9 453.9,160.1 454.0,159.6 454.1,159.2 454.1,159.9 454.2,160.1 454.3,159.4 454.4,159.4 454.5,159.7 454.6,159.6 454.7,159.5 454.8,159.4 454.9,159.4 455.0,159.4 455.1,159.4 455.2,159.1 455.3,159.3 455.4,159.2 455.5,159.2 455.6,158.6 455.6,158.4 455.7,158.4 455.8,158.1 455.9,157.9 456.0,157.5 456.1,157.3 456.2,156.6 456.3,156.1 456.4,156.1 456.5,156.1 456.6,155.7 456.7,155.5 456.8,155.4 456.9,155.8 457.0,156.3 457.1,156.1 457.1,155.8 457.2,155.5 457.3,155.8 457.4,155.3 457.5,155.4 457.6,155.1 457.7,154.9 457.8,155.0 457.9,155.1 458.0,155.6 458.1,155.7 458.2,156.2 458.3,155.9 458.4,155.8 458.5,155.4 458.6,155.1 458.7,155.2 458.7,155.0 458.8,155.0 458.9,154.7 459.0,154.4 459.1,154.6 459.2,154.5 459.3,154.3 459.4,154.3 459.5,153.9 459.6,153.3 459.7,153.5 459.8,153.6 459.9,154.4 460.0,154.5 460.1,154.8 460.2,155.5 460.2,155.5 460.3,155.4 460.4,155.7 460.5,155.9 460.6,156.3 460.7,156.1 460.8,156.7 460.9,156.9 461.0,156.3 461.1,156.4 461.2,156.4 461.3,156.5 461.4,156.9 461.5,157.0 461.6,157.0 461.7,157.4 461.8,157.3 461.8,157.0 461.9,158.3 462.0,160.4 462.1,162.3 462.2,164.4 462.3,163.6 462.4,163.0 462.5,162.3 462.6,162.1 462.7,162.0 462.8,161.5 462.9,161.1 463.0,160.9 463.1,160.6 463.2,160.3 463.3,160.0 463.3,160.2 463.4,160.7 463.5,160.6 463.6,160.4 463.7,160.3 463.8,160.2 463.9,160.3 464.0,159.9 464.1,159.7 464.2,159.5 464.3,159.7 464.4,159.7 464.5,159.5 464.6,159.6 464.7,159.9 464.8,159.9 464.9,159.3 464.9,159.1 465.0,158.5 465.1,158.4 465.2,158.4 465.3,158.7 465.4,158.7 465.5,158.1 465.6,157.9 465.7,157.5 465.8,157.1 465.9,157.0 466.0,156.9 466.1,156.7 466.2,156.4 466.3,156.1 466.4,155.8 466.4,155.6 466.5,155.7 466.6,155.6 466.7,155.8 466.8,155.5 466.9,156.2 467.0,156.4 467.1,155.7 467.2,155.8 467.3,156.2 467.4,156.3 467.5,156.0 467.6,156.1 467.7,155.9 467.8,156.0 467.9,155.9 468.0,154.8 468.0,154.6 468.1,154.6 468.2,154.5 468.3,154.3 468.4,154.0 468.5,153.5 468.6,153.3 468.7,153.6 468.8,153.3 468.9,153.2 469.0,153.1 469.1,153.4 469.2,153.4 469.3,153.5 469.4,153.3 469.5,153.6 469.5,153.4 469.6,153.2 469.7,153.4 469.8,153.4 469.9,153.7 470.0,153.4 470.1,154.2 470.2,154.4 470.3,154.9 470.4,155.0 470.5,154.8 470.6,155.0 470.7,155.0 470.8,155.3 470.9,154.7 471.0,154.4 471.1,154.1 471.1,154.5 471.2,154.9 471.3,154.6 471.4,154.6 471.5,154.7 471.6,154.7 471.7,155.1 471.8,154.8 471.9,154.9 472.0,154.7 472.1,154.9 472.2,154.8 472.3,155.0 472.4,154.8 472.5,154.4 472.6,154.1 472.6,154.0 472.7,153.8 472.8,154.7 472.9,154.4 473.0,154.5 473.1,154.5 473.2,154.6 473.3,155.0 473.4,155.2 473.5,155.0 473.6,154.6 473.7,154.8 473.8,155.1 473.9,154.7 474.0,154.9 474.1,154.2 474.2,154.0 474.2,154.2 474.3,153.8 474.4,153.1 474.5,153.4 474.6,152.8 474.7,152.8 474.8,152.2 474.9,152.2 475.0,152.6 475.1,152.3 475.2,151.9 475.3,151.3 475.4,150.7 475.5,150.4 475.6,150.5 475.7,150.6 475.7,150.6 475.8,150.8 475.9,150.9 476.0,151.6 476.1,151.5 476.2,151.5 476.3,150.7 476.4,150.4 476.5,150.5 476.6,150.3 476.7,150.6 476.8,150.8 476.9,151.3 477.0,150.8 477.1,150.6 477.2,151.2 477.3,151.4 477.3,151.3 477.4,151.4 477.5,151.5 477.6,152.0 477.7,152.4 477.8,152.6 477.9,152.5 478.0,153.0 478.1,153.6 478.2,153.4 478.3,153.9 478.4,153.8 478.5,154.0 478.6,153.9 478.7,153.6 478.8,153.6 478.8,153.6 478.9,153.8 479.0,154.0 479.1,153.8 479.2,153.3 479.3,152.8 479.4,152.1 479.5,152.0 479.6,151.9 479.7,151.5 479.8,151.5 479.9,151.5 480.0,151.8 480.1,151.5 480.2,151.8 480.3,151.6 480.4,152.0 480.4,151.6 480.5,151.9 480.6,151.6 480.7,152.1 480.8,152.2 480.9,151.8 481.0,152.1 481.1,152.0 481.2,152.1 481.3,152.8 481.4,152.5 481.5,152.2 481.6,152.3 481.7,152.0 481.8,152.0 481.9,152.1 481.9,151.9 482.0,151.9 482.1,151.0 482.2,151.3 482.3,150.9 482.4,150.4 482.5,150.8 482.6,151.1 482.7,150.8 482.8,150.7 482.9,150.4 483.0,149.8 483.1,149.8 483.2,149.9 483.3,150.5 483.4,150.1 483.5,150.1 483.5,149.8 483.6,149.4 483.7,149.6 483.8,148.8 483.9,148.2 484.0,147.7 484.1,147.7 484.2,147.6 484.3,147.5 484.4,147.4 484.5,147.4 484.6,147.0 484.7,146.8 484.8,146.5 484.9,146.5 485.0,145.9 485.0,145.6 485.1,146.3 485.2,146.3 485.3,146.1 485.4,145.6 485.5,145.6 485.6,145.4 485.7,145.5 485.8,145.1 485.9,145.0 486.0,145.0 486.1,145.1 486.2,144.7 486.3,144.7 486.4,145.0 486.5,144.6 486.6,144.8 486.6,144.7 486.7,144.5 486.8,144.1 486.9,143.8 487.0,143.9 487.1,143.8 487.2,144.1 487.3,143.4 487.4,143.2 487.5,142.6 487.6,142.6 487.7,143.1 487.8,142.5 487.9,142.3 488.0,142.1 488.1,142.0 488.1,141.6 488.2,141.3 488.3,141.7 488.4,141.2 488.5,141.2 488.6,141.1 488.7,140.3 488.8,139.7 488.9,139.6 489.0,139.9 489.1,139.6 489.2,139.1 489.3,138.9 489.4,139.0 489.5,139.0 489.6,139.1 489.7,138.7 489.7,138.2 489.8,137.6 489.9,137.6 490.0,137.0 490.1,136.3 490.2,135.9 490.3,135.4 490.4,134.2 490.5,133.6 490.6,132.7 490.7,133.2 490.8,133.6 490.9,134.5 491.0,134.8 491.1,134.8 491.2,134.5 491.2,134.5 491.3,134.6 491.4,135.0 491.5,135.5 491.6,135.9 491.7,136.1 491.8,136.7 491.9,136.7 492.0,136.6 492.1,136.8 492.2,136.7 492.3,136.8 492.4,136.8 492.5,136.0 492.6,135.7 492.7,135.2 492.8,134.4 492.8,133.6 492.9,133.3 493.0,132.5 493.1,132.0 493.2,131.5 493.3,131.0 493.4,131.0 493.5,130.8 493.6,130.7 493.7,130.3 493.8,130.3 493.9,130.2 494.0,129.7 494.1,129.1 494.2,128.7 494.3,128.1 494.3,128.1 494.4,128.0 494.5,127.7 494.6,127.6 494.7,127.6 494.8,127.8 494.9,128.5 495.0,129.5 495.1,130.1 495.2,130.2 495.3,130.9 495.4,131.2 495.5,130.9 495.6,130.7 495.7,130.6 495.8,130.3 495.9,129.3 495.9,129.3 496.0,128.4 496.1,128.4 496.2,128.1 496.3,127.5 496.4,126.9 496.5,126.5 496.6,126.6 496.7,126.7 496.8,127.2 496.9,126.6 497.0,126.8 497.1,127.0 497.2,127.5 497.3,127.8 497.4,128.4 497.4,128.3 497.5,128.6 497.6,128.6 497.7,129.0 497.8,129.0 497.9,128.4 498.0,128.6 498.1,129.0 498.2,128.7 498.3,128.9 498.4,128.8 498.5,128.4 498.6,128.5 498.7,128.1 498.8,128.1 498.9,127.5 499.0,126.9 499.0,126.9 499.1,126.8 499.2,126.9 499.3,126.7 499.4,126.2 499.5,126.5 499.6,126.0 499.7,126.7 499.8,127.3 499.9,128.2 500.0,127.9 500.1,128.2 500.2,128.4 500.3,129.0 500.4,129.0 500.5,129.9 500.5,130.2 500.6,129.9 500.7,129.9 500.8,129.8 500.9,129.4 501.0,129.6 501.1,129.5 501.2,129.0 501.3,128.9 501.4,128.6 501.5,128.6 501.6,128.4 501.7,128.3 501.8,127.7 501.9,127.4 502.0,127.9 502.1,129.1 502.1,129.3 502.2,129.6 502.3,130.3 502.4,131.4 502.5,132.2 502.6,132.3 502.7,133.1 502.8,133.7 502.9,134.1 503.0,133.9 503.1,134.0 503.2,134.2 503.3,134.5 503.4,134.1 503.5,133.9 503.6,134.1 503.6,134.7 503.7,135.1 503.8,135.0 503.9,135.4 504.0,135.2 504.1,135.3 504.2,135.3 504.3,135.3 504.4,135.2 504.5,135.6 504.6,135.9 504.7,135.3 504.8,135.8 504.9,136.0 505.0,135.7 505.1,135.8 505.2,136.1 505.2,136.5 505.3,136.4 505.4,136.1 505.5,135.7 505.6,135.7 505.7,135.5 505.8,135.8 505.9,135.8 506.0,136.1 506.1,136.0 506.2,135.7 506.3,135.3 506.4,135.6 506.5,135.1 506.6,135.2 506.7,135.4 506.7,135.4 506.8,135.8 506.9,135.7 507.0,135.6 507.1,135.6 507.2,135.3 507.3,135.4 507.4,135.3 507.5,135.7 507.6,135.6 507.7,136.0 507.8,136.2 507.9,136.4 508.0,136.4 508.1,137.0 508.2,137.6 508.3,137.9 508.3,137.8 508.4,137.8 508.5,137.7 508.6,137.4 508.7,137.3 508.8,137.1 508.9,137.1 509.0,137.1 509.1,137.0 509.2,136.6 509.3,136.3 509.4,136.0 509.5,135.8 509.6,135.3 509.7,134.9 509.8,134.6 509.8,134.2 509.9,134.1 510.0,134.1 510.1,133.7 510.2,133.3 510.3,133.1 510.4,132.9 510.5,131.9 510.6,131.9 510.7,131.7 510.8,131.3 510.9,131.4 511.0,131.1 511.1,130.3 511.2,130.0 511.3,129.9 511.4,129.8 511.4,129.8 511.5,129.5 511.6,129.6 511.7,129.8 511.8,129.8 511.9,129.6 512.0,129.6 512.1,129.4 512.2,130.1 512.3,129.8 512.4,129.1 512.5,128.8 512.6,128.9 512.7,129.2 512.8,129.2 512.9,129.6 512.9,129.4 513.0,129.6 513.1,129.4 513.2,129.0 513.3,129.8 513.4,130.0 513.5,130.4 513.6,131.0 513.7,131.4 513.8,131.7 513.9,131.6 514.0,132.3 514.1,132.2 514.2,131.8 514.3,131.8 514.4,131.8 514.5,132.0 514.5,132.6 514.6,132.7 514.7,132.4 514.8,132.0 514.9,131.1 515.0,130.7 515.1,130.4 515.2,129.8 515.3,130.1 515.4,130.3 515.5,130.2 515.6,130.3 515.7,129.9 515.8,129.9 515.9,129.2 516.0,128.6 516.0,128.2 516.1,128.2 516.2,127.8 516.3,127.4 516.4,127.6 516.5,127.3 516.6,127.0 516.7,126.8 516.8,126.1 516.9,125.6 517.0,125.7 517.1,125.5 517.2,125.6 517.3,125.3 517.4,125.4 517.5,125.5 517.6,125.8 517.6,125.8 517.7,126.2 517.8,127.1 517.9,126.9 518.0,127.3 518.1,127.2 518.2,127.0 518.3,126.7 518.4,126.1 518.5,125.9 518.6,125.4 518.7,125.8 518.8,125.5 518.9,125.5 519.0,125.4 519.1,125.4 519.1,125.2 519.2,124.6 519.3,125.1 519.4,125.3 519.5,125.7 519.6,125.6 519.7,125.9 519.8,126.0 519.9,126.3 520.0,126.3 520.1,126.2 520.2,126.5 520.3,126.7 520.4,127.3 520.5,127.4 520.6,127.4 520.7,127.8 520.7,127.6 520.8,128.3 520.9,129.0 521.0,129.4 521.1,129.6 521.2,129.7 521.3,129.8 521.4,129.9 521.5,129.7 521.6,129.9 521.7,130.3 521.8,130.8 521.9,130.2 522.0,131.0 522.1,131.1 522.2,130.7 522.2,130.7 522.3,131.0 522.4,131.0 522.5,130.8 522.6,130.5 522.7,130.9 522.8,130.7 522.9,130.7 523.0,130.4 523.1,130.1 523.2,130.2 523.3,130.7 523.4,130.7 523.5,130.2 523.6,130.1 523.7,130.1 523.8,129.4 523.8,129.8 523.9,129.7 524.0,130.0 524.1,130.1 524.2,130.2 524.3,129.9 524.4,130.3 524.5,130.6 524.6,131.3 524.7,131.3 524.8,131.5 524.9,131.5 525.0,132.0 525.1,132.3 525.2,132.1 525.3,132.3 525.3,132.2 525.4,132.2 525.5,132.4 525.6,133.0 525.7,132.8 525.8,132.9 525.9,132.7 526.0,133.5 526.1,134.1 526.2,134.9 526.3,135.0 526.4,134.5 526.5,134.1 526.6,133.9 526.7,133.7 526.8,133.2 526.9,133.1 526.9,132.8 527.0,132.6 527.1,133.0 527.2,133.0 527.3,132.3 527.4,132.3 527.5,132.1 527.6,132.1 527.7,132.0 527.8,131.5 527.9,131.4 528.0,131.5 528.1,132.4 528.2,132.5 528.3,133.0 528.4,133.5 528.4,133.2 528.5,132.9 528.6,133.5 528.7,133.1 528.8,132.9 528.9,133.1 529.0,132.8 529.1,133.2 529.2,133.5 529.3,133.9 529.4,134.1 529.5,133.7 529.6,133.9 529.7,134.1 529.8,134.3 529.9,134.1 530.0,134.0 530.0,133.6 530.1,133.7 530.2,133.9 530.3,133.9 530.4,133.8 530.5,133.9 530.6,133.7 530.7,132.9 530.8,133.0 530.9,132.8 531.0,132.2 531.1,132.3 531.2,132.4 531.3,132.6 531.4,132.3 531.5,132.0 531.5,131.9 531.6,131.8 531.7,131.2 531.8,130.8 531.9,131.1 532.0,131.0 532.1,130.8 532.2,130.4 532.3,130.3 532.4,130.4 532.5,130.5 532.6,131.0 532.7,131.0 532.8,131.2 532.9,131.1 533.0,131.4 533.0,131.5 533.1,131.8 533.2,132.1 533.3,131.9 533.4,132.0 533.5,131.8 533.6,132.2 533.7,132.1 533.8,132.6 533.9,132.8 534.0,132.9 534.1,132.9 534.2,132.9 534.3,133.1 534.4,133.0 534.5,133.1 534.6,133.0 534.6,132.9 534.7,133.0 534.8,133.3 534.9,133.3 535.0,133.5 535.1,133.5 535.2,133.3 535.3,133.2 535.4,133.4 535.5,134.0 535.6,134.1 535.7,134.3 535.8,134.1 535.9,134.3 536.0,135.0 536.1,135.5 536.1,136.3 536.2,137.0 536.3,137.1 536.4,137.3 536.5,137.8 536.6,137.6 536.7,137.8 536.8,137.6 536.9,137.5 537.0,137.3 537.1,137.4 537.2,137.3 537.3,137.3 537.4,137.1 537.5,136.6 537.6,136.4 537.7,136.8 537.7,137.0 537.8,137.5 537.9,137.6 538.0,137.4 538.1,137.2 538.2,137.3 538.3,137.1 538.4,137.2 538.5,138.0 538.6,138.8 538.7,139.4 538.8,139.2 538.9,140.0 539.0,139.9 539.1,139.8 539.2,140.2 539.2,140.6 539.3,141.1 539.4,141.4 539.5,141.5 539.6,142.2 539.7,142.6 539.8,142.9 539.9,143.5 540.0,144.1 540.1,144.1 540.2,143.9 540.3,144.2 540.4,144.0 540.5,143.9 540.6,144.1 540.7,143.4 540.8,143.7 540.8,143.9 540.9,143.8 541.0,144.3 541.1,144.5 541.2,144.9 541.3,145.2 541.4,145.2 541.5,145.0 541.6,144.6 541.7,144.3 541.8,143.9 541.9,143.7 542.0,143.8 542.1,143.4 542.2,143.5 542.3,143.7 542.3,143.1 542.4,142.8 542.5,142.7 542.6,142.3 542.7,141.9 542.8,142.2 542.9,142.1 543.0,142.3 543.1,142.1 543.2,142.1 543.3,141.6 543.4,141.3 543.5,141.4 543.6,141.2 543.7,141.4 543.8,141.3 543.9,140.9 543.9,140.7 544.0,141.2 544.1,141.2 544.2,141.0 544.3,140.8 544.4,140.3 544.5,140.6 544.6,140.4 544.7,140.5 544.8,140.3 544.9,140.1 545.0,139.8 545.1,139.9 545.2,139.7 545.3,140.0 545.4,140.3 545.4,140.4 545.5,140.7 545.6,141.5 545.7,142.0 545.8,142.2 545.9,142.0 546.0,141.9 546.1,141.9 546.2,142.7 546.3,143.0 546.4,143.1 546.5,143.3 546.6,143.4 546.7,143.7 546.8,143.4 546.9,143.2 547.0,143.5 547.0,144.1 547.1,143.7 547.2,144.1 547.3,144.0 547.4,143.7 547.5,144.2 547.6,143.9 547.7,143.8 547.8,143.4 547.9,143.1 548.0,142.3 548.1,141.9 548.2,141.7 548.3,141.4 548.4,141.6 548.5,141.8 548.5,141.2 548.6,141.6 548.7,141.9 548.8,141.9 548.9,142.4 549.0,143.1 549.1,142.9 549.2,143.2 549.3,143.5 549.4,143.7 549.5,144.1 549.6,144.6 549.7,144.6 549.8,144.0 549.9,143.8 550.0,143.5 550.1,143.8 550.1,143.7 550.2,144.0 550.3,143.6 550.4,143.6 550.5,143.4 550.6,143.3 550.7,143.4 550.8,143.7 550.9,143.4 551.0,143.7 551.1,144.0 551.2,144.0 551.3,144.1 551.4,143.8 551.5,143.4 551.6,143.2 551.6,143.0 551.7,142.9 551.8,142.5 551.9,143.0 552.0,142.7 552.1,142.9 552.2,143.2 552.3,143.0 552.4,143.0 552.5,142.7 552.6,142.8 552.7,144.0 552.8,144.4 552.9,144.3 553.0,144.4 553.1,144.4 553.2,144.8 553.2,145.7 553.3,146.5 553.4,146.7 553.5,146.8 553.6,147.1 553.7,147.1 553.8,147.0 553.9,147.5 554.0,147.6 554.1,147.1 554.2,146.4 554.3,146.4 554.4,145.8 554.5,145.9 554.6,146.2 554.7,146.8 554.7,146.5 554.8,146.6 554.9,145.8 555.0,145.7 555.1,145.6 555.2,146.1 555.3,145.6 555.4,145.7 555.5,145.7 555.6,146.3 555.7,146.0 555.8,145.7 555.9,145.8 556.0,145.7 556.1,145.6 556.2,145.2 556.3,145.2 556.3,144.6 556.4,144.6 556.5,144.8 556.6,144.9 556.7,145.6 556.8,145.8 556.9,145.5 557.0,145.4 557.1,145.7 557.2,145.6 557.3,146.2 557.4,146.3 557.5,146.2 557.6,145.9 557.7,146.2 557.8,145.9 557.8,145.3 557.9,145.5 558.0,145.3 558.1,145.8 558.2,146.4 558.3,146.2 558.4,146.0 558.5,145.8 558.6,145.9 558.7,145.8 558.8,145.4 558.9,144.8 559.0,144.7 559.1,145.0 559.2,144.5 559.3,144.2 559.4,143.8 559.4,143.6 559.5,142.8 559.6,142.6 559.7,142.3 559.8,142.7 559.9,142.8 560.0,142.8 560.1,142.7 560.2,142.4 560.3,142.5 560.4,141.8 560.5,142.0 560.6,142.0 560.7,141.8 560.8,142.0 560.9,141.7 560.9,141.3 561.0,141.3 561.1,140.5 561.2,140.3 561.3,140.1 561.4,140.2 561.5,140.6 561.6,140.7 561.7,140.6 561.8,140.6 561.9,140.2 562.0,140.8 562.1,141.0 562.2,141.4 562.3,140.8 562.4,140.9 562.5,140.9 562.5,141.1 562.6,140.6 562.7,140.6 562.8,140.4 562.9,141.2 563.0,141.1 563.1,141.1 563.2,141.1 563.3,141.0 563.4,141.2 563.5,141.4 563.6,141.4 563.7,141.5 563.8,141.7 563.9,141.9 564.0,142.3 564.0,142.2 564.1,142.1 564.2,142.3 564.3,141.9 564.4,142.6 564.5,142.9 564.6,142.5 564.7,142.9 564.8,143.6 564.9,143.3 565.0,142.5 565.1,142.2 565.2,141.3 565.3,140.9 565.4,140.7 565.5,140.0 565.6,139.5 565.6,139.2 565.7,138.6 565.8,138.3 565.9,138.3 566.0,138.3 566.1,138.1 566.2,138.3 566.3,138.7 566.4,139.1 566.5,139.2 566.6,138.8 566.7,138.6 566.8,138.8 566.9,138.5 567.0,138.9 567.1,138.6 567.1,138.7 567.2,138.5 567.3,138.4 567.4,138.5 567.5,138.4 567.6,138.8 567.7,138.8 567.8,138.5 567.9,137.2 568.0,137.0 568.1,137.0 568.2,137.4 568.3,137.1 568.4,137.7 568.5,138.0 568.6,137.9 568.7,138.3 568.7,137.9 568.8,137.6 568.9,137.8 569.0,138.0 569.1,138.5 569.2,139.0 569.3,138.9 569.4,138.7 569.5,138.7 569.6,138.6 569.7,138.8 569.8,138.8 569.9,139.3 570.0,139.3 570.1,138.9 570.2,138.5 570.2,138.7 570.3,138.9 570.4,138.5 570.5,138.0 570.6,138.5 570.7,138.6 570.8,138.5 570.9,138.1 571.0,138.4 571.1,138.2 571.2,138.2 571.3,137.5 571.4,137.3 571.5,137.4 571.6,137.5 571.7,137.1 571.8,136.9 571.8,137.2 571.9,137.1 572.0,137.5 572.1,137.8 572.2,138.1 572.3,138.5 572.4,138.7 572.5,139.0 572.6,138.9 572.7,138.6 572.8,138.7 572.9,139.0 573.0,138.7 573.1,139.3 573.2,139.9 573.3,139.7 573.3,139.5 573.4,139.2 573.5,139.2 573.6,139.6 573.7,139.7 573.8,139.5 573.9,139.8 574.0,140.0 574.1,139.9 574.2,139.7 574.3,139.0 574.4,138.3 574.5,138.2 574.6,138.0 574.7,137.7 574.8,137.0 574.9,137.2 574.9,137.2 575.0,137.7 575.1,138.0 575.2,137.8 575.3,137.4 575.4,137.6 575.5,137.7 575.6,137.4 575.7,137.4 575.8,137.4 575.9,137.2 576.0,137.0 576.1,136.5 576.2,136.2 576.3,136.2 576.4,136.2 576.4,136.1 576.5,136.4 576.6,136.6 576.7,136.4 576.8,137.1 576.9,136.9 577.0,137.0 577.1,137.2 577.2,137.2 577.3,137.2 577.4,136.9 577.5,137.2 577.6,137.4 577.7,137.7 577.8,137.2 577.9,137.1 578.0,137.5 578.0,137.8 578.1,138.2 578.2,138.3 578.3,138.4 578.4,137.9 578.5,138.6 578.6,138.4 578.7,138.4 578.8,138.8 578.9,139.0 579.0,139.3 579.1,139.5 579.2,139.3 579.3,139.9 579.4,139.7 579.5,139.9 579.5,139.6 579.6,139.6 579.7,139.4 579.8,139.4 579.9,139.2 580.0,139.3 580.1,139.6 580.2,139.5 580.3,139.4 580.4,138.8 580.5,139.6 580.6,139.7 580.7,139.5 580.8,140.0 580.9,140.1 581.0,139.6 581.1,139.2 581.1,139.6 581.2,139.2 581.3,139.0 581.4,138.8 581.5,138.8 581.6,138.8 581.7,139.2 581.8,139.4 581.9,139.3 582.0,139.4 582.1,138.9 582.2,139.1 582.3,139.9 582.4,139.9 582.5,139.8 582.6,139.6 582.6,139.5 582.7,139.6 582.8,139.1 582.9,139.2 583.0,138.9 583.1,138.9 583.2,139.2 583.3,138.7 583.4,139.4 583.5,139.6 583.6,139.4 583.7,139.4 583.8,139.1 583.9,139.0 584.0,139.1 584.1,138.3 584.2,138.3 584.2,138.3 584.3,138.5 584.4,138.7 584.5,138.4 584.6,138.1 584.7,138.1 584.8,138.2 584.9,137.9 585.0,138.3 585.1,138.4 585.2,138.3 585.3,138.5 585.4,138.4 585.5,138.5 585.6,138.7 585.7,138.0 585.7,137.7 585.8,137.3 585.9,137.2 586.0,136.8 586.1,136.4 586.2,136.0 586.3,135.1 586.4,135.2 586.5,135.1 586.6,135.1 586.7,136.1 586.8,136.5 586.9,136.5 587.0,136.3 587.1,136.4 587.2,136.0 587.3,135.6 587.3,135.7 587.4,135.2 587.5,134.6 587.6,134.5 587.7,134.7 587.8,134.2 587.9,134.3 588.0,134.4 588.1,134.3 588.2,134.4 588.3,134.1 588.4,133.8 588.5,133.4 588.6,133.1 588.7,133.3 588.8,133.3 588.8,133.0 588.9,133.1 589.0,132.2 589.1,132.2 589.2,132.3 589.3,131.9 589.4,131.6 589.5,131.6 589.6,131.6 589.7,131.5 589.8,131.2 589.9,130.9 590.0,130.9 590.1,130.7 590.2,130.4 590.3,130.2 590.4,131.1 590.4,131.3 590.5,131.5 590.6,131.6 590.7,131.5 590.8,131.3 590.9,131.1 591.0,131.1 591.1,131.1 591.2,130.6 591.3,130.8 591.4,130.7 591.5,130.2 591.6,130.1 591.7,130.8 591.8,130.7 591.9,130.8 591.9,130.8 592.0,130.5 592.1,130.4 592.2,130.5 592.3,130.2 592.4,130.1 592.5,130.1 592.6,130.0 592.7,129.9 592.8,130.0 592.9,130.2 593.0,130.2 593.1,130.5 593.2,130.9 593.3,130.5 593.4,130.6 593.5,130.6 593.5,130.6 593.6,130.6 593.7,130.6 593.8,130.8 593.9,131.1 594.0,131.0 594.1,131.3 594.2,131.1 594.3,131.9 594.4,132.3 594.5,132.1 594.6,132.3 594.7,132.6 594.8,132.7 594.9,133.1 595.0,132.8 595.0,133.3 595.1,133.2 595.2,133.1 595.3,132.7 595.4,132.2 595.5,132.2 595.6,131.5 595.7,131.4 595.8,131.8 595.9,132.3 596.0,131.6 596.1,131.4 596.2,131.3 596.3,131.3 596.4,131.4 596.5,130.7 596.6,130.5 596.6,129.8 596.7,129.7 596.8,130.3 596.9,129.9 597.0,129.8 597.1,129.7 597.2,129.1 597.3,129.0 597.4,128.5 597.5,128.4 597.6,128.4 597.7,128.1 597.8,128.2 597.9,127.6 598.0,127.2 598.1,127.0 598.1,126.7 598.2,126.3 598.3,126.3 598.4,125.8 598.5,125.7 598.6,125.4 598.7,125.5 598.8,125.3 598.9,125.1 599.0,125.1 599.1,125.1 599.2,125.1 599.3,124.7 599.4,124.8 599.5,124.5 599.6,123.9 599.7,124.2 599.7,125.1 599.8,125.5 599.9,125.6 600.0,126.1 600.1,126.1 600.2,126.4 600.3,126.1 600.4,126.0 600.5,126.0 600.6,125.9 600.7,125.7 600.8,125.4 600.9,125.1 601.0,125.0 601.1,124.8 601.2,124.5 601.2,124.9 601.3,124.9 601.4,125.0 601.5,124.9 601.6,124.8 601.7,124.7 601.8,124.8 601.9,124.5 602.0,124.2 602.1,125.0 602.2,125.2 602.3,125.8 602.4,125.5 602.5,125.9 602.6,126.2 602.7,126.4 602.8,126.7 602.8,127.0 602.9,126.8 603.0,126.9 603.1,126.9 603.2,126.8 603.3,127.3 603.4,127.1 603.5,127.1 603.6,127.0 603.7,127.5 603.8,127.5 603.9,127.6 604.0,128.0 604.1,127.6 604.2,127.6 604.3,127.6 604.3,127.4 604.4,127.0 604.5,126.6 604.6,126.3 604.7,125.8 604.8,125.2 604.9,125.5 605.0,125.5 605.1,125.7 605.2,125.6 605.3,125.0 605.4,124.7 605.5,124.9 605.6,124.9 605.7,124.5 605.8,124.5 605.9,124.5 605.9,124.2 606.0,124.8 606.1,124.6 606.2,124.5 606.3,124.4 606.4,124.7 606.5,125.0 606.6,125.2 606.7,125.1 606.8,125.1 606.9,125.1 607.0,124.6 607.1,124.2 607.2,124.5 607.3,124.7 607.4,124.2 607.4,124.3 607.5,124.0 607.6,123.7 607.7,124.0 607.8,124.2 607.9,124.3 608.0,124.8 608.1,125.2 608.2,125.5 608.3,125.3 608.4,125.6 608.5,125.8 608.6,126.1 608.7,126.7 608.8,126.4 608.9,127.3 608.9,127.6 609.0,127.6 609.1,128.2 609.2,128.1 609.3,127.9 609.4,128.3 609.5,128.4 609.6,128.9 609.7,128.8 609.8,129.0 609.9,129.0 610.0,128.8 610.1,128.8 610.2,128.5 610.3,128.4 610.4,128.6 610.5,128.3 610.5,127.9 610.6,128.2 610.7,127.6 610.8,127.3 610.9,127.0 611.0,127.1 611.1,126.8 611.2,126.5 611.3,126.4 611.4,126.2 611.5,126.6 611.6,126.0 611.7,126.1 611.8,126.6 611.9,126.7 612.0,126.7 612.0,126.3 612.1,126.4 612.2,126.1 612.3,126.2 612.4,125.3 612.5,124.9 612.6,124.8 612.7,125.7 612.8,126.0 612.9,126.8 613.0,127.1 613.1,127.4 613.2,128.4 613.3,128.6 613.4,128.8 613.5,129.0 613.6,129.1 613.6,129.2 613.7,129.5 613.8,129.2 613.9,128.9 614.0,129.1 614.1,129.1 614.2,128.9 614.3,128.8 614.4,128.8 614.5,128.4 614.6,127.9 614.7,127.5 614.8,127.4 614.9,126.6 615.0,125.9 615.1,126.2 615.1,126.4 615.2,126.2 615.3,126.6 615.4,126.7 615.5,126.8 615.6,127.2 615.7,127.5 615.8,128.1 615.9,128.5 616.0,129.3 616.1,128.8 616.2,128.5 616.3,128.0 616.4,127.9 616.5,127.5 616.6,127.0 616.7,126.6 616.7,126.3 616.8,126.5 616.9,126.3 617.0,126.4 617.1,126.7 617.2,127.0 617.3,126.8 617.4,126.4 617.5,126.8 617.6,126.2 617.7,125.7 617.8,125.7 617.9,125.8 618.0,125.8 618.1,125.4 618.2,125.5 618.2,125.9 618.3,125.9 618.4,126.7 618.5,126.8 618.6,126.5 618.7,126.6 618.8,126.5 618.9,126.4 619.0,126.3 619.1,126.4 619.2,126.8 619.3,127.0 619.4,127.1 619.5,126.7 619.6,126.2 619.7,126.0 619.8,126.2 619.8,126.4 619.9,126.4 620.0,126.0 620.1,125.8 620.2,125.8 620.3,126.0 620.4,125.7 620.5,125.6 620.6,125.6 620.7,125.5 620.8,125.0 620.9,125.0 621.0,124.4 621.1,124.0 621.2,124.0 621.3,123.4 621.3,123.1 621.4,123.1 621.5,122.9 621.6,122.8 621.7,122.4 621.8,122.0 621.9,121.6 622.0,121.0 622.1,121.7 622.2,121.3 622.3,121.5 622.4,121.2 622.5,121.1 622.6,120.8 622.7,120.1 622.8,120.4 622.9,120.1 622.9,119.8 623.0,120.2 623.1,119.7 623.2,119.5 623.3,119.4 623.4,119.4 623.5,118.3 623.6,118.4 623.7,118.9 623.8,119.1 623.9,119.2 624.0,119.2 624.1,119.2 624.2,119.5 624.3,119.3 624.4,119.3 624.4,119.7 624.5,119.9 624.6,120.0 624.7,119.7 624.8,119.5 624.9,119.5 625.0,119.5 625.1,119.3 625.2,118.6 625.3,118.8 625.4,118.6 625.5,118.3 625.6,118.5 625.7,118.4 625.8,118.3 625.9,118.8 626.0,118.9 626.0,118.9 626.1,118.8 626.2,119.2 626.3,119.4 626.4,119.0 626.5,119.6 626.6,119.8 626.7,119.9 626.8,120.1 626.9,120.2 627.0,120.4 627.1,120.2 627.2,119.8 627.3,119.9 627.4,119.9 627.5,119.9 627.5,120.0 627.6,120.0 627.7,120.4 627.8,120.2 627.9,119.6 628.0,119.1 628.1,118.7 628.2,119.0 628.3,118.6 628.4,118.8 628.5,118.8 628.6,118.3 628.7,118.6 628.8,118.4 628.9,118.3 629.0,118.3 629.1,118.6 629.1,118.4 629.2,118.5 629.3,118.2 629.4,117.8 629.5,118.2 629.6,118.3 629.7,118.4 629.8,118.7 629.9,119.0 630.0,119.0 630.1,119.0 630.2,119.5 630.3,119.7 630.4,119.5 630.5,119.9 630.6,120.1 630.6,119.7 630.7,119.2 630.8,119.7 630.9,120.2 631.0,120.0 631.1,120.4 631.2,120.5 631.3,120.6 631.4,120.4 631.5,121.2 631.6,121.9 631.7,122.3 631.8,122.0 631.9,122.0 632.0,122.5 632.1,122.4 632.2,122.2 632.2,122.2 632.3,122.3 632.4,122.2 632.5,121.8 632.6,121.8 632.7,121.6 632.8,121.5 632.9,121.6 633.0,121.9 633.1,121.7 633.2,121.8 633.3,121.8 633.4,121.5 633.5,121.3 633.6,121.0 633.7,121.4 633.7,121.2 633.8,121.4 633.9,121.6 634.0,121.8 634.1,121.5 634.2,121.4 634.3,121.7 634.4,122.1 634.5,122.2 634.6,122.4 634.7,122.0 634.8,122.5 634.9,123.2 635.0,123.3 635.1,123.4 635.2,123.5 635.3,123.3 635.3,122.8 635.4,123.0 635.5,123.2 635.6,123.9 635.7,123.9 635.8,123.7 635.9,123.9 636.0,123.6 636.1,123.7 636.2,123.3 636.3,123.3 636.4,123.5 636.5,123.5 636.6,123.9 636.7,124.3 636.8,124.1 636.8,123.7 636.9,123.0 637.0,122.9 637.1,122.8 637.2,123.0 637.3,122.6 637.4,122.3 637.5,122.4 637.6,122.1 637.7,121.8 637.8,122.2 637.9,121.9 638.0,121.7 638.1,121.7 638.2,121.7 638.3,121.0 638.4,120.4 638.4,119.7 638.5,120.0 638.6,120.1 638.7,119.7 638.8,119.9 638.9,120.0 639.0,120.5 639.1,119.8 639.2,119.3 639.3,119.1 639.4,118.9 639.5,118.9 639.6,118.9 639.7,118.6 639.8,118.7 639.9,118.2 639.9,118.3 640.0,118.4 640.1,117.9 640.2,117.8 640.3,117.5 640.4,117.6 640.5,118.2 640.6,118.0 640.7,118.3 640.8,117.9 640.9,118.3 641.0,118.8 641.1,118.7 641.2,118.5 641.3,118.4 641.4,118.7 641.5,118.3 641.5,118.7 641.6,118.8 641.7,119.0 641.8,119.0 641.9,118.7 642.0,118.8 642.1,118.5 642.2,118.2 642.3,118.7 642.4,118.9 642.5,119.0 642.6,119.1 642.7,118.9 642.8,119.4 642.9,119.1 643.0,118.8 643.0,118.7 643.1,119.1 643.2,119.0 643.3,119.1 643.4,118.7 643.5,118.6 643.6,118.3 643.7,118.3 643.8,117.7 643.9,118.2 644.0,118.4 644.1,118.1 644.2,118.5 644.3,118.1 644.4,118.3 644.5,118.2 644.6,118.3 644.6,118.3 644.7,118.1 644.8,118.0 644.9,118.0 645.0,117.2 645.1,117.0 645.2,117.2 645.3,116.7 645.4,116.3 645.5,116.0 645.6,115.5 645.7,115.9 645.8,115.6 645.9,115.3 646.0,115.4 646.1,115.4 646.1,116.4 646.2,116.6 646.3,116.2 646.4,116.8 646.5,117.0 646.6,117.0 646.7,116.9 646.8,116.4 646.9,117.0 647.0,117.1 647.1,116.9 647.2,117.4 647.3,117.4 647.4,116.8 647.5,116.3 647.6,116.1 647.7,116.9 647.7,116.9 647.8,116.8 647.9,116.9 648.0,116.9 648.1,115.9 648.2,115.9 648.3,116.2 648.4,116.3 648.5,116.6 648.6,116.9 648.7,117.1 648.8,117.1 648.9,117.2 649.0,117.7 649.1,117.9 649.2,118.0 649.2,118.3 649.3,118.1 649.4,118.1 649.5,118.6 649.6,118.7 649.7,118.2 649.8,117.9 649.9,118.1 650.0,118.0 650.1,118.2 650.2,118.6 650.3,118.4 650.4,118.3 650.5,118.1 650.6,118.1 650.7,118.0 650.8,118.1 650.8,117.9 650.9,117.6 651.0,117.6 651.1,117.3 651.2,117.8 651.3,118.0 651.4,117.5 651.5,117.0 651.6,116.8 651.7,117.0 651.8,117.5 651.9,117.5 652.0,117.4 652.1,118.0 652.2,117.9 652.3,117.9 652.3,117.9 652.4,118.1 652.5,117.8 652.6,118.2 652.7,117.6 652.8,117.4 652.9,117.7 653.0,117.1 653.1,116.6 653.2,116.7 653.3,115.9 653.4,116.5 653.5,116.6 653.6,116.5 653.7,117.5 653.8,117.1 653.9,117.1 653.9,117.0 654.0,117.2 654.1,117.0 654.2,117.3 654.3,117.5 654.4,117.6 654.5,117.9 654.6,117.3 654.7,117.7 654.8,117.8 654.9,117.8 655.0,117.8 655.1,117.4 655.2,117.1 655.3,117.1 655.4,117.5 655.4,117.8 655.5,117.9 655.6,118.0 655.7,118.4 655.8,119.4 655.9,119.0 656.0,119.1 656.1,119.0 656.2,118.8 656.3,119.0 656.4,119.3 656.5,119.4 656.6,119.5 656.7,119.6 656.8,120.1 656.9,120.2 657.0,120.0 657.0,120.1 657.1,120.1 657.2,120.7 657.3,120.8 657.4,120.8 657.5,121.2 657.6,121.7 657.7,121.4 657.8,121.5 657.9,121.2 658.0,121.1 658.1,120.8 658.2,120.7 658.3,121.0 658.4,120.8 658.5,120.8 658.5,120.4 658.6,120.3 658.7,120.3 658.8,120.3 658.9,120.2 659.0,120.2 659.1,120.1 659.2,120.2 659.3,120.2 659.4,120.2 659.5,120.3 659.6,120.6 659.7,120.8 659.8,120.3 659.9,120.5 660.0,120.8 660.1,121.2 660.1,121.5 660.2,121.2 660.3,121.4 660.4,121.9 660.5,121.7 660.6,122.0 660.7,121.8 660.8,121.6 660.9,121.1 661.0,120.4 661.1,120.2 661.2,120.2 661.3,120.4 661.4,120.5 661.5,120.4 661.6,120.9 661.6,120.7 661.7,120.6 661.8,120.2 661.9,120.2 662.0,120.1 662.1,120.2 662.2,120.3 662.3,120.8 662.4,120.6 662.5,120.1 662.6,119.9 662.7,119.7 662.8,120.2 662.9,119.9 663.0,120.3 663.1,120.2 663.2,120.4 663.2,120.8 663.3,120.7 663.4,120.8 663.5,120.9 663.6,120.9 663.7,121.1 663.8,121.3 663.9,121.3 664.0,121.5 664.1,121.6 664.2,122.0 664.3,122.5 664.4,122.9 664.5,123.1 664.6,123.9 664.7,124.3 664.7,125.7" fill="none" stroke="#000" stroke-width="1.35" stroke-linejoin="round"/>
<text x="19" y="399.8" font-size="9.5" fill="#555" stroke="#555" stroke-width="0.12" textLength="175" lengthAdjust="spacingAndGlyphs">© 2026 Glassnode. All Rights Reserved.</text>
<path d="M648,388.2V391M712.2,388.2V391" stroke="#1a1a1a" stroke-width="1.95"/>
<use href="#gn" stroke="#1a1a1a" stroke-width="7.1" transform="translate(634.3,402.9) scale(0.2747,0.2715) translate(-208,-227)"/>
</svg>
</body></html>
